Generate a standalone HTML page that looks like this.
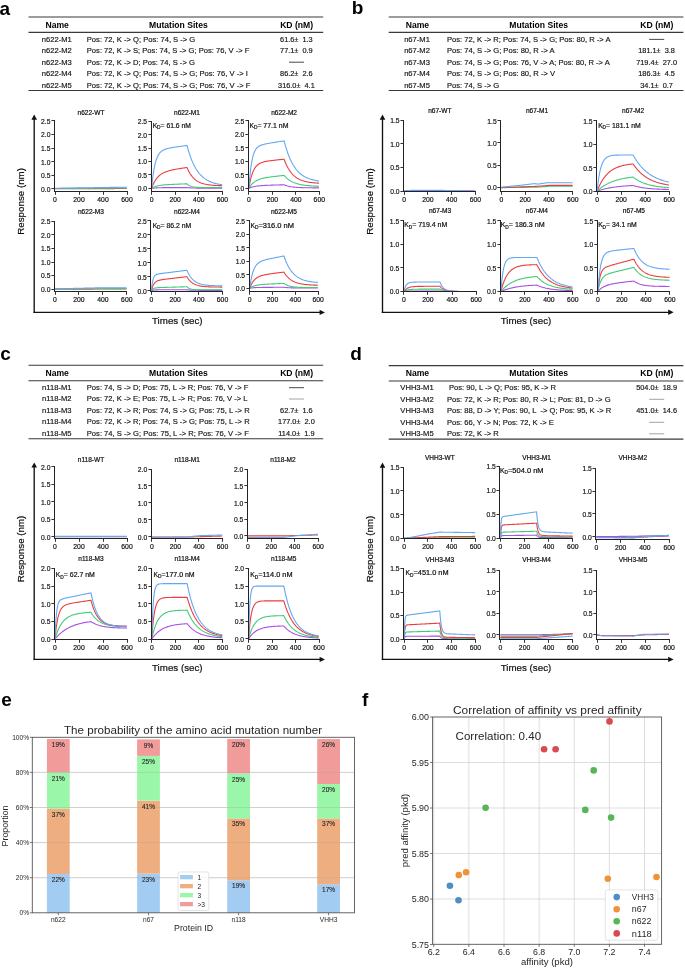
<!DOCTYPE html>
<html><head><meta charset="utf-8"><style>
html,body{margin:0;padding:0;background:#fff;}
svg{display:block;font-family:"Liberation Sans", sans-serif;will-change:transform;filter:blur(0.25px);}
text{white-space:pre;}
.c{fill:#101010;stroke:#101010;stroke-width:0.2px;}
.t{fill:#151515;stroke:#151515;stroke-width:0.17px;}
</style></head><body>
<svg width="685" height="968" viewBox="0 0 685 968">
<rect width="685" height="968" fill="#fff"/>
<text x="-0.60" y="14.70" font-size="19" font-weight="bold" fill="#000">a</text>
<text x="351.70" y="13.90" font-size="19" font-weight="bold" fill="#000">b</text>
<text x="0.30" y="359.70" font-size="19" font-weight="bold" fill="#000">c</text>
<text x="350.20" y="359.70" font-size="19" font-weight="bold" fill="#000">d</text>
<text x="1.20" y="706.30" font-size="19" font-weight="bold" fill="#000">e</text>
<text x="362.00" y="705.90" font-size="19" font-weight="bold" fill="#000">f</text>
<line x1="28.50" y1="17.00" x2="323.20" y2="17.00" stroke="#3a3a3a" stroke-width="1.1"/>
<line x1="28.50" y1="32.40" x2="323.20" y2="32.40" stroke="#3a3a3a" stroke-width="1.1"/>
<line x1="28.50" y1="90.50" x2="323.20" y2="90.50" stroke="#3a3a3a" stroke-width="1.1"/>
<text x="57.20" y="27.80" font-size="8.6" text-anchor="middle" font-weight="bold">Name</text>
<text x="178.40" y="27.80" font-size="8.6" text-anchor="middle" font-weight="bold">Mutation Sites</text>
<text x="296.60" y="27.80" font-size="8.6" text-anchor="middle" font-weight="bold">KD (nM)</text>
<text x="56.80" y="41.80" font-size="7.6" text-anchor="middle" class="t">n622-M1</text>
<text x="86.80" y="41.80" font-size="7.6" class="t">Pos: 72, K -&gt; Q; Pos: 74, S -&gt; G</text>
<text x="296.40" y="41.80" font-size="7.35" text-anchor="middle" class="t">61.6±  1.3</text>
<text x="56.80" y="53.10" font-size="7.6" text-anchor="middle" class="t">n622-M2</text>
<text x="86.80" y="53.10" font-size="7.6" class="t">Pos: 72, K -&gt; S; Pos: 74, S -&gt; G; Pos: 76, V -&gt; F</text>
<text x="296.40" y="53.10" font-size="7.35" text-anchor="middle" class="t">77.1±  0.9</text>
<text x="56.80" y="64.60" font-size="7.6" text-anchor="middle" class="t">n622-M3</text>
<text x="86.80" y="64.60" font-size="7.6" class="t">Pos: 72, K -&gt; D; Pos: 74, S -&gt; G</text>
<line x1="289.00" y1="62.20" x2="304.00" y2="62.20" stroke="#333" stroke-width="0.9"/>
<text x="56.80" y="76.10" font-size="7.6" text-anchor="middle" class="t">n622-M4</text>
<text x="86.80" y="76.10" font-size="7.6" class="t">Pos: 72, K -&gt; Q; Pos: 74, S -&gt; G; Pos: 76, V -&gt; I</text>
<text x="296.40" y="76.10" font-size="7.35" text-anchor="middle" class="t">86.2±  2.6</text>
<text x="56.80" y="87.60" font-size="7.6" text-anchor="middle" class="t">n622-M5</text>
<text x="86.80" y="87.60" font-size="7.6" class="t">Pos: 72, K -&gt; Q; Pos: 74, S -&gt; G; Pos: 76, V -&gt; F</text>
<text x="296.40" y="87.60" font-size="7.35" text-anchor="middle" class="t">316.0±  4.1</text>
<line x1="388.70" y1="17.00" x2="683.40" y2="17.00" stroke="#3a3a3a" stroke-width="1.1"/>
<line x1="388.70" y1="32.40" x2="683.40" y2="32.40" stroke="#3a3a3a" stroke-width="1.1"/>
<line x1="388.70" y1="90.50" x2="683.40" y2="90.50" stroke="#3a3a3a" stroke-width="1.1"/>
<text x="417.40" y="27.80" font-size="8.6" text-anchor="middle" font-weight="bold">Name</text>
<text x="538.60" y="27.80" font-size="8.6" text-anchor="middle" font-weight="bold">Mutation Sites</text>
<text x="656.80" y="27.80" font-size="8.6" text-anchor="middle" font-weight="bold">KD (nM)</text>
<text x="417.00" y="41.80" font-size="7.6" text-anchor="middle" class="t">n67-M1</text>
<text x="447.00" y="41.80" font-size="7.6" class="t">Pos: 72, K -&gt; R; Pos: 74, S -&gt; G; Pos: 80, R -&gt; A</text>
<line x1="649.20" y1="39.40" x2="664.20" y2="39.40" stroke="#333" stroke-width="0.9"/>
<text x="417.00" y="53.10" font-size="7.6" text-anchor="middle" class="t">n67-M2</text>
<text x="447.00" y="53.10" font-size="7.6" class="t">Pos: 74, S -&gt; G; Pos: 80, R -&gt; A</text>
<text x="656.60" y="53.10" font-size="7.35" text-anchor="middle" class="t">181.1±  3.8</text>
<text x="417.00" y="64.60" font-size="7.6" text-anchor="middle" class="t">n67-M3</text>
<text x="447.00" y="64.60" font-size="7.6" class="t">Pos: 74, S -&gt; G; Pos: 76, V -&gt; A; Pos: 80, R -&gt; A</text>
<text x="656.60" y="64.60" font-size="7.35" text-anchor="middle" class="t">719.4±  27.0</text>
<text x="417.00" y="76.10" font-size="7.6" text-anchor="middle" class="t">n67-M4</text>
<text x="447.00" y="76.10" font-size="7.6" class="t">Pos: 74, S -&gt; G; Pos: 80, R -&gt; V</text>
<text x="656.60" y="76.10" font-size="7.35" text-anchor="middle" class="t">186.3±  4.5</text>
<text x="417.00" y="87.60" font-size="7.6" text-anchor="middle" class="t">n67-M5</text>
<text x="447.00" y="87.60" font-size="7.6" class="t">Pos: 74, S -&gt; G</text>
<text x="656.60" y="87.60" font-size="7.35" text-anchor="middle" class="t">34.1±  0.7</text>
<line x1="28.50" y1="365.30" x2="323.20" y2="365.30" stroke="#3a3a3a" stroke-width="1.1"/>
<line x1="28.50" y1="380.70" x2="323.20" y2="380.70" stroke="#3a3a3a" stroke-width="1.1"/>
<line x1="28.50" y1="438.80" x2="323.20" y2="438.80" stroke="#3a3a3a" stroke-width="1.1"/>
<text x="57.20" y="376.10" font-size="8.6" text-anchor="middle" font-weight="bold">Name</text>
<text x="178.40" y="376.10" font-size="8.6" text-anchor="middle" font-weight="bold">Mutation Sites</text>
<text x="296.60" y="376.10" font-size="8.6" text-anchor="middle" font-weight="bold">KD (nM)</text>
<text x="56.80" y="390.10" font-size="7.6" text-anchor="middle" class="t">n118-M1</text>
<text x="86.80" y="390.10" font-size="7.6" class="t">Pos: 74, S -&gt; D; Pos: 75, L -&gt; R; Pos: 76, V -&gt; F</text>
<line x1="289.00" y1="387.70" x2="304.00" y2="387.70" stroke="#333" stroke-width="0.9"/>
<text x="56.80" y="401.40" font-size="7.6" text-anchor="middle" class="t">n118-M2</text>
<text x="86.80" y="401.40" font-size="7.6" class="t">Pos: 72, K -&gt; E; Pos: 75, L -&gt; R; Pos: 76, V -&gt; L</text>
<line x1="289.00" y1="399.00" x2="304.00" y2="399.00" stroke="#999" stroke-width="0.9"/>
<text x="56.80" y="412.90" font-size="7.6" text-anchor="middle" class="t">n118-M3</text>
<text x="86.80" y="412.90" font-size="7.6" class="t">Pos: 72, K -&gt; R; Pos: 74, S -&gt; G; Pos: 75, L -&gt; R</text>
<text x="296.40" y="412.90" font-size="7.35" text-anchor="middle" class="t">62.7±  1.6</text>
<text x="56.80" y="424.40" font-size="7.6" text-anchor="middle" class="t">n118-M4</text>
<text x="86.80" y="424.40" font-size="7.6" class="t">Pos: 72, K -&gt; R; Pos: 74, S -&gt; G; Pos: 75, L -&gt; R</text>
<text x="296.40" y="424.40" font-size="7.35" text-anchor="middle" class="t">177.0±  2.0</text>
<text x="56.80" y="435.90" font-size="7.6" text-anchor="middle" class="t">n118-M5</text>
<text x="86.80" y="435.90" font-size="7.6" class="t">Pos: 74, S -&gt; G; Pos: 75, L -&gt; R; Pos: 76, V -&gt; F</text>
<text x="296.40" y="435.90" font-size="7.35" text-anchor="middle" class="t">114.0±  1.9</text>
<line x1="388.70" y1="365.60" x2="683.40" y2="365.60" stroke="#3a3a3a" stroke-width="1.1"/>
<line x1="388.70" y1="381.00" x2="683.40" y2="381.00" stroke="#3a3a3a" stroke-width="1.1"/>
<line x1="388.70" y1="439.10" x2="683.40" y2="439.10" stroke="#3a3a3a" stroke-width="1.1"/>
<text x="417.40" y="376.40" font-size="8.6" text-anchor="middle" font-weight="bold">Name</text>
<text x="538.60" y="376.40" font-size="8.6" text-anchor="middle" font-weight="bold">Mutation Sites</text>
<text x="656.80" y="376.40" font-size="8.6" text-anchor="middle" font-weight="bold">KD (nM)</text>
<text x="417.00" y="390.40" font-size="7.6" text-anchor="middle" class="t">VHH3-M1</text>
<text x="449.00" y="390.40" font-size="7.6" class="t">Pos: 90, L -&gt; Q; Pos: 95, K -&gt; R</text>
<text x="656.60" y="390.40" font-size="7.35" text-anchor="middle" class="t">504.0±  18.9</text>
<text x="417.00" y="401.70" font-size="7.6" text-anchor="middle" class="t">VHH3-M2</text>
<text x="447.00" y="401.70" font-size="7.6" class="t">Pos: 72, K -&gt; R; Pos: 80, R -&gt; L; Pos: 81, D -&gt; G</text>
<line x1="649.20" y1="399.30" x2="664.20" y2="399.30" stroke="#999" stroke-width="0.9"/>
<text x="417.00" y="413.20" font-size="7.6" text-anchor="middle" class="t">VHH3-M3</text>
<text x="447.00" y="413.20" font-size="7.6" class="t">Pos: 88, D -&gt; Y; Pos: 90, L  -&gt; Q; Pos: 95, K -&gt; R</text>
<text x="656.60" y="413.20" font-size="7.35" text-anchor="middle" class="t">451.0±  14.6</text>
<text x="417.00" y="424.70" font-size="7.6" text-anchor="middle" class="t">VHH3-M4</text>
<text x="447.00" y="424.70" font-size="7.6" class="t">Pos: 66, Y -&gt; N; Pos: 72, K -&gt; E</text>
<line x1="649.20" y1="422.30" x2="664.20" y2="422.30" stroke="#999" stroke-width="0.9"/>
<text x="417.00" y="436.20" font-size="7.6" text-anchor="middle" class="t">VHH3-M5</text>
<text x="447.00" y="436.20" font-size="7.6" class="t">Pos: 72, K -&gt; R</text>
<line x1="649.20" y1="433.80" x2="664.20" y2="433.80" stroke="#999" stroke-width="0.9"/>
<line x1="34.20" y1="118.60" x2="34.20" y2="313.07" stroke="#111" stroke-width="1.35"/>
<line x1="33.53" y1="312.40" x2="321.00" y2="312.40" stroke="#111" stroke-width="1.35"/>
<path d="M34.20,114.60 L31.40,119.80 L37.00,119.80 Z" fill="#111"/>
<path d="M325.00,312.40 L319.60,309.70 L319.60,315.10 Z" fill="#111"/>
<text transform="translate(24.40,201.40) rotate(-90)" font-size="9.75" text-anchor="middle" class="c">Response (nm)</text>
<text x="177.30" y="323.70" font-size="9.75" text-anchor="middle" class="c">Times (sec)</text>
<polyline points="55.00,188.80 55.48,188.80 55.96,188.80 56.44,188.79 56.92,188.79 57.40,188.79 57.88,188.79 58.36,188.79 58.84,188.79 59.32,188.78 59.80,188.78 60.52,188.78 61.24,188.78 61.96,188.77 62.68,188.77 63.40,188.77 64.12,188.77 64.84,188.76 65.56,188.76 66.28,188.76 67.00,188.75 67.72,188.75 68.44,188.75 69.16,188.75 69.88,188.74 70.60,188.74 71.32,188.74 72.04,188.74 72.76,188.73 73.48,188.73 74.20,188.73 74.92,188.72 75.64,188.72 76.36,188.72 77.08,188.72 77.80,188.71 78.52,188.71 79.24,188.71 79.96,188.71 80.68,188.70 81.40,188.70 82.12,188.70 82.84,188.69 83.56,188.69 84.28,188.69 85.00,188.69 85.72,188.68 86.44,188.68 87.16,188.68 87.88,188.68 88.60,188.67 89.32,188.67 90.04,188.67 90.52,188.67 91.00,188.66 91.48,188.66 91.96,188.66 92.44,188.66 92.92,188.66 93.40,188.66 93.88,188.65 94.36,188.65 94.84,188.65 95.32,188.65 95.80,188.65 96.52,188.64 97.24,188.64 97.96,188.64 98.68,188.64 99.40,188.63 100.12,188.63 100.84,188.63 101.56,188.62 102.28,188.62 103.00,188.62 103.72,188.62 104.44,188.61 105.16,188.61 105.88,188.61 106.60,188.61 107.32,188.60 108.04,188.60 108.76,188.60 109.48,188.59 110.20,188.59 110.92,188.59 111.64,188.59 112.36,188.58 113.08,188.58 113.80,188.58 114.52,188.58 115.24,188.57 115.96,188.57 116.68,188.57 117.40,188.56 118.12,188.56 118.84,188.56 119.56,188.56 120.28,188.55 121.00,188.55 121.72,188.55 122.44,188.55 123.16,188.54 123.88,188.54 124.60,188.54 125.32,188.53 126.04,188.53 126.76,188.53" fill="none" stroke="#ec3d3d" stroke-width="1.1" stroke-linejoin="round"/>
<polyline points="55.00,188.53 55.48,188.52 55.96,188.52 56.44,188.52 56.92,188.51 57.40,188.51 57.88,188.51 58.36,188.50 58.84,188.50 59.32,188.50 59.80,188.49 60.52,188.49 61.24,188.48 61.96,188.48 62.68,188.47 63.40,188.47 64.12,188.46 64.84,188.45 65.56,188.45 66.28,188.44 67.00,188.44 67.72,188.43 68.44,188.43 69.16,188.42 69.88,188.42 70.60,188.41 71.32,188.41 72.04,188.40 72.76,188.39 73.48,188.39 74.20,188.38 74.92,188.38 75.64,188.37 76.36,188.37 77.08,188.36 77.80,188.36 78.52,188.35 79.24,188.35 79.96,188.34 80.68,188.33 81.40,188.33 82.12,188.32 82.84,188.32 83.56,188.31 84.28,188.31 85.00,188.30 85.72,188.30 86.44,188.29 87.16,188.29 87.88,188.28 88.60,188.27 89.32,188.27 90.04,188.26 90.52,188.26 91.00,188.26 91.48,188.25 91.96,188.25 92.44,188.25 92.92,188.24 93.40,188.24 93.88,188.24 94.36,188.23 94.84,188.23 95.32,188.22 95.80,188.22 96.52,188.22 97.24,188.21 97.96,188.20 98.68,188.20 99.40,188.19 100.12,188.19 100.84,188.18 101.56,188.18 102.28,188.17 103.00,188.17 103.72,188.16 104.44,188.16 105.16,188.15 105.88,188.14 106.60,188.14 107.32,188.13 108.04,188.13 108.76,188.12 109.48,188.12 110.20,188.11 110.92,188.11 111.64,188.10 112.36,188.10 113.08,188.09 113.80,188.08 114.52,188.08 115.24,188.07 115.96,188.07 116.68,188.06 117.40,188.06 118.12,188.05 118.84,188.05 119.56,188.04 120.28,188.04 121.00,188.03 121.72,188.03 122.44,188.02 123.16,188.01 123.88,188.01 124.60,188.00 125.32,188.00 126.04,187.99 126.76,187.99" fill="none" stroke="#3fcb7a" stroke-width="1.1" stroke-linejoin="round"/>
<polyline points="55.00,188.26 55.48,188.25 55.96,188.24 56.44,188.24 56.92,188.23 57.40,188.22 57.88,188.21 58.36,188.21 58.84,188.20 59.32,188.19 59.80,188.18 60.52,188.17 61.24,188.16 61.96,188.15 62.68,188.14 63.40,188.13 64.12,188.12 64.84,188.11 65.56,188.10 66.28,188.09 67.00,188.08 67.72,188.06 68.44,188.05 69.16,188.04 69.88,188.03 70.60,188.02 71.32,188.01 72.04,188.00 72.76,187.99 73.48,187.98 74.20,187.97 74.92,187.96 75.64,187.95 76.36,187.93 77.08,187.92 77.80,187.91 78.52,187.90 79.24,187.89 79.96,187.88 80.68,187.87 81.40,187.86 82.12,187.85 82.84,187.84 83.56,187.83 84.28,187.81 85.00,187.80 85.72,187.79 86.44,187.78 87.16,187.77 87.88,187.76 88.60,187.75 89.32,187.74 90.04,187.73 90.52,187.72 91.00,187.71 91.48,187.71 91.96,187.70 92.44,187.69 92.92,187.68 93.40,187.68 93.88,187.67 94.36,187.66 94.84,187.66 95.32,187.65 95.80,187.64 96.52,187.63 97.24,187.62 97.96,187.61 98.68,187.60 99.40,187.59 100.12,187.58 100.84,187.57 101.56,187.55 102.28,187.54 103.00,187.53 103.72,187.52 104.44,187.51 105.16,187.50 105.88,187.49 106.60,187.48 107.32,187.47 108.04,187.46 108.76,187.45 109.48,187.43 110.20,187.42 110.92,187.41 111.64,187.40 112.36,187.39 113.08,187.38 113.80,187.37 114.52,187.36 115.24,187.35 115.96,187.34 116.68,187.33 117.40,187.32 118.12,187.30 118.84,187.29 119.56,187.28 120.28,187.27 121.00,187.26 121.72,187.25 122.44,187.24 123.16,187.23 123.88,187.22 124.60,187.21 125.32,187.20 126.04,187.18 126.76,187.17" fill="none" stroke="#62a6f4" stroke-width="1.1" stroke-linejoin="round"/>
<line x1="54.50" y1="120.00" x2="54.50" y2="192.00" stroke="#222" stroke-width="1.0"/>
<line x1="51.40" y1="188.50" x2="54.50" y2="188.50" stroke="#333" stroke-width="1.0"/>
<text transform="translate(50.40,191.70) scale(0.83,1)" font-size="8.1" text-anchor="end" class="c">0.0</text>
<line x1="51.40" y1="175.50" x2="54.50" y2="175.50" stroke="#333" stroke-width="1.0"/>
<text transform="translate(50.40,178.12) scale(0.83,1)" font-size="8.1" text-anchor="end" class="c">0.5</text>
<line x1="51.40" y1="161.50" x2="54.50" y2="161.50" stroke="#333" stroke-width="1.0"/>
<text transform="translate(50.40,164.54) scale(0.83,1)" font-size="8.1" text-anchor="end" class="c">1.0</text>
<line x1="51.40" y1="148.50" x2="54.50" y2="148.50" stroke="#333" stroke-width="1.0"/>
<text transform="translate(50.40,150.96) scale(0.83,1)" font-size="8.1" text-anchor="end" class="c">1.5</text>
<line x1="51.40" y1="134.50" x2="54.50" y2="134.50" stroke="#333" stroke-width="1.0"/>
<text transform="translate(50.40,137.38) scale(0.83,1)" font-size="8.1" text-anchor="end" class="c">2.0</text>
<line x1="51.40" y1="120.50" x2="54.50" y2="120.50" stroke="#333" stroke-width="1.0"/>
<text transform="translate(50.40,123.80) scale(0.83,1)" font-size="8.1" text-anchor="end" class="c">2.5</text>
<line x1="54.00" y1="191.50" x2="128.00" y2="191.50" stroke="#222" stroke-width="1.0"/>
<line x1="55.50" y1="191.50" x2="55.50" y2="194.80" stroke="#333" stroke-width="1.0"/>
<text transform="translate(55.00,201.90) scale(0.91,1)" font-size="7.5" text-anchor="middle" class="c">0</text>
<line x1="79.50" y1="191.50" x2="79.50" y2="194.80" stroke="#333" stroke-width="1.0"/>
<text transform="translate(79.00,201.90) scale(0.91,1)" font-size="7.5" text-anchor="middle" class="c">200</text>
<line x1="103.50" y1="191.50" x2="103.50" y2="194.80" stroke="#333" stroke-width="1.0"/>
<text transform="translate(103.00,201.90) scale(0.91,1)" font-size="7.5" text-anchor="middle" class="c">400</text>
<line x1="127.50" y1="191.50" x2="127.50" y2="194.80" stroke="#333" stroke-width="1.0"/>
<text transform="translate(127.00,201.90) scale(0.91,1)" font-size="7.5" text-anchor="middle" class="c">600</text>
<text x="91.00" y="114.60" font-size="6.55" text-anchor="middle" class="c">n622-WT</text>
<polyline points="151.60,188.40 152.07,188.32 152.54,188.25 153.02,188.19 153.49,188.13 153.96,188.08 154.43,188.04 154.90,187.99 155.38,187.96 155.85,187.92 156.32,187.89 157.03,187.85 157.74,187.81 158.44,187.78 159.15,187.76 159.86,187.73 160.57,187.72 161.28,187.70 161.98,187.68 162.69,187.67 163.40,187.66 164.11,187.65 164.82,187.64 165.52,187.64 166.23,187.63 166.94,187.63 167.65,187.62 168.36,187.62 169.06,187.61 169.77,187.61 170.48,187.61 171.19,187.61 171.90,187.61 172.60,187.60 173.31,187.60 174.02,187.60 174.73,187.60 175.44,187.60 176.14,187.60 176.85,187.60 177.56,187.60 178.27,187.60 178.98,187.60 179.68,187.60 180.39,187.60 181.10,187.60 181.81,187.60 182.52,187.60 183.22,187.60 183.93,187.60 184.64,187.60 185.35,187.60 186.06,187.60 186.53,187.60 187.00,187.60 187.47,187.65 187.94,187.70 188.42,187.74 188.89,187.78 189.36,187.82 189.83,187.85 190.30,187.88 190.78,187.91 191.25,187.93 191.72,187.95 192.43,187.98 193.14,188.01 193.84,188.03 194.55,188.04 195.26,188.06 195.97,188.07 196.68,188.09 197.38,188.10 198.09,188.10 198.80,188.11 199.51,188.12 200.22,188.12 200.92,188.13 201.63,188.13 202.34,188.14 203.05,188.14 203.76,188.14 204.46,188.14 205.17,188.15 205.88,188.15 206.59,188.15 207.30,188.15 208.00,188.15 208.71,188.15 209.42,188.15 210.13,188.15 210.84,188.15 211.54,188.16 212.25,188.16 212.96,188.16 213.67,188.16 214.38,188.16 215.08,188.16 215.79,188.16 216.50,188.16 217.21,188.16 217.92,188.16 218.62,188.16 219.33,188.16 220.04,188.16 220.75,188.16 221.46,188.16 222.16,188.16" fill="none" stroke="#ab4fe6" stroke-width="1.1" stroke-linejoin="round"/>
<polyline points="151.60,188.40 152.07,188.08 152.54,187.78 153.02,187.51 153.49,187.27 153.96,187.04 154.43,186.84 154.90,186.65 155.38,186.48 155.85,186.32 156.32,186.18 157.03,185.99 157.74,185.82 158.44,185.67 159.15,185.54 159.86,185.42 160.57,185.31 161.28,185.22 161.98,185.13 162.69,185.06 163.40,184.99 164.11,184.92 164.82,184.86 165.52,184.81 166.23,184.76 166.94,184.71 167.65,184.67 168.36,184.62 169.06,184.58 169.77,184.55 170.48,184.51 171.19,184.47 171.90,184.44 172.60,184.40 173.31,184.37 174.02,184.34 174.73,184.31 175.44,184.28 176.14,184.25 176.85,184.22 177.56,184.19 178.27,184.16 178.98,184.13 179.68,184.10 180.39,184.07 181.10,184.04 181.81,184.02 182.52,183.99 183.22,183.96 183.93,183.93 184.64,183.90 185.35,183.88 186.06,183.85 186.53,183.83 187.00,183.81 187.47,184.28 187.94,184.69 188.42,185.05 188.89,185.37 189.36,185.64 189.83,185.88 190.30,186.09 190.78,186.28 191.25,186.44 191.72,186.58 192.43,186.76 193.14,186.91 193.84,187.03 194.55,187.13 195.26,187.21 195.97,187.28 196.68,187.33 197.38,187.37 198.09,187.41 198.80,187.44 199.51,187.46 200.22,187.48 200.92,187.50 201.63,187.51 202.34,187.52 203.05,187.53 203.76,187.54 204.46,187.55 205.17,187.55 205.88,187.56 206.59,187.56 207.30,187.56 208.00,187.56 208.71,187.57 209.42,187.57 210.13,187.57 210.84,187.57 211.54,187.57 212.25,187.57 212.96,187.57 213.67,187.57 214.38,187.57 215.08,187.57 215.79,187.57 216.50,187.57 217.21,187.57 217.92,187.57 218.62,187.57 219.33,187.57 220.04,187.57 220.75,187.57 221.46,187.57 222.16,187.57" fill="none" stroke="#3fcb7a" stroke-width="1.1" stroke-linejoin="round"/>
<polyline points="151.60,188.40 152.07,187.10 152.54,185.89 153.02,184.77 153.49,183.73 153.96,182.77 154.43,181.87 154.90,181.04 155.38,180.27 155.85,179.55 156.32,178.89 157.03,177.97 157.74,177.15 158.44,176.41 159.15,175.74 159.86,175.14 160.57,174.59 161.28,174.10 161.98,173.65 162.69,173.24 163.40,172.87 164.11,172.52 164.82,172.21 165.52,171.92 166.23,171.65 166.94,171.40 167.65,171.17 168.36,170.95 169.06,170.75 169.77,170.56 170.48,170.38 171.19,170.20 171.90,170.04 172.60,169.89 173.31,169.74 174.02,169.60 174.73,169.46 175.44,169.33 176.14,169.20 176.85,169.07 177.56,168.95 178.27,168.83 178.98,168.72 179.68,168.60 180.39,168.49 181.10,168.38 181.81,168.27 182.52,168.16 183.22,168.06 183.93,167.95 184.64,167.85 185.35,167.74 186.06,167.64 186.53,167.57 187.00,167.50 187.47,168.60 187.94,169.63 188.42,170.60 188.89,171.52 189.36,172.37 189.83,173.18 190.30,173.94 190.78,174.65 191.25,175.32 191.72,175.96 192.43,176.83 193.14,177.63 193.84,178.36 194.55,179.02 195.26,179.63 195.97,180.18 196.68,180.68 197.38,181.14 198.09,181.56 198.80,181.94 199.51,182.29 200.22,182.61 200.92,182.90 201.63,183.16 202.34,183.40 203.05,183.62 203.76,183.82 204.46,184.01 205.17,184.17 205.88,184.32 206.59,184.46 207.30,184.59 208.00,184.70 208.71,184.81 209.42,184.90 210.13,184.99 210.84,185.07 211.54,185.14 212.25,185.21 212.96,185.27 213.67,185.32 214.38,185.37 215.08,185.42 215.79,185.46 216.50,185.50 217.21,185.53 217.92,185.57 218.62,185.59 219.33,185.62 220.04,185.64 220.75,185.67 221.46,185.69 222.16,185.70" fill="none" stroke="#ec3d3d" stroke-width="1.1" stroke-linejoin="round"/>
<polyline points="151.60,188.40 152.07,183.58 152.54,179.35 153.02,175.64 153.49,172.39 153.96,169.53 154.43,167.03 154.90,164.82 155.38,162.89 155.85,161.19 156.32,159.69 157.03,157.77 157.74,156.18 158.44,154.87 159.15,153.77 159.86,152.86 160.57,152.09 161.28,151.44 161.98,150.90 162.69,150.43 163.40,150.04 164.11,149.69 164.82,149.39 165.52,149.13 166.23,148.90 166.94,148.69 167.65,148.51 168.36,148.34 169.06,148.18 169.77,148.03 170.48,147.89 171.19,147.76 171.90,147.64 172.60,147.52 173.31,147.41 174.02,147.30 174.73,147.19 175.44,147.08 176.14,146.97 176.85,146.87 177.56,146.77 178.27,146.67 178.98,146.57 179.68,146.47 180.39,146.37 181.10,146.27 181.81,146.17 182.52,146.07 183.22,145.98 183.93,145.88 184.64,145.78 185.35,145.68 186.06,145.59 186.53,145.52 187.00,145.46 187.47,147.23 187.94,148.93 188.42,150.55 188.89,152.10 189.36,153.59 189.83,155.01 190.30,156.37 190.78,157.66 191.25,158.91 191.72,160.10 192.43,161.78 193.14,163.36 193.84,164.84 194.55,166.22 195.26,167.51 195.97,168.72 196.68,169.85 197.38,170.91 198.09,171.90 198.80,172.82 199.51,173.69 200.22,174.50 200.92,175.26 201.63,175.97 202.34,176.63 203.05,177.25 203.76,177.83 204.46,178.37 205.17,178.88 205.88,179.36 206.59,179.80 207.30,180.22 208.00,180.61 208.71,180.97 209.42,181.31 210.13,181.63 210.84,181.93 211.54,182.21 212.25,182.47 212.96,182.71 213.67,182.94 214.38,183.15 215.08,183.35 215.79,183.54 216.50,183.72 217.21,183.88 217.92,184.03 218.62,184.18 219.33,184.31 220.04,184.44 220.75,184.55 221.46,184.66 222.16,184.76" fill="none" stroke="#62a6f4" stroke-width="1.1" stroke-linejoin="round"/>
<line x1="151.50" y1="121.00" x2="151.50" y2="192.00" stroke="#222" stroke-width="1.0"/>
<line x1="148.40" y1="188.50" x2="151.50" y2="188.50" stroke="#333" stroke-width="1.0"/>
<text transform="translate(147.00,191.30) scale(0.83,1)" font-size="8.1" text-anchor="end" class="c">0.0</text>
<line x1="148.40" y1="174.50" x2="151.50" y2="174.50" stroke="#333" stroke-width="1.0"/>
<text transform="translate(147.00,177.88) scale(0.83,1)" font-size="8.1" text-anchor="end" class="c">0.5</text>
<line x1="148.40" y1="161.50" x2="151.50" y2="161.50" stroke="#333" stroke-width="1.0"/>
<text transform="translate(147.00,164.46) scale(0.83,1)" font-size="8.1" text-anchor="end" class="c">1.0</text>
<line x1="148.40" y1="148.50" x2="151.50" y2="148.50" stroke="#333" stroke-width="1.0"/>
<text transform="translate(147.00,151.04) scale(0.83,1)" font-size="8.1" text-anchor="end" class="c">1.5</text>
<line x1="148.40" y1="134.50" x2="151.50" y2="134.50" stroke="#333" stroke-width="1.0"/>
<text transform="translate(147.00,137.62) scale(0.83,1)" font-size="8.1" text-anchor="end" class="c">2.0</text>
<line x1="148.40" y1="121.50" x2="151.50" y2="121.50" stroke="#333" stroke-width="1.0"/>
<text transform="translate(147.00,124.20) scale(0.83,1)" font-size="8.1" text-anchor="end" class="c">2.5</text>
<line x1="151.00" y1="191.50" x2="223.00" y2="191.50" stroke="#222" stroke-width="1.0"/>
<line x1="151.50" y1="191.50" x2="151.50" y2="194.80" stroke="#333" stroke-width="1.0"/>
<text transform="translate(151.60,201.70) scale(0.91,1)" font-size="7.5" text-anchor="middle" class="c">0</text>
<line x1="175.50" y1="191.50" x2="175.50" y2="194.80" stroke="#333" stroke-width="1.0"/>
<text transform="translate(175.20,201.70) scale(0.91,1)" font-size="7.5" text-anchor="middle" class="c">200</text>
<line x1="198.50" y1="191.50" x2="198.50" y2="194.80" stroke="#333" stroke-width="1.0"/>
<text transform="translate(198.80,201.70) scale(0.91,1)" font-size="7.5" text-anchor="middle" class="c">400</text>
<line x1="222.50" y1="191.50" x2="222.50" y2="194.80" stroke="#333" stroke-width="1.0"/>
<text transform="translate(222.40,201.70) scale(0.91,1)" font-size="7.5" text-anchor="middle" class="c">600</text>
<text x="187.00" y="114.60" font-size="6.55" text-anchor="middle" class="c">n622-M1</text>
<text x="152.65" y="127.80" font-size="6.7" class="c">K<tspan font-size="4.82" dy="1.6">D</tspan></text>
<text x="160.60" y="127.80" font-size="6.7" class="c" textLength="30.35" lengthAdjust="spacingAndGlyphs">= 61.6 nM</text>
<polyline points="248.90,188.30 249.37,188.08 249.84,187.88 250.31,187.69 250.78,187.52 251.25,187.36 251.72,187.21 252.19,187.07 252.65,186.94 253.12,186.82 253.59,186.71 254.30,186.55 255.00,186.42 255.71,186.29 256.41,186.18 257.11,186.08 257.82,185.99 258.52,185.91 259.23,185.83 259.93,185.76 260.63,185.70 261.34,185.64 262.04,185.59 262.75,185.54 263.45,185.50 264.15,185.45 264.86,185.41 265.56,185.38 266.27,185.34 266.97,185.31 267.67,185.28 268.38,185.25 269.08,185.23 269.79,185.20 270.49,185.18 271.19,185.15 271.90,185.13 272.60,185.11 273.31,185.09 274.01,185.06 274.71,185.04 275.42,185.02 276.12,185.00 276.83,184.99 277.53,184.97 278.23,184.95 278.94,184.93 279.64,184.91 280.35,184.89 281.05,184.88 281.75,184.86 282.46,184.84 283.16,184.82 283.63,184.81 284.10,184.80 284.57,185.00 285.04,185.19 285.51,185.36 285.98,185.52 286.45,185.67 286.92,185.82 287.39,185.95 287.85,186.07 288.32,186.19 288.79,186.30 289.50,186.45 290.20,186.59 290.91,186.71 291.61,186.82 292.31,186.92 293.02,187.01 293.72,187.10 294.43,187.17 295.13,187.24 295.83,187.30 296.54,187.35 297.24,187.40 297.95,187.45 298.65,187.49 299.35,187.53 300.06,187.56 300.76,187.59 301.47,187.62 302.17,187.64 302.87,187.67 303.58,187.69 304.28,187.71 304.99,187.72 305.69,187.74 306.39,187.75 307.10,187.76 307.80,187.77 308.51,187.78 309.21,187.79 309.91,187.80 310.62,187.81 311.32,187.82 312.03,187.82 312.73,187.83 313.43,187.83 314.14,187.84 314.84,187.84 315.55,187.84 316.25,187.85 316.95,187.85 317.66,187.85 318.36,187.86 319.07,187.86" fill="none" stroke="#ab4fe6" stroke-width="1.1" stroke-linejoin="round"/>
<polyline points="248.90,188.30 249.37,187.53 249.84,186.81 250.31,186.15 250.78,185.53 251.25,184.96 251.72,184.42 252.19,183.93 252.65,183.47 253.12,183.04 253.59,182.64 254.30,182.09 255.00,181.60 255.71,181.15 256.41,180.75 257.11,180.38 257.82,180.05 258.52,179.74 259.23,179.47 259.93,179.21 260.63,178.98 261.34,178.77 262.04,178.57 262.75,178.39 263.45,178.22 264.15,178.06 264.86,177.91 265.56,177.77 266.27,177.64 266.97,177.51 267.67,177.39 268.38,177.28 269.08,177.17 269.79,177.07 270.49,176.97 271.19,176.87 271.90,176.78 272.60,176.69 273.31,176.60 274.01,176.51 274.71,176.43 275.42,176.35 276.12,176.27 276.83,176.19 277.53,176.11 278.23,176.03 278.94,175.95 279.64,175.88 280.35,175.80 281.05,175.73 281.75,175.65 282.46,175.58 283.16,175.51 283.63,175.46 284.10,175.41 284.57,175.95 285.04,176.46 285.51,176.95 285.98,177.42 286.45,177.86 286.92,178.28 287.39,178.68 287.85,179.06 288.32,179.43 288.79,179.77 289.50,180.26 290.20,180.71 290.91,181.13 291.61,181.51 292.31,181.87 293.02,182.21 293.72,182.52 294.43,182.81 295.13,183.07 295.83,183.32 296.54,183.55 297.24,183.76 297.95,183.96 298.65,184.14 299.35,184.31 300.06,184.47 300.76,184.62 301.47,184.75 302.17,184.88 302.87,185.00 303.58,185.10 304.28,185.20 304.99,185.30 305.69,185.38 306.39,185.46 307.10,185.54 307.80,185.61 308.51,185.67 309.21,185.73 309.91,185.79 310.62,185.84 311.32,185.89 312.03,185.93 312.73,185.97 313.43,186.01 314.14,186.04 314.84,186.08 315.55,186.11 316.25,186.13 316.95,186.16 317.66,186.18 318.36,186.21 319.07,186.23" fill="none" stroke="#3fcb7a" stroke-width="1.1" stroke-linejoin="round"/>
<polyline points="248.90,188.30 249.37,185.49 249.84,182.97 250.31,180.73 250.78,178.72 251.25,176.92 251.72,175.31 252.19,173.87 252.65,172.58 253.12,171.43 253.59,170.39 254.30,169.04 255.00,167.88 255.71,166.90 256.41,166.06 257.11,165.34 257.82,164.73 258.52,164.20 259.23,163.74 259.93,163.34 260.63,163.00 261.34,162.70 262.04,162.43 262.75,162.20 263.45,161.99 264.15,161.81 264.86,161.64 265.56,161.48 266.27,161.35 266.97,161.22 267.67,161.10 268.38,160.99 269.08,160.88 269.79,160.78 270.49,160.69 271.19,160.60 271.90,160.51 272.60,160.43 273.31,160.34 274.01,160.26 274.71,160.19 275.42,160.11 276.12,160.03 276.83,159.96 277.53,159.88 278.23,159.81 278.94,159.74 279.64,159.67 280.35,159.59 281.05,159.52 281.75,159.45 282.46,159.38 283.16,159.31 283.63,159.26 284.10,159.22 284.57,160.48 285.04,161.69 285.51,162.83 285.98,163.91 286.45,164.93 286.92,165.91 287.39,166.83 287.85,167.70 288.32,168.53 288.79,169.31 289.50,170.42 290.20,171.43 290.91,172.37 291.61,173.24 292.31,174.04 293.02,174.78 293.72,175.46 294.43,176.09 295.13,176.67 295.83,177.21 296.54,177.70 297.24,178.16 297.95,178.58 298.65,178.97 299.35,179.33 300.06,179.66 300.76,179.97 301.47,180.25 302.17,180.51 302.87,180.75 303.58,180.98 304.28,181.18 304.99,181.37 305.69,181.55 306.39,181.71 307.10,181.86 307.80,181.99 308.51,182.12 309.21,182.24 309.91,182.35 310.62,182.45 311.32,182.54 312.03,182.62 312.73,182.70 313.43,182.77 314.14,182.84 314.84,182.90 315.55,182.96 316.25,183.01 316.95,183.06 317.66,183.11 318.36,183.15 319.07,183.19" fill="none" stroke="#ec3d3d" stroke-width="1.1" stroke-linejoin="round"/>
<polyline points="248.90,188.30 249.37,182.05 249.84,176.71 250.31,172.14 250.78,168.24 251.25,164.91 251.72,162.06 252.19,159.62 252.65,157.53 253.12,155.73 253.59,154.19 254.30,152.28 255.00,150.75 255.71,149.52 256.41,148.53 257.11,147.73 257.82,147.08 258.52,146.54 259.23,146.09 259.93,145.71 260.63,145.39 261.34,145.11 262.04,144.87 262.75,144.66 263.45,144.46 264.15,144.29 264.86,144.13 265.56,143.97 266.27,143.83 266.97,143.69 267.67,143.56 268.38,143.43 269.08,143.31 269.79,143.19 270.49,143.07 271.19,142.95 271.90,142.83 272.60,142.71 273.31,142.60 274.01,142.48 274.71,142.37 275.42,142.25 276.12,142.14 276.83,142.02 277.53,141.91 278.23,141.80 278.94,141.68 279.64,141.57 280.35,141.46 281.05,141.34 281.75,141.23 282.46,141.12 283.16,141.00 283.63,140.93 284.10,140.85 284.57,142.67 285.04,144.40 285.51,146.06 285.98,147.65 286.45,149.17 286.92,150.62 287.39,152.01 287.85,153.34 288.32,154.62 288.79,155.83 289.50,157.56 290.20,159.18 290.91,160.69 291.61,162.10 292.31,163.42 293.02,164.66 293.72,165.82 294.43,166.90 295.13,167.91 295.83,168.86 296.54,169.75 297.24,170.58 297.95,171.35 298.65,172.08 299.35,172.76 300.06,173.39 300.76,173.99 301.47,174.54 302.17,175.06 302.87,175.55 303.58,176.00 304.28,176.43 304.99,176.83 305.69,177.20 306.39,177.55 307.10,177.88 307.80,178.18 308.51,178.47 309.21,178.73 309.91,178.98 310.62,179.22 311.32,179.44 312.03,179.64 312.73,179.83 313.43,180.01 314.14,180.18 314.84,180.33 315.55,180.48 316.25,180.62 316.95,180.75 317.66,180.87 318.36,180.98 319.07,181.08" fill="none" stroke="#62a6f4" stroke-width="1.1" stroke-linejoin="round"/>
<line x1="248.50" y1="120.00" x2="248.50" y2="192.00" stroke="#222" stroke-width="1.0"/>
<line x1="245.40" y1="188.50" x2="248.50" y2="188.50" stroke="#333" stroke-width="1.0"/>
<text transform="translate(244.30,191.20) scale(0.83,1)" font-size="8.1" text-anchor="end" class="c">0.0</text>
<line x1="245.40" y1="174.50" x2="248.50" y2="174.50" stroke="#333" stroke-width="1.0"/>
<text transform="translate(244.30,177.72) scale(0.83,1)" font-size="8.1" text-anchor="end" class="c">0.5</text>
<line x1="245.40" y1="161.50" x2="248.50" y2="161.50" stroke="#333" stroke-width="1.0"/>
<text transform="translate(244.30,164.24) scale(0.83,1)" font-size="8.1" text-anchor="end" class="c">1.0</text>
<line x1="245.40" y1="147.50" x2="248.50" y2="147.50" stroke="#333" stroke-width="1.0"/>
<text transform="translate(244.30,150.76) scale(0.83,1)" font-size="8.1" text-anchor="end" class="c">1.5</text>
<line x1="245.40" y1="134.50" x2="248.50" y2="134.50" stroke="#333" stroke-width="1.0"/>
<text transform="translate(244.30,137.28) scale(0.83,1)" font-size="8.1" text-anchor="end" class="c">2.0</text>
<line x1="245.40" y1="120.50" x2="248.50" y2="120.50" stroke="#333" stroke-width="1.0"/>
<text transform="translate(244.30,123.80) scale(0.83,1)" font-size="8.1" text-anchor="end" class="c">2.5</text>
<line x1="248.00" y1="191.50" x2="320.00" y2="191.50" stroke="#222" stroke-width="1.0"/>
<line x1="248.50" y1="191.50" x2="248.50" y2="194.80" stroke="#333" stroke-width="1.0"/>
<text transform="translate(248.90,201.60) scale(0.91,1)" font-size="7.5" text-anchor="middle" class="c">0</text>
<line x1="272.50" y1="191.50" x2="272.50" y2="194.80" stroke="#333" stroke-width="1.0"/>
<text transform="translate(272.37,201.60) scale(0.91,1)" font-size="7.5" text-anchor="middle" class="c">200</text>
<line x1="295.50" y1="191.50" x2="295.50" y2="194.80" stroke="#333" stroke-width="1.0"/>
<text transform="translate(295.83,201.60) scale(0.91,1)" font-size="7.5" text-anchor="middle" class="c">400</text>
<line x1="319.50" y1="191.50" x2="319.50" y2="194.80" stroke="#333" stroke-width="1.0"/>
<text transform="translate(319.30,201.60) scale(0.91,1)" font-size="7.5" text-anchor="middle" class="c">600</text>
<text x="284.10" y="114.60" font-size="6.55" text-anchor="middle" class="c">n622-M2</text>
<text x="249.45" y="127.60" font-size="6.7" class="c">K<tspan font-size="4.82" dy="1.6">D</tspan></text>
<text x="257.40" y="127.60" font-size="6.7" class="c" textLength="31.05" lengthAdjust="spacingAndGlyphs">= 77.1 nM</text>
<polyline points="55.00,289.10 55.48,289.10 55.96,289.10 56.44,289.10 56.91,289.10 57.39,289.10 57.87,289.10 58.35,289.10 58.83,289.10 59.31,289.10 59.79,289.10 60.50,289.10 61.22,289.10 61.94,289.10 62.66,289.10 63.38,289.10 64.09,289.10 64.81,289.10 65.53,289.10 66.25,289.10 66.97,289.10 67.68,289.10 68.40,289.10 69.12,289.10 69.84,289.10 70.56,289.10 71.27,289.10 71.99,289.10 72.71,289.10 73.43,289.10 74.15,289.10 74.86,289.10 75.58,289.10 76.30,289.10 77.02,289.10 77.74,289.10 78.45,289.10 79.17,289.10 79.89,289.10 80.61,289.10 81.33,289.10 82.04,289.10 82.76,289.10 83.48,289.10 84.20,289.10 84.92,289.10 85.63,289.10 86.35,289.10 87.07,289.10 87.79,289.10 88.51,289.10 89.22,289.10 89.94,289.10 90.42,289.10 90.90,289.10 91.38,289.10 91.86,289.09 92.34,289.09 92.81,289.09 93.29,289.08 93.77,289.08 94.25,289.07 94.73,289.07 95.21,289.07 95.69,289.06 96.40,289.06 97.12,289.05 97.84,289.05 98.56,289.04 99.28,289.04 99.99,289.03 100.71,289.03 101.43,289.02 102.15,289.02 102.87,289.01 103.58,289.00 104.30,289.00 105.02,288.99 105.74,288.99 106.46,288.98 107.17,288.98 107.89,288.97 108.61,288.97 109.33,288.96 110.05,288.96 110.76,288.95 111.48,288.94 112.20,288.94 112.92,288.93 113.64,288.93 114.35,288.92 115.07,288.92 115.79,288.91 116.51,288.91 117.23,288.90 117.94,288.90 118.66,288.89 119.38,288.89 120.10,288.88 120.82,288.87 121.53,288.87 122.25,288.86 122.97,288.86 123.69,288.85 124.41,288.85 125.12,288.84 125.84,288.84 126.56,288.83" fill="none" stroke="#ec3d3d" stroke-width="1.1" stroke-linejoin="round"/>
<polyline points="55.00,288.96 55.48,288.96 55.96,288.96 56.44,288.96 56.91,288.95 57.39,288.95 57.87,288.95 58.35,288.95 58.83,288.94 59.31,288.94 59.79,288.94 60.50,288.93 61.22,288.93 61.94,288.93 62.66,288.92 63.38,288.92 64.09,288.91 64.81,288.91 65.53,288.91 66.25,288.90 66.97,288.90 67.68,288.89 68.40,288.89 69.12,288.88 69.84,288.88 70.56,288.88 71.27,288.87 71.99,288.87 72.71,288.86 73.43,288.86 74.15,288.86 74.86,288.85 75.58,288.85 76.30,288.84 77.02,288.84 77.74,288.84 78.45,288.83 79.17,288.83 79.89,288.82 80.61,288.82 81.33,288.82 82.04,288.81 82.76,288.81 83.48,288.80 84.20,288.80 84.92,288.80 85.63,288.79 86.35,288.79 87.07,288.78 87.79,288.78 88.51,288.78 89.22,288.77 89.94,288.77 90.42,288.76 90.90,288.76 91.38,288.76 91.86,288.76 92.34,288.75 92.81,288.75 93.29,288.75 93.77,288.75 94.25,288.74 94.73,288.74 95.21,288.74 95.69,288.73 96.40,288.73 97.12,288.73 97.84,288.72 98.56,288.72 99.28,288.71 99.99,288.71 100.71,288.71 101.43,288.70 102.15,288.70 102.87,288.69 103.58,288.69 104.30,288.69 105.02,288.68 105.74,288.68 106.46,288.67 107.17,288.67 107.89,288.67 108.61,288.66 109.33,288.66 110.05,288.65 110.76,288.65 111.48,288.65 112.20,288.64 112.92,288.64 113.64,288.63 114.35,288.63 115.07,288.62 115.79,288.62 116.51,288.62 117.23,288.61 117.94,288.61 118.66,288.60 119.38,288.60 120.10,288.60 120.82,288.59 121.53,288.59 122.25,288.58 122.97,288.58 123.69,288.58 124.41,288.57 125.12,288.57 125.84,288.56 126.56,288.56" fill="none" stroke="#3fcb7a" stroke-width="1.1" stroke-linejoin="round"/>
<polyline points="55.00,288.83 55.48,288.82 55.96,288.81 56.44,288.80 56.91,288.79 57.39,288.78 57.87,288.76 58.35,288.75 58.83,288.74 59.31,288.73 59.79,288.72 60.50,288.70 61.22,288.69 61.94,288.67 62.66,288.66 63.38,288.64 64.09,288.62 64.81,288.61 65.53,288.59 66.25,288.57 66.97,288.56 67.68,288.54 68.40,288.53 69.12,288.51 69.84,288.49 70.56,288.48 71.27,288.46 71.99,288.44 72.71,288.43 73.43,288.41 74.15,288.40 74.86,288.38 75.58,288.36 76.30,288.35 77.02,288.33 77.74,288.31 78.45,288.30 79.17,288.28 79.89,288.27 80.61,288.25 81.33,288.23 82.04,288.22 82.76,288.20 83.48,288.18 84.20,288.17 84.92,288.15 85.63,288.14 86.35,288.12 87.07,288.10 87.79,288.09 88.51,288.07 89.22,288.05 89.94,288.04 90.42,288.03 90.90,288.02 91.38,288.01 91.86,288.00 92.34,287.98 92.81,287.97 93.29,287.96 93.77,287.95 94.25,287.94 94.73,287.93 95.21,287.92 95.69,287.91 96.40,287.89 97.12,287.88 97.84,287.86 98.56,287.84 99.28,287.83 99.99,287.81 100.71,287.79 101.43,287.78 102.15,287.76 102.87,287.75 103.58,287.75 104.30,287.75 105.02,287.75 105.74,287.75 106.46,287.75 107.17,287.75 107.89,287.75 108.61,287.75 109.33,287.75 110.05,287.75 110.76,287.75 111.48,287.75 112.20,287.75 112.92,287.75 113.64,287.75 114.35,287.75 115.07,287.75 115.79,287.75 116.51,287.75 117.23,287.75 117.94,287.75 118.66,287.75 119.38,287.75 120.10,287.75 120.82,287.75 121.53,287.75 122.25,287.75 122.97,287.75 123.69,287.75 124.41,287.75 125.12,287.75 125.84,287.75 126.56,287.75" fill="none" stroke="#62a6f4" stroke-width="1.1" stroke-linejoin="round"/>
<line x1="54.50" y1="221.00" x2="54.50" y2="292.00" stroke="#222" stroke-width="1.0"/>
<line x1="51.40" y1="289.50" x2="54.50" y2="289.50" stroke="#333" stroke-width="1.0"/>
<text transform="translate(50.40,292.00) scale(0.83,1)" font-size="8.1" text-anchor="end" class="c">0.0</text>
<line x1="51.40" y1="275.50" x2="54.50" y2="275.50" stroke="#333" stroke-width="1.0"/>
<text transform="translate(50.40,278.46) scale(0.83,1)" font-size="8.1" text-anchor="end" class="c">0.5</text>
<line x1="51.40" y1="262.50" x2="54.50" y2="262.50" stroke="#333" stroke-width="1.0"/>
<text transform="translate(50.40,264.92) scale(0.83,1)" font-size="8.1" text-anchor="end" class="c">1.0</text>
<line x1="51.40" y1="248.50" x2="54.50" y2="248.50" stroke="#333" stroke-width="1.0"/>
<text transform="translate(50.40,251.38) scale(0.83,1)" font-size="8.1" text-anchor="end" class="c">1.5</text>
<line x1="51.40" y1="234.50" x2="54.50" y2="234.50" stroke="#333" stroke-width="1.0"/>
<text transform="translate(50.40,237.84) scale(0.83,1)" font-size="8.1" text-anchor="end" class="c">2.0</text>
<line x1="51.40" y1="221.50" x2="54.50" y2="221.50" stroke="#333" stroke-width="1.0"/>
<text transform="translate(50.40,224.30) scale(0.83,1)" font-size="8.1" text-anchor="end" class="c">2.5</text>
<line x1="54.00" y1="291.50" x2="127.00" y2="291.50" stroke="#222" stroke-width="1.0"/>
<line x1="55.50" y1="291.50" x2="55.50" y2="294.80" stroke="#333" stroke-width="1.0"/>
<text transform="translate(55.00,302.30) scale(0.91,1)" font-size="7.5" text-anchor="middle" class="c">0</text>
<line x1="78.50" y1="291.50" x2="78.50" y2="294.80" stroke="#333" stroke-width="1.0"/>
<text transform="translate(78.93,302.30) scale(0.91,1)" font-size="7.5" text-anchor="middle" class="c">200</text>
<line x1="102.50" y1="291.50" x2="102.50" y2="294.80" stroke="#333" stroke-width="1.0"/>
<text transform="translate(102.87,302.30) scale(0.91,1)" font-size="7.5" text-anchor="middle" class="c">400</text>
<line x1="126.50" y1="291.50" x2="126.50" y2="294.80" stroke="#333" stroke-width="1.0"/>
<text transform="translate(126.80,302.30) scale(0.91,1)" font-size="7.5" text-anchor="middle" class="c">600</text>
<text x="90.90" y="214.00" font-size="6.55" text-anchor="middle" class="c">n622-M3</text>
<polyline points="151.40,290.60 151.87,290.45 152.35,290.32 152.82,290.22 153.30,290.14 153.77,290.07 154.24,290.02 154.72,289.97 155.19,289.93 155.67,289.90 156.14,289.88 156.85,289.85 157.56,289.83 158.27,289.81 158.98,289.80 159.69,289.79 160.41,289.78 161.12,289.78 161.83,289.77 162.54,289.77 163.25,289.77 163.96,289.77 164.67,289.77 165.38,289.77 166.09,289.77 166.81,289.76 167.52,289.76 168.23,289.76 168.94,289.76 169.65,289.76 170.36,289.76 171.07,289.76 171.78,289.76 172.49,289.76 173.20,289.76 173.91,289.76 174.63,289.76 175.34,289.76 176.05,289.76 176.76,289.76 177.47,289.76 178.18,289.76 178.89,289.76 179.60,289.76 180.31,289.76 181.03,289.76 181.74,289.76 182.45,289.76 183.16,289.76 183.87,289.76 184.58,289.76 185.29,289.76 186.00,289.76 186.48,289.76 186.95,289.76 187.42,289.84 187.90,289.90 188.37,289.96 188.85,290.01 189.32,290.05 189.79,290.09 190.27,290.12 190.74,290.15 191.22,290.17 191.69,290.19 192.40,290.22 193.11,290.25 193.82,290.26 194.53,290.28 195.25,290.29 195.96,290.30 196.67,290.31 197.38,290.32 198.09,290.32 198.80,290.33 199.51,290.33 200.22,290.34 200.93,290.34 201.64,290.34 202.36,290.34 203.07,290.34 203.78,290.34 204.49,290.34 205.20,290.35 205.91,290.35 206.62,290.35 207.33,290.35 208.04,290.35 208.75,290.35 209.47,290.35 210.18,290.35 210.89,290.35 211.60,290.35 212.31,290.35 213.02,290.35 213.73,290.35 214.44,290.35 215.15,290.35 215.86,290.35 216.57,290.35 217.29,290.35 218.00,290.35 218.71,290.35 219.42,290.35 220.13,290.35 220.84,290.35 221.55,290.35 222.26,290.35" fill="none" stroke="#ab4fe6" stroke-width="1.1" stroke-linejoin="round"/>
<polyline points="151.40,290.60 151.87,289.93 152.35,289.42 152.82,289.02 153.30,288.71 153.77,288.47 154.24,288.29 154.72,288.14 155.19,288.03 155.67,287.93 156.14,287.86 156.85,287.78 157.56,287.71 158.27,287.66 158.98,287.62 159.69,287.58 160.41,287.55 161.12,287.53 161.83,287.50 162.54,287.48 163.25,287.45 163.96,287.43 164.67,287.41 165.38,287.39 166.09,287.36 166.81,287.34 167.52,287.32 168.23,287.30 168.94,287.28 169.65,287.25 170.36,287.23 171.07,287.21 171.78,287.19 172.49,287.17 173.20,287.15 173.91,287.12 174.63,287.10 175.34,287.08 176.05,287.06 176.76,287.04 177.47,287.01 178.18,286.99 178.89,286.97 179.60,286.95 180.31,286.93 181.03,286.91 181.74,286.88 182.45,286.86 183.16,286.84 183.87,286.82 184.58,286.80 185.29,286.78 186.00,286.75 186.48,286.74 186.95,286.72 187.42,287.18 187.90,287.57 188.37,287.91 188.85,288.19 189.32,288.43 189.79,288.64 190.27,288.81 190.74,288.96 191.22,289.09 191.69,289.20 192.40,289.33 193.11,289.44 193.82,289.52 194.53,289.59 195.25,289.64 195.96,289.68 196.67,289.71 197.38,289.73 198.09,289.75 198.80,289.77 199.51,289.78 200.22,289.79 200.93,289.80 201.64,289.80 202.36,289.81 203.07,289.81 203.78,289.81 204.49,289.82 205.20,289.82 205.91,289.82 206.62,289.82 207.33,289.82 208.04,289.82 208.75,289.82 209.47,289.82 210.18,289.82 210.89,289.82 211.60,289.82 212.31,289.82 213.02,289.82 213.73,289.82 214.44,289.82 215.15,289.82 215.86,289.82 216.57,289.82 217.29,289.82 218.00,289.82 218.71,289.82 219.42,289.82 220.13,289.82 220.84,289.82 221.55,289.82 222.26,289.82" fill="none" stroke="#3fcb7a" stroke-width="1.1" stroke-linejoin="round"/>
<polyline points="151.40,290.60 151.87,288.78 152.35,287.27 152.82,286.03 153.30,285.00 153.77,284.15 154.24,283.45 154.72,282.86 155.19,282.37 155.67,281.95 156.14,281.61 156.85,281.18 157.56,280.84 158.27,280.57 158.98,280.35 159.69,280.16 160.41,280.00 161.12,279.86 161.83,279.74 162.54,279.62 163.25,279.51 163.96,279.41 164.67,279.32 165.38,279.22 166.09,279.13 166.81,279.04 167.52,278.96 168.23,278.87 168.94,278.78 169.65,278.70 170.36,278.61 171.07,278.53 171.78,278.45 172.49,278.36 173.20,278.28 173.91,278.19 174.63,278.11 175.34,278.03 176.05,277.94 176.76,277.86 177.47,277.78 178.18,277.69 178.89,277.61 179.60,277.52 180.31,277.44 181.03,277.36 181.74,277.27 182.45,277.19 183.16,277.11 183.87,277.02 184.58,276.94 185.29,276.86 186.00,276.77 186.48,276.72 186.95,276.66 187.42,277.46 187.90,278.21 188.37,278.89 188.85,279.52 189.32,280.11 189.79,280.65 190.27,281.14 190.74,281.60 191.22,282.03 191.69,282.42 192.40,282.95 193.11,283.42 193.82,283.84 194.53,284.21 195.25,284.54 195.96,284.83 196.67,285.09 197.38,285.32 198.09,285.52 198.80,285.70 199.51,285.86 200.22,286.00 200.93,286.13 201.64,286.24 202.36,286.34 203.07,286.43 203.78,286.50 204.49,286.57 205.20,286.63 205.91,286.69 206.62,286.74 207.33,286.78 208.04,286.82 208.75,286.85 209.47,286.88 210.18,286.91 210.89,286.93 211.60,286.95 212.31,286.97 213.02,286.99 213.73,287.00 214.44,287.01 215.15,287.03 215.86,287.04 216.57,287.04 217.29,287.05 218.00,287.06 218.71,287.07 219.42,287.07 220.13,287.08 220.84,287.08 221.55,287.08 222.26,287.09" fill="none" stroke="#ec3d3d" stroke-width="1.1" stroke-linejoin="round"/>
<polyline points="151.40,290.60 151.87,286.04 152.35,282.75 152.82,280.38 153.30,278.66 153.77,277.41 154.24,276.50 154.72,275.84 155.19,275.34 155.67,274.97 156.14,274.68 156.85,274.37 157.56,274.15 158.27,273.98 158.98,273.84 159.69,273.72 160.41,273.61 161.12,273.51 161.83,273.42 162.54,273.33 163.25,273.23 163.96,273.14 164.67,273.05 165.38,272.97 166.09,272.88 166.81,272.79 167.52,272.70 168.23,272.61 168.94,272.52 169.65,272.43 170.36,272.34 171.07,272.26 171.78,272.17 172.49,272.08 173.20,271.99 173.91,271.90 174.63,271.81 175.34,271.72 176.05,271.63 176.76,271.55 177.47,271.46 178.18,271.37 178.89,271.28 179.60,271.19 180.31,271.10 181.03,271.01 181.74,270.93 182.45,270.84 183.16,270.75 183.87,270.66 184.58,270.57 185.29,270.48 186.00,270.39 186.48,270.33 186.95,270.28 187.42,271.37 187.90,272.39 188.37,273.34 188.85,274.23 189.32,275.05 189.79,275.81 190.27,276.52 190.74,277.18 191.22,277.79 191.69,278.36 192.40,279.14 193.11,279.85 193.82,280.47 194.53,281.04 195.25,281.54 195.96,282.00 196.67,282.40 197.38,282.77 198.09,283.09 198.80,283.39 199.51,283.65 200.22,283.88 200.93,284.09 201.64,284.28 202.36,284.45 203.07,284.61 203.78,284.74 204.49,284.86 205.20,284.97 205.91,285.07 206.62,285.16 207.33,285.24 208.04,285.31 208.75,285.37 209.47,285.43 210.18,285.48 210.89,285.53 211.60,285.57 212.31,285.61 213.02,285.64 213.73,285.67 214.44,285.69 215.15,285.72 215.86,285.74 216.57,285.76 217.29,285.78 218.00,285.79 218.71,285.81 219.42,285.82 220.13,285.83 220.84,285.84 221.55,285.85 222.26,285.86" fill="none" stroke="#62a6f4" stroke-width="1.1" stroke-linejoin="round"/>
<line x1="150.50" y1="220.00" x2="150.50" y2="292.00" stroke="#222" stroke-width="1.0"/>
<line x1="147.40" y1="290.50" x2="150.50" y2="290.50" stroke="#333" stroke-width="1.0"/>
<text transform="translate(146.80,293.50) scale(0.83,1)" font-size="8.1" text-anchor="end" class="c">0.0</text>
<line x1="147.40" y1="276.50" x2="150.50" y2="276.50" stroke="#333" stroke-width="1.0"/>
<text transform="translate(146.80,279.56) scale(0.83,1)" font-size="8.1" text-anchor="end" class="c">0.5</text>
<line x1="147.40" y1="262.50" x2="150.50" y2="262.50" stroke="#333" stroke-width="1.0"/>
<text transform="translate(146.80,265.62) scale(0.83,1)" font-size="8.1" text-anchor="end" class="c">1.0</text>
<line x1="147.40" y1="248.50" x2="150.50" y2="248.50" stroke="#333" stroke-width="1.0"/>
<text transform="translate(146.80,251.68) scale(0.83,1)" font-size="8.1" text-anchor="end" class="c">1.5</text>
<line x1="147.40" y1="234.50" x2="150.50" y2="234.50" stroke="#333" stroke-width="1.0"/>
<text transform="translate(146.80,237.74) scale(0.83,1)" font-size="8.1" text-anchor="end" class="c">2.0</text>
<line x1="147.40" y1="220.50" x2="150.50" y2="220.50" stroke="#333" stroke-width="1.0"/>
<text transform="translate(146.80,223.80) scale(0.83,1)" font-size="8.1" text-anchor="end" class="c">2.5</text>
<line x1="150.00" y1="291.50" x2="223.00" y2="291.50" stroke="#222" stroke-width="1.0"/>
<line x1="151.50" y1="291.50" x2="151.50" y2="294.80" stroke="#333" stroke-width="1.0"/>
<text transform="translate(151.40,302.00) scale(0.91,1)" font-size="7.5" text-anchor="middle" class="c">0</text>
<line x1="175.50" y1="291.50" x2="175.50" y2="294.80" stroke="#333" stroke-width="1.0"/>
<text transform="translate(175.10,302.00) scale(0.91,1)" font-size="7.5" text-anchor="middle" class="c">200</text>
<line x1="198.50" y1="291.50" x2="198.50" y2="294.80" stroke="#333" stroke-width="1.0"/>
<text transform="translate(198.80,302.00) scale(0.91,1)" font-size="7.5" text-anchor="middle" class="c">400</text>
<line x1="222.50" y1="291.50" x2="222.50" y2="294.80" stroke="#333" stroke-width="1.0"/>
<text transform="translate(222.50,302.00) scale(0.91,1)" font-size="7.5" text-anchor="middle" class="c">600</text>
<text x="186.95" y="214.00" font-size="6.55" text-anchor="middle" class="c">n622-M4</text>
<text x="152.65" y="227.60" font-size="6.7" class="c">K<tspan font-size="4.82" dy="1.6">D</tspan></text>
<text x="160.60" y="227.60" font-size="6.7" class="c" textLength="30.65" lengthAdjust="spacingAndGlyphs">= 86.2 nM</text>
<polyline points="249.70,288.30 250.16,288.20 250.61,288.10 251.07,288.02 251.52,287.95 251.98,287.89 252.44,287.84 252.89,287.79 253.35,287.74 253.80,287.71 254.26,287.67 254.94,287.63 255.63,287.59 256.31,287.56 257.00,287.54 257.68,287.51 258.36,287.49 259.05,287.48 259.73,287.46 260.42,287.45 261.10,287.44 261.78,287.43 262.47,287.42 263.15,287.41 263.84,287.40 264.52,287.40 265.20,287.39 265.89,287.38 266.57,287.38 267.26,287.37 267.94,287.37 268.62,287.36 269.31,287.35 269.99,287.35 270.68,287.34 271.36,287.34 272.04,287.33 272.73,287.33 273.41,287.32 274.10,287.32 274.78,287.31 275.46,287.31 276.15,287.30 276.83,287.30 277.52,287.29 278.20,287.29 278.88,287.28 279.57,287.28 280.25,287.27 280.94,287.27 281.62,287.26 282.30,287.26 282.99,287.26 283.44,287.25 283.90,287.25 284.36,287.32 284.81,287.38 285.27,287.44 285.72,287.49 286.18,287.54 286.64,287.58 287.09,287.62 287.55,287.65 288.00,287.69 288.46,287.71 289.14,287.75 289.83,287.78 290.51,287.81 291.20,287.84 291.88,287.86 292.56,287.87 293.25,287.89 293.93,287.90 294.62,287.91 295.30,287.92 295.98,287.93 296.67,287.94 297.35,287.95 298.04,287.95 298.72,287.96 299.40,287.96 300.09,287.96 300.77,287.97 301.46,287.97 302.14,287.97 302.82,287.97 303.51,287.97 304.19,287.98 304.88,287.98 305.56,287.98 306.24,287.98 306.93,287.98 307.61,287.98 308.30,287.98 308.98,287.98 309.66,287.98 310.35,287.98 311.03,287.98 311.72,287.98 312.40,287.98 313.08,287.98 313.77,287.98 314.45,287.98 315.14,287.98 315.82,287.98 316.50,287.98 317.19,287.98 317.87,287.98" fill="none" stroke="#ab4fe6" stroke-width="1.1" stroke-linejoin="round"/>
<polyline points="249.70,288.30 250.16,287.95 250.61,287.63 251.07,287.34 251.52,287.07 251.98,286.83 252.44,286.61 252.89,286.41 253.35,286.22 253.80,286.06 254.26,285.90 254.94,285.69 255.63,285.51 256.31,285.35 257.00,285.21 257.68,285.08 258.36,284.97 259.05,284.87 259.73,284.78 260.42,284.70 261.10,284.62 261.78,284.56 262.47,284.50 263.15,284.44 263.84,284.38 264.52,284.34 265.20,284.29 265.89,284.25 266.57,284.20 267.26,284.16 267.94,284.13 268.62,284.09 269.31,284.05 269.99,284.02 270.68,283.99 271.36,283.95 272.04,283.92 272.73,283.89 273.41,283.86 274.10,283.83 274.78,283.80 275.46,283.77 276.15,283.74 276.83,283.71 277.52,283.68 278.20,283.66 278.88,283.63 279.57,283.60 280.25,283.57 280.94,283.54 281.62,283.52 282.30,283.49 282.99,283.46 283.44,283.44 283.90,283.42 284.36,283.74 284.81,284.04 285.27,284.31 285.72,284.56 286.18,284.79 286.64,285.00 287.09,285.20 287.55,285.38 288.00,285.55 288.46,285.71 289.14,285.92 289.83,286.10 290.51,286.27 291.20,286.42 291.88,286.55 292.56,286.66 293.25,286.76 293.93,286.86 294.62,286.94 295.30,287.01 295.98,287.07 296.67,287.13 297.35,287.18 298.04,287.22 298.72,287.26 299.40,287.30 300.09,287.33 300.77,287.35 301.46,287.38 302.14,287.40 302.82,287.42 303.51,287.44 304.19,287.45 304.88,287.46 305.56,287.48 306.24,287.49 306.93,287.50 307.61,287.50 308.30,287.51 308.98,287.52 309.66,287.52 310.35,287.53 311.03,287.53 311.72,287.54 312.40,287.54 313.08,287.54 313.77,287.55 314.45,287.55 315.14,287.55 315.82,287.55 316.50,287.55 317.19,287.56 317.87,287.56" fill="none" stroke="#3fcb7a" stroke-width="1.1" stroke-linejoin="round"/>
<polyline points="249.70,288.30 250.16,287.09 250.61,285.99 251.07,284.99 251.52,284.08 251.98,283.26 252.44,282.50 252.89,281.82 253.35,281.19 253.80,280.62 254.26,280.09 254.94,279.39 255.63,278.77 256.31,278.23 257.00,277.75 257.68,277.33 258.36,276.96 259.05,276.62 259.73,276.33 260.42,276.06 261.10,275.82 261.78,275.60 262.47,275.40 263.15,275.21 263.84,275.04 264.52,274.89 265.20,274.74 265.89,274.60 266.57,274.47 267.26,274.35 267.94,274.23 268.62,274.12 269.31,274.01 269.99,273.91 270.68,273.81 271.36,273.71 272.04,273.62 272.73,273.52 273.41,273.43 274.10,273.34 274.78,273.25 275.46,273.16 276.15,273.08 276.83,272.99 277.52,272.91 278.20,272.82 278.88,272.74 279.57,272.65 280.25,272.57 280.94,272.49 281.62,272.40 282.30,272.32 282.99,272.24 283.44,272.19 283.90,272.13 284.36,272.87 284.81,273.56 285.27,274.22 285.72,274.84 286.18,275.43 286.64,275.98 287.09,276.50 287.55,277.00 288.00,277.46 288.46,277.90 289.14,278.52 289.83,279.08 290.51,279.60 291.20,280.08 291.88,280.51 292.56,280.91 293.25,281.28 293.93,281.62 294.62,281.93 295.30,282.21 295.98,282.47 296.67,282.71 297.35,282.93 298.04,283.13 298.72,283.32 299.40,283.49 300.09,283.65 300.77,283.79 301.46,283.92 302.14,284.04 302.82,284.15 303.51,284.25 304.19,284.35 304.88,284.43 305.56,284.51 306.24,284.58 306.93,284.65 307.61,284.71 308.30,284.77 308.98,284.82 309.66,284.86 310.35,284.91 311.03,284.95 311.72,284.98 312.40,285.02 313.08,285.05 313.77,285.08 314.45,285.10 315.14,285.12 315.82,285.15 316.50,285.17 317.19,285.18 317.87,285.20" fill="none" stroke="#ec3d3d" stroke-width="1.1" stroke-linejoin="round"/>
<polyline points="249.70,288.30 250.16,285.01 250.61,282.13 251.07,279.59 251.52,277.36 251.98,275.39 252.44,273.66 252.89,272.13 253.35,270.79 253.80,269.60 254.26,268.54 254.94,267.19 255.63,266.05 256.31,265.10 257.00,264.29 257.68,263.61 258.36,263.02 259.05,262.52 259.73,262.08 260.42,261.70 261.10,261.36 261.78,261.06 262.47,260.79 263.15,260.55 263.84,260.32 264.52,260.12 265.20,259.92 265.89,259.74 266.57,259.56 267.26,259.39 267.94,259.23 268.62,259.07 269.31,258.92 269.99,258.77 270.68,258.63 271.36,258.48 272.04,258.34 272.73,258.20 273.41,258.06 274.10,257.92 274.78,257.78 275.46,257.64 276.15,257.51 276.83,257.37 277.52,257.24 278.20,257.10 278.88,256.96 279.57,256.83 280.25,256.69 280.94,256.56 281.62,256.42 282.30,256.29 282.99,256.16 283.44,256.07 283.90,255.98 284.36,257.30 284.81,258.56 285.27,259.76 285.72,260.90 286.18,261.98 286.64,263.01 287.09,263.99 287.55,264.93 288.00,265.82 288.46,266.66 289.14,267.85 289.83,268.95 290.51,269.98 291.20,270.93 291.88,271.81 292.56,272.63 293.25,273.39 293.93,274.09 294.62,274.74 295.30,275.35 295.98,275.91 296.67,276.43 297.35,276.92 298.04,277.37 298.72,277.78 299.40,278.17 300.09,278.53 300.77,278.86 301.46,279.17 302.14,279.45 302.82,279.72 303.51,279.97 304.19,280.19 304.88,280.41 305.56,280.60 306.24,280.79 306.93,280.95 307.61,281.11 308.30,281.26 308.98,281.39 309.66,281.52 310.35,281.63 311.03,281.74 311.72,281.84 312.40,281.94 313.08,282.02 313.77,282.10 314.45,282.18 315.14,282.24 315.82,282.31 316.50,282.37 317.19,282.42 317.87,282.47" fill="none" stroke="#62a6f4" stroke-width="1.1" stroke-linejoin="round"/>
<line x1="249.50" y1="220.00" x2="249.50" y2="292.00" stroke="#222" stroke-width="1.0"/>
<line x1="246.40" y1="288.50" x2="249.50" y2="288.50" stroke="#333" stroke-width="1.0"/>
<text transform="translate(245.10,291.20) scale(0.83,1)" font-size="8.1" text-anchor="end" class="c">0.0</text>
<line x1="246.40" y1="274.50" x2="249.50" y2="274.50" stroke="#333" stroke-width="1.0"/>
<text transform="translate(245.10,277.72) scale(0.83,1)" font-size="8.1" text-anchor="end" class="c">0.5</text>
<line x1="246.40" y1="261.50" x2="249.50" y2="261.50" stroke="#333" stroke-width="1.0"/>
<text transform="translate(245.10,264.24) scale(0.83,1)" font-size="8.1" text-anchor="end" class="c">1.0</text>
<line x1="246.40" y1="247.50" x2="249.50" y2="247.50" stroke="#333" stroke-width="1.0"/>
<text transform="translate(245.10,250.76) scale(0.83,1)" font-size="8.1" text-anchor="end" class="c">1.5</text>
<line x1="246.40" y1="234.50" x2="249.50" y2="234.50" stroke="#333" stroke-width="1.0"/>
<text transform="translate(245.10,237.28) scale(0.83,1)" font-size="8.1" text-anchor="end" class="c">2.0</text>
<line x1="246.40" y1="220.50" x2="249.50" y2="220.50" stroke="#333" stroke-width="1.0"/>
<text transform="translate(245.10,223.80) scale(0.83,1)" font-size="8.1" text-anchor="end" class="c">2.5</text>
<line x1="249.00" y1="291.50" x2="319.00" y2="291.50" stroke="#222" stroke-width="1.0"/>
<line x1="249.50" y1="291.50" x2="249.50" y2="294.80" stroke="#333" stroke-width="1.0"/>
<text transform="translate(249.70,301.50) scale(0.91,1)" font-size="7.5" text-anchor="middle" class="c">0</text>
<line x1="272.50" y1="291.50" x2="272.50" y2="294.80" stroke="#333" stroke-width="1.0"/>
<text transform="translate(272.50,301.50) scale(0.91,1)" font-size="7.5" text-anchor="middle" class="c">200</text>
<line x1="295.50" y1="291.50" x2="295.50" y2="294.80" stroke="#333" stroke-width="1.0"/>
<text transform="translate(295.30,301.50) scale(0.91,1)" font-size="7.5" text-anchor="middle" class="c">400</text>
<line x1="318.50" y1="291.50" x2="318.50" y2="294.80" stroke="#333" stroke-width="1.0"/>
<text transform="translate(318.10,301.50) scale(0.91,1)" font-size="7.5" text-anchor="middle" class="c">600</text>
<text x="283.90" y="214.00" font-size="6.55" text-anchor="middle" class="c">n622-M5</text>
<text x="250.45" y="227.70" font-size="6.7" class="c">K<tspan font-size="4.82" dy="1.6">D</tspan></text>
<text x="258.40" y="227.70" font-size="6.7" class="c" textLength="35.65" lengthAdjust="spacingAndGlyphs">=316.0 nM</text>
<line x1="382.50" y1="118.60" x2="382.50" y2="312.98" stroke="#111" stroke-width="1.35"/>
<line x1="381.82" y1="312.30" x2="669.60" y2="312.30" stroke="#111" stroke-width="1.35"/>
<path d="M382.50,114.60 L379.70,119.80 L385.30,119.80 Z" fill="#111"/>
<path d="M673.60,312.30 L668.20,309.60 L668.20,315.00 Z" fill="#111"/>
<text transform="translate(372.90,201.50) rotate(-90)" font-size="9.75" text-anchor="middle" class="c">Response (nm)</text>
<text x="526.00" y="323.80" font-size="9.75" text-anchor="middle" class="c">Times (sec)</text>
<polyline points="404.20,191.20 404.67,191.20 405.15,191.20 405.62,191.20 406.10,191.20 406.57,191.20 407.05,191.20 407.52,191.20 408.00,191.20 408.47,191.20 408.95,191.20 409.66,191.20 410.37,191.20 411.08,191.20 411.79,191.20 412.51,191.20 413.22,191.20 413.93,191.20 414.64,191.20 415.35,191.20 416.07,191.20 416.78,191.20 417.49,191.20 418.20,191.20 418.91,191.20 419.63,191.20 420.34,191.20 421.05,191.20 421.76,191.20 422.47,191.20 423.19,191.20 423.90,191.20 424.61,191.20 425.32,191.20 426.03,191.20 426.75,191.20 427.46,191.20 428.17,191.20 428.88,191.20 429.59,191.20 430.31,191.20 431.02,191.20 431.73,191.20 432.44,191.20 433.15,191.20 433.87,191.20 434.58,191.20 435.29,191.20 436.00,191.20 436.71,191.20 437.43,191.20 438.14,191.20 438.85,191.20 439.33,191.20 439.80,191.20 440.27,191.20 440.75,191.20 441.22,191.20 441.70,191.20 442.17,191.20 442.65,191.20 443.12,191.20 443.60,191.20 444.07,191.20 444.55,191.20 445.26,191.20 445.97,191.20 446.68,191.20 447.39,191.20 448.11,191.20 448.82,191.20 449.53,191.20 450.24,191.20 450.95,191.20 451.67,191.20 452.38,191.20 453.09,191.20 453.80,191.20 454.51,191.20 455.23,191.20 455.94,191.20 456.65,191.20 457.36,191.20 458.07,191.20 458.79,191.20 459.50,191.20 460.21,191.20 460.92,191.20 461.63,191.20 462.35,191.20 463.06,191.20 463.77,191.20 464.48,191.20 465.19,191.20 465.91,191.20 466.62,191.20 467.33,191.20 468.04,191.20 468.75,191.20 469.47,191.20 470.18,191.20 470.89,191.20 471.60,191.20 472.31,191.20 473.03,191.20 473.74,191.20 474.45,191.20 475.16,191.20" fill="none" stroke="#3fcb7a" stroke-width="1.1" stroke-linejoin="round"/>
<polyline points="404.20,191.20 404.67,191.18 405.15,191.16 405.62,191.14 406.10,191.12 406.57,191.11 407.05,191.09 407.52,191.07 408.00,191.05 408.47,191.03 408.95,191.01 409.66,190.98 410.37,190.95 411.08,190.93 411.79,190.90 412.51,190.87 413.22,190.84 413.93,190.81 414.64,190.78 415.35,190.76 416.07,190.73 416.78,190.73 417.49,190.73 418.20,190.73 418.91,190.73 419.63,190.73 420.34,190.73 421.05,190.73 421.76,190.73 422.47,190.73 423.19,190.73 423.90,190.73 424.61,190.73 425.32,190.73 426.03,190.73 426.75,190.73 427.46,190.73 428.17,190.73 428.88,190.73 429.59,190.73 430.31,190.73 431.02,190.73 431.73,190.73 432.44,190.73 433.15,190.73 433.87,190.73 434.58,190.73 435.29,190.73 436.00,190.73 436.71,190.73 437.43,190.73 438.14,190.73 438.85,190.73 439.33,190.73 439.80,190.73 440.27,190.75 440.75,190.77 441.22,190.78 441.70,190.80 442.17,190.82 442.65,190.84 443.12,190.86 443.60,190.88 444.07,190.90 444.55,190.92 445.26,190.94 445.97,190.97 446.68,191.00 447.39,191.03 448.11,191.06 448.82,191.09 449.53,191.11 450.24,191.14 450.95,191.17 451.67,191.20 452.38,191.20 453.09,191.20 453.80,191.20 454.51,191.20 455.23,191.20 455.94,191.20 456.65,191.20 457.36,191.20 458.07,191.20 458.79,191.20 459.50,191.20 460.21,191.20 460.92,191.20 461.63,191.20 462.35,191.20 463.06,191.20 463.77,191.20 464.48,191.20 465.19,191.20 465.91,191.20 466.62,191.20 467.33,191.20 468.04,191.20 468.75,191.20 469.47,191.20 470.18,191.20 470.89,191.20 471.60,191.20 472.31,191.20 473.03,191.20 473.74,191.20 474.45,191.20 475.16,191.20" fill="none" stroke="#ec3d3d" stroke-width="1.1" stroke-linejoin="round"/>
<polyline points="404.20,191.20 404.67,191.17 405.15,191.14 405.62,191.11 406.10,191.09 406.57,191.06 407.05,191.03 407.52,191.00 408.00,190.97 408.47,190.94 408.95,190.92 409.66,190.87 410.37,190.83 411.08,190.79 411.79,190.75 412.51,190.70 413.22,190.66 413.93,190.62 414.64,190.58 415.35,190.53 416.07,190.49 416.78,190.49 417.49,190.49 418.20,190.49 418.91,190.49 419.63,190.49 420.34,190.49 421.05,190.49 421.76,190.49 422.47,190.49 423.19,190.49 423.90,190.49 424.61,190.49 425.32,190.49 426.03,190.49 426.75,190.49 427.46,190.49 428.17,190.49 428.88,190.49 429.59,190.49 430.31,190.49 431.02,190.49 431.73,190.49 432.44,190.49 433.15,190.49 433.87,190.49 434.58,190.49 435.29,190.49 436.00,190.49 436.71,190.49 437.43,190.49 438.14,190.49 438.85,190.49 439.33,190.49 439.80,190.49 440.27,190.51 440.75,190.53 441.22,190.55 441.70,190.57 442.17,190.59 442.65,190.60 443.12,190.62 443.60,190.64 444.07,190.66 444.55,190.68 445.26,190.71 445.97,190.74 446.68,190.77 447.39,190.79 448.11,190.82 448.82,190.85 449.53,190.88 450.24,190.91 450.95,190.94 451.67,190.96 452.38,190.97 453.09,190.98 453.80,190.98 454.51,190.99 455.23,191.00 455.94,191.01 456.65,191.01 457.36,191.02 458.07,191.03 458.79,191.03 459.50,191.04 460.21,191.05 460.92,191.06 461.63,191.06 462.35,191.07 463.06,191.08 463.77,191.08 464.48,191.09 465.19,191.10 465.91,191.11 466.62,191.11 467.33,191.12 468.04,191.13 468.75,191.13 469.47,191.14 470.18,191.15 470.89,191.16 471.60,191.16 472.31,191.17 473.03,191.18 473.74,191.18 474.45,191.19 475.16,191.20" fill="none" stroke="#ab4fe6" stroke-width="1.1" stroke-linejoin="round"/>
<polyline points="404.20,191.20 404.67,191.14 405.15,191.07 405.62,191.01 406.10,190.95 406.57,190.88 407.05,190.82 407.52,190.76 408.00,190.70 408.47,190.63 408.95,190.57 409.66,190.48 410.37,190.38 411.08,190.29 411.79,190.25 412.51,190.25 413.22,190.25 413.93,190.25 414.64,190.25 415.35,190.25 416.07,190.25 416.78,190.25 417.49,190.25 418.20,190.25 418.91,190.25 419.63,190.25 420.34,190.25 421.05,190.25 421.76,190.25 422.47,190.25 423.19,190.25 423.90,190.25 424.61,190.25 425.32,190.25 426.03,190.25 426.75,190.25 427.46,190.25 428.17,190.25 428.88,190.25 429.59,190.25 430.31,190.25 431.02,190.25 431.73,190.25 432.44,190.25 433.15,190.25 433.87,190.25 434.58,190.25 435.29,190.25 436.00,190.25 436.71,190.25 437.43,190.25 438.14,190.25 438.85,190.25 439.33,190.25 439.80,190.25 440.27,190.27 440.75,190.29 441.22,190.31 441.70,190.33 442.17,190.35 442.65,190.37 443.12,190.39 443.60,190.41 444.07,190.42 444.55,190.44 445.26,190.47 445.97,190.50 446.68,190.53 447.39,190.56 448.11,190.59 448.82,190.61 449.53,190.64 450.24,190.67 450.95,190.70 451.67,190.73 452.38,190.74 453.09,190.76 453.80,190.77 454.51,190.78 455.23,190.80 455.94,190.81 456.65,190.83 457.36,190.84 458.07,190.85 458.79,190.87 459.50,190.88 460.21,190.90 460.92,190.91 461.63,190.93 462.35,190.94 463.06,190.95 463.77,190.97 464.48,190.98 465.19,191.00 465.91,191.01 466.62,191.03 467.33,191.04 468.04,191.05 468.75,191.07 469.47,191.08 470.18,191.10 470.89,191.11 471.60,191.12 472.31,191.14 473.03,191.15 473.74,191.17 474.45,191.18 475.16,191.20" fill="none" stroke="#62a6f4" stroke-width="1.1" stroke-linejoin="round"/>
<line x1="403.50" y1="120.00" x2="403.50" y2="192.00" stroke="#222" stroke-width="1.0"/>
<line x1="400.40" y1="191.50" x2="403.50" y2="191.50" stroke="#333" stroke-width="1.0"/>
<text transform="translate(399.60,194.10) scale(0.83,1)" font-size="8.1" text-anchor="end" class="c">0.0</text>
<line x1="400.40" y1="167.50" x2="403.50" y2="167.50" stroke="#333" stroke-width="1.0"/>
<text transform="translate(399.60,170.47) scale(0.83,1)" font-size="8.1" text-anchor="end" class="c">0.5</text>
<line x1="400.40" y1="143.50" x2="403.50" y2="143.50" stroke="#333" stroke-width="1.0"/>
<text transform="translate(399.60,146.83) scale(0.83,1)" font-size="8.1" text-anchor="end" class="c">1.0</text>
<line x1="400.40" y1="120.50" x2="403.50" y2="120.50" stroke="#333" stroke-width="1.0"/>
<text transform="translate(399.60,123.20) scale(0.83,1)" font-size="8.1" text-anchor="end" class="c">1.5</text>
<line x1="403.00" y1="191.50" x2="476.00" y2="191.50" stroke="#222" stroke-width="1.0"/>
<line x1="404.50" y1="191.50" x2="404.50" y2="194.80" stroke="#333" stroke-width="1.0"/>
<text transform="translate(404.20,201.80) scale(0.91,1)" font-size="7.5" text-anchor="middle" class="c">0</text>
<line x1="427.50" y1="191.50" x2="427.50" y2="194.80" stroke="#333" stroke-width="1.0"/>
<text transform="translate(427.93,201.80) scale(0.91,1)" font-size="7.5" text-anchor="middle" class="c">200</text>
<line x1="451.50" y1="191.50" x2="451.50" y2="194.80" stroke="#333" stroke-width="1.0"/>
<text transform="translate(451.67,201.80) scale(0.91,1)" font-size="7.5" text-anchor="middle" class="c">400</text>
<line x1="475.50" y1="191.50" x2="475.50" y2="194.80" stroke="#333" stroke-width="1.0"/>
<text transform="translate(475.40,201.80) scale(0.91,1)" font-size="7.5" text-anchor="middle" class="c">600</text>
<text x="439.80" y="113.10" font-size="6.55" text-anchor="middle" class="c">n67-WT</text>
<polyline points="501.30,187.64 501.78,187.64 502.25,187.63 502.73,187.63 503.21,187.62 503.68,187.61 504.16,187.61 504.64,187.60 505.11,187.60 505.59,187.59 506.07,187.58 506.78,187.58 507.50,187.57 508.21,187.56 508.93,187.55 509.64,187.54 510.36,187.53 511.07,187.52 511.79,187.51 512.50,187.50 513.22,187.50 513.93,187.49 514.65,187.48 515.36,187.47 516.08,187.46 516.79,187.45 517.51,187.44 518.22,187.43 518.94,187.42 519.65,187.42 520.37,187.41 521.08,187.40 521.80,187.39 522.51,187.38 523.23,187.37 523.94,187.36 524.66,187.35 525.37,187.35 526.09,187.34 526.80,187.33 527.52,187.32 528.23,187.31 528.95,187.30 529.66,187.29 530.38,187.28 531.09,187.27 531.81,187.27 532.52,187.26 533.24,187.25 533.95,187.24 534.67,187.23 535.38,187.22 536.10,187.21 536.57,187.21 537.05,187.20 537.53,187.16 538.00,187.13 538.48,187.09 538.96,187.06 539.43,187.02 539.91,186.99 540.39,186.95 540.86,186.92 541.34,186.88 541.82,186.84 542.53,186.79 543.25,186.74 543.96,186.68 544.68,186.63 545.39,186.58 546.11,186.53 546.82,186.47 547.54,186.42 548.25,186.37 548.97,186.31 549.68,186.31 550.40,186.31 551.11,186.31 551.83,186.31 552.54,186.31 553.26,186.31 553.97,186.31 554.69,186.31 555.40,186.31 556.12,186.31 556.83,186.31 557.55,186.31 558.26,186.31 558.98,186.31 559.69,186.31 560.41,186.31 561.12,186.31 561.84,186.31 562.55,186.31 563.27,186.31 563.98,186.31 564.70,186.31 565.41,186.31 566.13,186.31 566.84,186.31 567.56,186.31 568.27,186.31 568.99,186.31 569.70,186.31 570.42,186.31 571.13,186.31 571.85,186.31 572.56,186.31" fill="none" stroke="#3fcb7a" stroke-width="1.1" stroke-linejoin="round"/>
<polyline points="501.30,187.64 501.78,187.63 502.25,187.61 502.73,187.59 503.21,187.57 503.68,187.56 504.16,187.54 504.64,187.52 505.11,187.50 505.59,187.48 506.07,187.47 506.78,187.44 507.50,187.41 508.21,187.39 508.93,187.36 509.64,187.33 510.36,187.31 511.07,187.28 511.79,187.25 512.50,187.23 513.22,187.20 513.93,187.17 514.65,187.15 515.36,187.12 516.08,187.09 516.79,187.07 517.51,187.04 518.22,187.01 518.94,186.99 519.65,186.96 520.37,186.93 521.08,186.91 521.80,186.88 522.51,186.85 523.23,186.83 523.94,186.80 524.66,186.77 525.37,186.75 526.09,186.72 526.80,186.69 527.52,186.67 528.23,186.64 528.95,186.61 529.66,186.59 530.38,186.56 531.09,186.53 531.81,186.51 532.52,186.48 533.24,186.45 533.95,186.43 534.67,186.40 535.38,186.37 536.10,186.35 536.57,186.33 537.05,186.31 537.53,186.28 538.00,186.24 538.48,186.21 538.96,186.17 539.43,186.13 539.91,186.10 540.39,186.06 540.86,186.03 541.34,185.99 541.82,185.96 542.53,185.90 543.25,185.85 543.96,185.80 544.68,185.74 545.39,185.69 546.11,185.64 546.82,185.58 547.54,185.53 548.25,185.48 548.97,185.42 549.68,185.42 550.40,185.42 551.11,185.42 551.83,185.42 552.54,185.42 553.26,185.42 553.97,185.42 554.69,185.42 555.40,185.42 556.12,185.42 556.83,185.42 557.55,185.42 558.26,185.42 558.98,185.42 559.69,185.42 560.41,185.42 561.12,185.42 561.84,185.42 562.55,185.42 563.27,185.42 563.98,185.42 564.70,185.42 565.41,185.42 566.13,185.42 566.84,185.42 567.56,185.42 568.27,185.42 568.99,185.42 569.70,185.42 570.42,185.42 571.13,185.42 571.85,185.42 572.56,185.42" fill="none" stroke="#ec3d3d" stroke-width="1.1" stroke-linejoin="round"/>
<polyline points="501.30,187.20 501.78,187.15 502.25,187.11 502.73,187.06 503.21,187.01 503.68,186.96 504.16,186.92 504.64,186.87 505.11,186.82 505.59,186.77 506.07,186.73 506.78,186.66 507.50,186.58 508.21,186.51 508.93,186.44 509.64,186.37 510.36,186.30 511.07,186.23 511.79,186.16 512.50,186.09 513.22,186.02 513.93,185.94 514.65,185.87 515.36,185.80 516.08,185.73 516.79,185.66 517.51,185.59 518.22,185.52 518.94,185.45 519.65,185.37 520.37,185.29 521.08,185.21 521.80,185.12 522.51,185.04 523.23,184.96 523.94,184.88 524.66,184.80 525.37,184.71 526.09,184.63 526.80,184.55 527.52,184.47 528.23,184.39 528.95,184.30 529.66,184.22 530.38,184.14 531.09,184.06 531.81,183.98 532.52,183.89 533.24,183.81 533.95,183.73 534.67,183.65 535.38,183.74 536.10,183.83 536.57,183.88 537.05,183.94 537.53,184.00 538.00,184.06 538.48,184.05 538.96,183.98 539.43,183.90 539.91,183.83 540.39,183.75 540.86,183.67 541.34,183.60 541.82,183.52 542.53,183.41 543.25,183.29 543.96,183.18 544.68,183.06 545.39,182.95 546.11,182.84 546.82,182.76 547.54,182.76 548.25,182.76 548.97,182.76 549.68,182.76 550.40,182.76 551.11,182.76 551.83,182.76 552.54,182.76 553.26,182.76 553.97,182.76 554.69,182.76 555.40,182.76 556.12,182.76 556.83,182.76 557.55,182.76 558.26,182.76 558.98,182.76 559.69,182.76 560.41,182.76 561.12,182.76 561.84,182.76 562.55,182.76 563.27,182.76 563.98,182.76 564.70,182.76 565.41,182.76 566.13,182.76 566.84,182.76 567.56,182.76 568.27,182.76 568.99,182.76 569.70,182.76 570.42,182.76 571.13,182.76 571.85,182.76 572.56,182.76" fill="none" stroke="#62a6f4" stroke-width="1.1" stroke-linejoin="round"/>
<line x1="500.50" y1="120.00" x2="500.50" y2="192.00" stroke="#222" stroke-width="1.0"/>
<line x1="497.40" y1="187.50" x2="500.50" y2="187.50" stroke="#333" stroke-width="1.0"/>
<text transform="translate(496.70,190.10) scale(0.83,1)" font-size="8.1" text-anchor="end" class="c">0.0</text>
<line x1="497.40" y1="165.50" x2="500.50" y2="165.50" stroke="#333" stroke-width="1.0"/>
<text transform="translate(496.70,167.90) scale(0.83,1)" font-size="8.1" text-anchor="end" class="c">0.5</text>
<line x1="497.40" y1="142.50" x2="500.50" y2="142.50" stroke="#333" stroke-width="1.0"/>
<text transform="translate(496.70,145.70) scale(0.83,1)" font-size="8.1" text-anchor="end" class="c">1.0</text>
<line x1="497.40" y1="120.50" x2="500.50" y2="120.50" stroke="#333" stroke-width="1.0"/>
<text transform="translate(496.70,123.50) scale(0.83,1)" font-size="8.1" text-anchor="end" class="c">1.5</text>
<line x1="500.00" y1="191.50" x2="573.00" y2="191.50" stroke="#222" stroke-width="1.0"/>
<line x1="501.50" y1="191.50" x2="501.50" y2="194.80" stroke="#333" stroke-width="1.0"/>
<text transform="translate(501.30,201.60) scale(0.91,1)" font-size="7.5" text-anchor="middle" class="c">0</text>
<line x1="525.50" y1="191.50" x2="525.50" y2="194.80" stroke="#333" stroke-width="1.0"/>
<text transform="translate(525.13,201.60) scale(0.91,1)" font-size="7.5" text-anchor="middle" class="c">200</text>
<line x1="548.50" y1="191.50" x2="548.50" y2="194.80" stroke="#333" stroke-width="1.0"/>
<text transform="translate(548.97,201.60) scale(0.91,1)" font-size="7.5" text-anchor="middle" class="c">400</text>
<line x1="572.50" y1="191.50" x2="572.50" y2="194.80" stroke="#333" stroke-width="1.0"/>
<text transform="translate(572.80,201.60) scale(0.91,1)" font-size="7.5" text-anchor="middle" class="c">600</text>
<text x="537.05" y="113.10" font-size="6.55" text-anchor="middle" class="c">n67-M1</text>
<polyline points="597.10,191.20 597.58,191.03 598.06,190.86 598.54,190.69 599.02,190.53 599.50,190.38 599.98,190.23 600.46,190.08 600.94,189.93 601.42,189.79 601.90,189.66 602.62,189.46 603.34,189.27 604.06,189.09 604.78,188.91 605.50,188.74 606.22,188.58 606.94,188.43 607.66,188.28 608.38,188.13 609.10,187.99 609.82,187.86 610.54,187.73 611.26,187.61 611.98,187.49 612.70,187.38 613.42,187.27 614.14,187.17 614.86,187.07 615.58,186.97 616.30,186.88 617.02,186.79 617.74,186.70 618.46,186.62 619.18,186.54 619.90,186.47 620.62,186.39 621.34,186.32 622.06,186.26 622.78,186.19 623.50,186.13 624.22,186.07 624.94,186.01 625.66,185.96 626.38,185.91 627.10,185.86 627.82,185.81 628.54,185.76 629.26,185.71 629.98,185.67 630.70,185.63 631.42,185.59 632.14,185.55 632.62,185.53 633.10,185.50 633.58,185.66 634.06,185.80 634.54,185.94 635.02,186.08 635.50,186.21 635.98,186.34 636.46,186.46 636.94,186.58 637.42,186.70 637.90,186.81 638.62,186.96 639.34,187.11 640.06,187.25 640.78,187.39 641.50,187.51 642.22,187.63 642.94,187.75 643.66,187.86 644.38,187.96 645.10,188.05 645.82,188.15 646.54,188.23 647.26,188.31 647.98,188.39 648.70,188.46 649.42,188.53 650.14,188.60 650.86,188.66 651.58,188.72 652.30,188.78 653.02,188.83 653.74,188.88 654.46,188.93 655.18,188.97 655.90,189.02 656.62,189.06 657.34,189.09 658.06,189.13 658.78,189.16 659.50,189.20 660.22,189.23 660.94,189.26 661.66,189.28 662.38,189.31 663.10,189.34 663.82,189.36 664.54,189.38 665.26,189.40 665.98,189.42 666.70,189.44 667.42,189.46 668.14,189.48 668.86,189.49" fill="none" stroke="#ab4fe6" stroke-width="1.1" stroke-linejoin="round"/>
<polyline points="597.10,191.20 597.58,190.75 598.06,190.31 598.54,189.89 599.02,189.47 599.50,189.07 599.98,188.68 600.46,188.30 600.94,187.93 601.42,187.57 601.90,187.22 602.62,186.72 603.34,186.24 604.06,185.77 604.78,185.33 605.50,184.90 606.22,184.50 606.94,184.11 607.66,183.73 608.38,183.37 609.10,183.03 609.82,182.70 610.54,182.39 611.26,182.09 611.98,181.80 612.70,181.52 613.42,181.26 614.14,181.00 614.86,180.76 615.58,180.52 616.30,180.30 617.02,180.09 617.74,179.88 618.46,179.68 619.18,179.50 619.90,179.32 620.62,179.14 621.34,178.98 622.06,178.82 622.78,178.67 623.50,178.52 624.22,178.38 624.94,178.25 625.66,178.12 626.38,178.00 627.10,177.88 627.82,177.77 628.54,177.66 629.26,177.56 629.98,177.46 630.70,177.36 631.42,177.27 632.14,177.19 632.62,177.13 633.10,177.07 633.58,177.45 634.06,177.82 634.54,178.18 635.02,178.52 635.50,178.85 635.98,179.17 636.46,179.49 636.94,179.79 637.42,180.08 637.90,180.36 638.62,180.76 639.34,181.15 640.06,181.51 640.78,181.86 641.50,182.19 642.22,182.51 642.94,182.81 643.66,183.09 644.38,183.37 645.10,183.62 645.82,183.87 646.54,184.10 647.26,184.32 647.98,184.54 648.70,184.74 649.42,184.93 650.14,185.11 650.86,185.28 651.58,185.45 652.30,185.60 653.02,185.75 653.74,185.89 654.46,186.03 655.18,186.16 655.90,186.28 656.62,186.40 657.34,186.51 658.06,186.61 658.78,186.71 659.50,186.81 660.22,186.90 660.94,186.98 661.66,187.06 662.38,187.14 663.10,187.22 663.82,187.29 664.54,187.35 665.26,187.42 665.98,187.48 666.70,187.53 667.42,187.59 668.14,187.64 668.86,187.69" fill="none" stroke="#3fcb7a" stroke-width="1.1" stroke-linejoin="round"/>
<polyline points="597.10,191.20 597.58,189.97 598.06,188.80 598.54,187.67 599.02,186.60 599.50,185.57 599.98,184.59 600.46,183.65 600.94,182.75 601.42,181.89 601.90,181.07 602.62,179.90 603.34,178.81 604.06,177.78 604.78,176.83 605.50,175.93 606.22,175.10 606.94,174.31 607.66,173.58 608.38,172.90 609.10,172.26 609.82,171.66 610.54,171.10 611.26,170.57 611.98,170.08 612.70,169.62 613.42,169.19 614.14,168.79 614.86,168.41 615.58,168.06 616.30,167.73 617.02,167.43 617.74,167.14 618.46,166.87 619.18,166.62 619.90,166.38 620.62,166.16 621.34,165.95 622.06,165.76 622.78,165.58 623.50,165.41 624.22,165.25 624.94,165.10 625.66,164.97 626.38,164.84 627.10,164.72 627.82,164.60 628.54,164.50 629.26,164.40 629.98,164.30 630.70,164.22 631.42,164.14 632.14,164.06 632.62,164.01 633.10,163.97 633.58,164.68 634.06,165.37 634.54,166.03 635.02,166.68 635.50,167.31 635.98,167.92 636.46,168.51 636.94,169.08 637.42,169.63 637.90,170.17 638.62,170.95 639.34,171.69 640.06,172.40 640.78,173.07 641.50,173.72 642.22,174.33 642.94,174.92 643.66,175.49 644.38,176.02 645.10,176.54 645.82,177.02 646.54,177.49 647.26,177.94 647.98,178.36 648.70,178.77 649.42,179.16 650.14,179.53 650.86,179.89 651.58,180.22 652.30,180.55 653.02,180.86 653.74,181.15 654.46,181.43 655.18,181.70 655.90,181.96 656.62,182.20 657.34,182.44 658.06,182.66 658.78,182.87 659.50,183.08 660.22,183.27 660.94,183.46 661.66,183.63 662.38,183.80 663.10,183.96 663.82,184.12 664.54,184.27 665.26,184.41 665.98,184.54 666.70,184.67 667.42,184.79 668.14,184.91 668.86,185.02" fill="none" stroke="#ec3d3d" stroke-width="1.1" stroke-linejoin="round"/>
<polyline points="597.10,191.20 597.58,186.68 598.06,182.72 598.54,179.25 599.02,176.22 599.50,173.57 599.98,171.24 600.46,169.21 600.94,167.43 601.42,165.87 601.90,164.51 602.62,162.78 603.34,161.36 604.06,160.20 604.78,159.25 605.50,158.47 606.22,157.84 606.94,157.31 607.66,156.89 608.38,156.54 609.10,156.25 609.82,156.02 610.54,155.83 611.26,155.67 611.98,155.54 612.70,155.43 613.42,155.35 614.14,155.28 614.86,155.22 615.58,155.17 616.30,155.13 617.02,155.10 617.74,155.08 618.46,155.05 619.18,155.04 619.90,155.02 620.62,155.01 621.34,155.00 622.06,154.99 622.78,154.99 623.50,154.98 624.22,154.98 624.94,154.97 625.66,154.97 626.38,154.97 627.10,154.97 627.82,154.97 628.54,154.96 629.26,154.96 629.98,154.96 630.70,154.96 631.42,154.96 632.14,154.96 632.62,154.96 633.10,154.96 633.58,155.83 634.06,156.67 634.54,157.49 635.02,158.29 635.50,159.06 635.98,159.81 636.46,160.54 636.94,161.25 637.42,161.94 637.90,162.62 638.62,163.59 639.34,164.52 640.06,165.41 640.78,166.26 641.50,167.08 642.22,167.86 642.94,168.62 643.66,169.33 644.38,170.02 645.10,170.68 645.82,171.32 646.54,171.92 647.26,172.50 647.98,173.06 648.70,173.59 649.42,174.10 650.14,174.59 650.86,175.06 651.58,175.51 652.30,175.94 653.02,176.35 653.74,176.75 654.46,177.13 655.18,177.49 655.90,177.84 656.62,178.17 657.34,178.49 658.06,178.79 658.78,179.08 659.50,179.36 660.22,179.63 660.94,179.89 661.66,180.14 662.38,180.37 663.10,180.60 663.82,180.82 664.54,181.02 665.26,181.22 665.98,181.41 666.70,181.60 667.42,181.77 668.14,181.94 668.86,182.10" fill="none" stroke="#62a6f4" stroke-width="1.1" stroke-linejoin="round"/>
<line x1="596.50" y1="120.00" x2="596.50" y2="192.00" stroke="#222" stroke-width="1.0"/>
<line x1="593.40" y1="191.50" x2="596.50" y2="191.50" stroke="#333" stroke-width="1.0"/>
<text transform="translate(592.50,194.10) scale(0.83,1)" font-size="8.1" text-anchor="end" class="c">0.0</text>
<line x1="593.40" y1="167.50" x2="596.50" y2="167.50" stroke="#333" stroke-width="1.0"/>
<text transform="translate(592.50,170.57) scale(0.83,1)" font-size="8.1" text-anchor="end" class="c">0.5</text>
<line x1="593.40" y1="144.50" x2="596.50" y2="144.50" stroke="#333" stroke-width="1.0"/>
<text transform="translate(592.50,147.03) scale(0.83,1)" font-size="8.1" text-anchor="end" class="c">1.0</text>
<line x1="593.40" y1="120.50" x2="596.50" y2="120.50" stroke="#333" stroke-width="1.0"/>
<text transform="translate(592.50,123.50) scale(0.83,1)" font-size="8.1" text-anchor="end" class="c">1.5</text>
<line x1="596.00" y1="191.50" x2="670.00" y2="191.50" stroke="#222" stroke-width="1.0"/>
<line x1="597.50" y1="191.50" x2="597.50" y2="194.80" stroke="#333" stroke-width="1.0"/>
<text transform="translate(597.10,201.80) scale(0.91,1)" font-size="7.5" text-anchor="middle" class="c">0</text>
<line x1="621.50" y1="191.50" x2="621.50" y2="194.80" stroke="#333" stroke-width="1.0"/>
<text transform="translate(621.10,201.80) scale(0.91,1)" font-size="7.5" text-anchor="middle" class="c">200</text>
<line x1="645.50" y1="191.50" x2="645.50" y2="194.80" stroke="#333" stroke-width="1.0"/>
<text transform="translate(645.10,201.80) scale(0.91,1)" font-size="7.5" text-anchor="middle" class="c">400</text>
<line x1="669.50" y1="191.50" x2="669.50" y2="194.80" stroke="#333" stroke-width="1.0"/>
<text transform="translate(669.10,201.80) scale(0.91,1)" font-size="7.5" text-anchor="middle" class="c">600</text>
<text x="633.10" y="113.10" font-size="6.55" text-anchor="middle" class="c">n67-M2</text>
<text x="598.15" y="127.60" font-size="6.7" class="c">K<tspan font-size="4.82" dy="1.6">D</tspan></text>
<text x="606.10" y="127.60" font-size="6.7" class="c" textLength="34.65" lengthAdjust="spacingAndGlyphs">= 181.1 nM</text>
<polyline points="403.80,291.50 404.28,291.43 404.77,291.37 405.25,291.31 405.73,291.27 406.21,291.22 406.70,291.19 407.18,291.16 407.66,291.13 408.14,291.10 408.63,291.08 409.35,291.06 410.07,291.03 410.80,291.01 411.52,291.00 412.25,290.99 412.97,290.98 413.69,290.97 414.42,290.96 415.14,290.96 415.87,290.95 416.59,290.95 417.31,290.95 418.04,290.94 418.76,290.94 419.49,290.94 420.21,290.94 420.93,290.94 421.66,290.94 422.38,290.94 423.11,290.94 423.83,290.94 424.55,290.93 425.28,290.93 426.00,290.93 426.73,290.93 427.45,290.93 428.17,290.93 428.90,290.93 429.62,290.93 430.35,290.93 431.07,290.93 431.79,290.93 432.52,290.93 433.24,290.93 433.97,290.93 434.69,290.93 435.41,290.93 436.14,290.93 436.86,290.93 437.59,290.93 438.31,290.93 439.03,290.93 439.52,290.93 440.00,290.93 440.48,290.99 440.97,291.04 441.45,291.08 441.93,291.12 442.41,291.16 442.90,291.19 443.38,291.22 443.86,291.25 444.34,291.27 444.83,291.29 445.55,291.32 446.27,291.35 447.00,291.37 447.72,291.39 448.45,291.40 449.17,291.42 449.89,291.43 450.62,291.44 451.34,291.45 452.07,291.45 452.79,291.46 453.51,291.47 454.24,291.47 454.96,291.47 455.69,291.48 456.41,291.48 457.13,291.48 457.86,291.49 458.58,291.49 459.31,291.49 460.03,291.49 460.75,291.49 461.48,291.49 462.20,291.49 462.93,291.50 463.65,291.50 464.37,291.50 465.10,291.50 465.82,291.50 466.55,291.50 467.27,291.50 467.99,291.50 468.72,291.50 469.44,291.50 470.17,291.50 470.89,291.50 471.61,291.50 472.34,291.50 473.06,291.50 473.79,291.50 474.51,291.50 475.23,291.50 475.96,291.50" fill="none" stroke="#ab4fe6" stroke-width="1.1" stroke-linejoin="round"/>
<polyline points="403.80,291.50 404.28,291.20 404.77,290.95 405.25,290.72 405.73,290.52 406.21,290.35 406.70,290.20 407.18,290.07 407.66,289.95 408.14,289.85 408.63,289.76 409.35,289.65 410.07,289.55 410.80,289.48 411.52,289.42 412.25,289.37 412.97,289.32 413.69,289.29 414.42,289.26 415.14,289.24 415.87,289.22 416.59,289.21 417.31,289.19 418.04,289.18 418.76,289.17 419.49,289.17 420.21,289.16 420.93,289.16 421.66,289.15 422.38,289.15 423.11,289.15 423.83,289.15 424.55,289.14 425.28,289.14 426.00,289.14 426.73,289.14 427.45,289.14 428.17,289.14 428.90,289.14 429.62,289.14 430.35,289.14 431.07,289.14 431.79,289.14 432.52,289.14 433.24,289.14 433.97,289.14 434.69,289.14 435.41,289.14 436.14,289.14 436.86,289.14 437.59,289.14 438.31,289.14 439.03,289.14 439.52,289.14 440.00,289.14 440.48,289.39 440.97,289.62 441.45,289.82 441.93,290.00 442.41,290.17 442.90,290.31 443.38,290.44 443.86,290.55 444.34,290.66 444.83,290.75 445.55,290.87 446.27,290.97 447.00,291.05 447.72,291.12 448.45,291.18 449.17,291.23 449.89,291.27 450.62,291.31 451.34,291.34 452.07,291.36 452.79,291.39 453.51,291.40 454.24,291.42 454.96,291.43 455.69,291.44 456.41,291.45 457.13,291.46 457.86,291.47 458.58,291.47 459.31,291.48 460.03,291.48 460.75,291.48 461.48,291.49 462.20,291.49 462.93,291.49 463.65,291.49 464.37,291.49 465.10,291.49 465.82,291.49 466.55,291.50 467.27,291.50 467.99,291.50 468.72,291.50 469.44,291.50 470.17,291.50 470.89,291.50 471.61,291.50 472.34,291.50 473.06,291.50 473.79,291.50 474.51,291.50 475.23,291.50 475.96,291.50" fill="none" stroke="#3fcb7a" stroke-width="1.1" stroke-linejoin="round"/>
<polyline points="403.80,291.50 404.28,290.85 404.77,290.28 405.25,289.79 405.73,289.35 406.21,288.97 406.70,288.64 407.18,288.35 407.66,288.09 408.14,287.87 408.63,287.67 409.35,287.42 410.07,287.22 410.80,287.05 411.52,286.92 412.25,286.80 412.97,286.71 413.69,286.64 414.42,286.58 415.14,286.53 415.87,286.49 416.59,286.45 417.31,286.42 418.04,286.40 418.76,286.38 419.49,286.37 420.21,286.36 420.93,286.35 421.66,286.34 422.38,286.33 423.11,286.33 423.83,286.32 424.55,286.32 425.28,286.31 426.00,286.31 426.73,286.31 427.45,286.31 428.17,286.31 428.90,286.31 429.62,286.30 430.35,286.30 431.07,286.30 431.79,286.30 432.52,286.30 433.24,286.30 433.97,286.30 434.69,286.30 435.41,286.30 436.14,286.30 436.86,286.30 437.59,286.30 438.31,286.30 439.03,286.30 439.52,286.30 440.00,286.30 440.48,286.86 440.97,287.36 441.45,287.81 441.93,288.21 442.41,288.56 442.90,288.88 443.38,289.16 443.86,289.42 444.34,289.64 444.83,289.84 445.55,290.10 446.27,290.32 447.00,290.51 447.72,290.66 448.45,290.80 449.17,290.91 449.89,291.00 450.62,291.08 451.34,291.15 452.07,291.20 452.79,291.25 453.51,291.29 454.24,291.32 454.96,291.35 455.69,291.37 456.41,291.39 457.13,291.41 457.86,291.42 458.58,291.44 459.31,291.45 460.03,291.45 460.75,291.46 461.48,291.47 462.20,291.47 462.93,291.48 463.65,291.48 464.37,291.48 465.10,291.49 465.82,291.49 466.55,291.49 467.27,291.49 467.99,291.49 468.72,291.49 469.44,291.50 470.17,291.50 470.89,291.50 471.61,291.50 472.34,291.50 473.06,291.50 473.79,291.50 474.51,291.50 475.23,291.50 475.96,291.50" fill="none" stroke="#ec3d3d" stroke-width="1.1" stroke-linejoin="round"/>
<polyline points="403.80,291.50 404.28,289.62 404.77,288.11 405.25,286.90 405.73,285.93 406.21,285.16 406.70,284.54 407.18,284.04 407.66,283.64 408.14,283.33 408.63,283.07 409.35,282.78 410.07,282.57 410.80,282.42 411.52,282.32 412.25,282.24 412.97,282.19 413.69,282.15 414.42,282.12 415.14,282.10 415.87,282.08 416.59,282.07 417.31,282.07 418.04,282.06 418.76,282.06 419.49,282.05 420.21,282.05 420.93,282.05 421.66,282.05 422.38,282.05 423.11,282.05 423.83,282.05 424.55,282.05 425.28,282.05 426.00,282.05 426.73,282.05 427.45,282.05 428.17,282.05 428.90,282.05 429.62,282.05 430.35,282.05 431.07,282.05 431.79,282.05 432.52,282.05 433.24,282.05 433.97,282.05 434.69,282.05 435.41,282.05 436.14,282.05 436.86,282.05 437.59,282.05 438.31,282.05 439.03,282.05 439.52,282.05 440.00,282.05 440.48,283.23 440.97,284.26 441.45,285.16 441.93,285.95 442.41,286.65 442.90,287.25 443.38,287.78 443.86,288.25 444.34,288.65 444.83,289.01 445.55,289.46 446.27,289.83 447.00,290.13 447.72,290.38 448.45,290.58 449.17,290.75 449.89,290.89 450.62,291.00 451.34,291.09 452.07,291.16 452.79,291.22 453.51,291.27 454.24,291.31 454.96,291.35 455.69,291.38 456.41,291.40 457.13,291.42 457.86,291.43 458.58,291.44 459.31,291.45 460.03,291.46 460.75,291.47 461.48,291.47 462.20,291.48 462.93,291.48 463.65,291.49 464.37,291.49 465.10,291.49 465.82,291.49 466.55,291.49 467.27,291.49 467.99,291.50 468.72,291.50 469.44,291.50 470.17,291.50 470.89,291.50 471.61,291.50 472.34,291.50 473.06,291.50 473.79,291.50 474.51,291.50 475.23,291.50 475.96,291.50" fill="none" stroke="#62a6f4" stroke-width="1.1" stroke-linejoin="round"/>
<line x1="403.50" y1="220.00" x2="403.50" y2="292.00" stroke="#222" stroke-width="1.0"/>
<line x1="400.40" y1="291.50" x2="403.50" y2="291.50" stroke="#333" stroke-width="1.0"/>
<text transform="translate(399.20,294.40) scale(0.83,1)" font-size="8.1" text-anchor="end" class="c">0.0</text>
<line x1="400.40" y1="267.50" x2="403.50" y2="267.50" stroke="#333" stroke-width="1.0"/>
<text transform="translate(399.20,270.77) scale(0.83,1)" font-size="8.1" text-anchor="end" class="c">0.5</text>
<line x1="400.40" y1="244.50" x2="403.50" y2="244.50" stroke="#333" stroke-width="1.0"/>
<text transform="translate(399.20,247.13) scale(0.83,1)" font-size="8.1" text-anchor="end" class="c">1.0</text>
<line x1="400.40" y1="220.50" x2="403.50" y2="220.50" stroke="#333" stroke-width="1.0"/>
<text transform="translate(399.20,223.50) scale(0.83,1)" font-size="8.1" text-anchor="end" class="c">1.5</text>
<line x1="403.00" y1="291.50" x2="477.00" y2="291.50" stroke="#222" stroke-width="1.0"/>
<line x1="403.50" y1="291.50" x2="403.50" y2="294.80" stroke="#333" stroke-width="1.0"/>
<text transform="translate(403.80,302.30) scale(0.91,1)" font-size="7.5" text-anchor="middle" class="c">0</text>
<line x1="427.50" y1="291.50" x2="427.50" y2="294.80" stroke="#333" stroke-width="1.0"/>
<text transform="translate(427.93,302.30) scale(0.91,1)" font-size="7.5" text-anchor="middle" class="c">200</text>
<line x1="452.50" y1="291.50" x2="452.50" y2="294.80" stroke="#333" stroke-width="1.0"/>
<text transform="translate(452.07,302.30) scale(0.91,1)" font-size="7.5" text-anchor="middle" class="c">400</text>
<line x1="476.50" y1="291.50" x2="476.50" y2="294.80" stroke="#333" stroke-width="1.0"/>
<text transform="translate(476.20,302.30) scale(0.91,1)" font-size="7.5" text-anchor="middle" class="c">600</text>
<text x="440.00" y="212.80" font-size="6.55" text-anchor="middle" class="c">n67-M3</text>
<text x="404.25" y="227.00" font-size="6.7" class="c">K<tspan font-size="4.82" dy="1.6">D</tspan></text>
<text x="412.20" y="227.00" font-size="6.7" class="c" textLength="35.15" lengthAdjust="spacingAndGlyphs">= 719.4 nM</text>
<polyline points="500.90,291.50 501.38,291.29 501.86,291.08 502.34,290.87 502.82,290.68 503.30,290.49 503.78,290.30 504.26,290.13 504.73,289.95 505.21,289.79 505.69,289.62 506.41,289.39 507.13,289.16 507.85,288.95 508.57,288.74 509.29,288.55 510.01,288.36 510.73,288.18 511.45,288.01 512.16,287.85 512.88,287.70 513.60,287.55 514.32,287.41 515.04,287.27 515.76,287.14 516.48,287.02 517.20,286.90 517.92,286.79 518.64,286.68 519.35,286.58 520.07,286.48 520.79,286.39 521.51,286.30 522.23,286.21 522.95,286.13 523.67,286.05 524.39,285.98 525.11,285.91 525.83,285.84 526.54,285.78 527.26,285.72 527.98,285.66 528.70,285.60 529.42,285.55 530.14,285.50 530.86,285.45 531.58,285.40 532.30,285.35 533.02,285.31 533.73,285.27 534.45,285.23 535.17,285.20 535.89,285.16 536.37,285.14 536.85,285.12 537.33,285.34 537.81,285.56 538.29,285.77 538.77,285.96 539.25,286.16 539.73,286.34 540.21,286.52 540.68,286.69 541.16,286.85 541.64,287.01 542.36,287.23 543.08,287.45 543.80,287.64 544.52,287.83 545.24,288.01 545.96,288.17 546.68,288.33 547.40,288.48 548.11,288.62 548.83,288.75 549.55,288.87 550.27,288.99 550.99,289.10 551.71,289.20 552.43,289.30 553.15,289.39 553.87,289.47 554.59,289.55 555.30,289.63 556.02,289.70 556.74,289.77 557.46,289.83 558.18,289.89 558.90,289.95 559.62,290.00 560.34,290.05 561.06,290.10 561.78,290.14 562.49,290.19 563.21,290.22 563.93,290.26 564.65,290.30 565.37,290.33 566.09,290.36 566.81,290.39 567.53,290.42 568.25,290.44 568.97,290.47 569.68,290.49 570.40,290.51 571.12,290.53 571.84,290.55 572.56,290.57" fill="none" stroke="#ab4fe6" stroke-width="1.1" stroke-linejoin="round"/>
<polyline points="500.90,291.50 501.38,290.93 501.86,290.37 502.34,289.84 502.82,289.32 503.30,288.83 503.78,288.35 504.26,287.89 504.73,287.44 505.21,287.01 505.69,286.60 506.41,286.01 507.13,285.45 507.85,284.91 508.57,284.41 509.29,283.93 510.01,283.48 510.73,283.06 511.45,282.65 512.16,282.27 512.88,281.90 513.60,281.56 514.32,281.23 515.04,280.93 515.76,280.63 516.48,280.36 517.20,280.10 517.92,279.85 518.64,279.61 519.35,279.39 520.07,279.18 520.79,278.98 521.51,278.79 522.23,278.62 522.95,278.45 523.67,278.29 524.39,278.13 525.11,277.99 525.83,277.85 526.54,277.73 527.26,277.60 527.98,277.49 528.70,277.38 529.42,277.28 530.14,277.18 530.86,277.09 531.58,277.00 532.30,276.91 533.02,276.84 533.73,276.76 534.45,276.69 535.17,276.62 535.89,276.56 536.37,276.52 536.85,276.48 537.33,277.01 537.81,277.52 538.29,278.01 538.77,278.48 539.25,278.93 539.73,279.36 540.21,279.78 540.68,280.18 541.16,280.57 541.64,280.94 542.36,281.46 543.08,281.96 543.80,282.43 544.52,282.87 545.24,283.29 545.96,283.68 546.68,284.04 547.40,284.39 548.11,284.72 548.83,285.03 549.55,285.31 550.27,285.59 550.99,285.84 551.71,286.09 552.43,286.31 553.15,286.53 553.87,286.73 554.59,286.92 555.30,287.10 556.02,287.27 556.74,287.43 557.46,287.58 558.18,287.72 558.90,287.85 559.62,287.98 560.34,288.09 561.06,288.20 561.78,288.31 562.49,288.41 563.21,288.50 563.93,288.59 564.65,288.67 565.37,288.75 566.09,288.82 566.81,288.89 567.53,288.95 568.25,289.01 568.97,289.07 569.68,289.13 570.40,289.18 571.12,289.22 571.84,289.27 572.56,289.31" fill="none" stroke="#3fcb7a" stroke-width="1.1" stroke-linejoin="round"/>
<polyline points="500.90,291.50 501.38,289.61 501.86,287.85 502.34,286.22 502.82,284.70 503.30,283.29 503.78,281.97 504.26,280.75 504.73,279.62 505.21,278.56 505.69,277.58 506.41,276.23 507.13,275.03 507.85,273.94 508.57,272.97 509.29,272.10 510.01,271.32 510.73,270.62 511.45,270.00 512.16,269.44 512.88,268.93 513.60,268.48 514.32,268.07 515.04,267.71 515.76,267.38 516.48,267.09 517.20,266.83 517.92,266.60 518.64,266.39 519.35,266.20 520.07,266.03 520.79,265.88 521.51,265.74 522.23,265.62 522.95,265.51 523.67,265.41 524.39,265.32 525.11,265.24 525.83,265.17 526.54,265.11 527.26,265.05 527.98,265.00 528.70,264.95 529.42,264.91 530.14,264.88 530.86,264.84 531.58,264.81 532.30,264.79 533.02,264.76 533.73,264.74 534.45,264.72 535.17,264.71 535.89,264.69 536.37,264.68 536.85,264.67 537.33,265.64 537.81,266.57 538.29,267.46 538.77,268.32 539.25,269.15 539.73,269.94 540.21,270.70 540.68,271.43 541.16,272.13 541.64,272.81 542.36,273.77 543.08,274.68 543.80,275.54 544.52,276.34 545.24,277.10 545.96,277.81 546.68,278.48 547.40,279.12 548.11,279.71 548.83,280.27 549.55,280.80 550.27,281.30 550.99,281.77 551.71,282.21 552.43,282.63 553.15,283.02 553.87,283.39 554.59,283.74 555.30,284.06 556.02,284.37 556.74,284.66 557.46,284.93 558.18,285.19 558.90,285.43 559.62,285.66 560.34,285.88 561.06,286.08 561.78,286.27 562.49,286.45 563.21,286.62 563.93,286.78 564.65,286.93 565.37,287.07 566.09,287.20 566.81,287.33 567.53,287.45 568.25,287.56 568.97,287.66 569.68,287.76 570.40,287.85 571.12,287.94 571.84,288.02 572.56,288.10" fill="none" stroke="#ec3d3d" stroke-width="1.1" stroke-linejoin="round"/>
<polyline points="500.90,291.50 501.38,285.33 501.86,280.28 502.34,276.15 502.82,272.76 503.30,269.99 503.78,267.72 504.26,265.86 504.73,264.34 505.21,263.09 505.69,262.07 506.41,260.88 507.13,260.00 507.85,259.34 508.57,258.86 509.29,258.50 510.01,258.23 510.73,258.03 511.45,257.89 512.16,257.78 512.88,257.70 513.60,257.64 514.32,257.59 515.04,257.56 515.76,257.54 516.48,257.52 517.20,257.51 517.92,257.50 518.64,257.49 519.35,257.48 520.07,257.48 520.79,257.48 521.51,257.47 522.23,257.47 522.95,257.47 523.67,257.47 524.39,257.47 525.11,257.47 525.83,257.47 526.54,257.47 527.26,257.47 527.98,257.47 528.70,257.47 529.42,257.47 530.14,257.47 530.86,257.47 531.58,257.47 532.30,257.47 533.02,257.47 533.73,257.47 534.45,257.47 535.17,257.47 535.89,257.47 536.37,257.47 536.85,257.47 537.33,258.64 537.81,259.76 538.29,260.85 538.77,261.89 539.25,262.90 539.73,263.87 540.21,264.80 540.68,265.69 541.16,266.56 541.64,267.39 542.36,268.57 543.08,269.70 543.80,270.76 544.52,271.76 545.24,272.70 545.96,273.60 546.68,274.44 547.40,275.24 548.11,275.99 548.83,276.70 549.55,277.37 550.27,278.00 550.99,278.60 551.71,279.17 552.43,279.70 553.15,280.20 553.87,280.68 554.59,281.13 555.30,281.55 556.02,281.96 556.74,282.33 557.46,282.69 558.18,283.03 558.90,283.35 559.62,283.65 560.34,283.94 561.06,284.20 561.78,284.46 562.49,284.70 563.21,284.93 563.93,285.14 564.65,285.34 565.37,285.53 566.09,285.71 566.81,285.88 567.53,286.04 568.25,286.20 568.97,286.34 569.68,286.47 570.40,286.60 571.12,286.72 571.84,286.84 572.56,286.94" fill="none" stroke="#62a6f4" stroke-width="1.1" stroke-linejoin="round"/>
<line x1="500.50" y1="220.00" x2="500.50" y2="292.00" stroke="#222" stroke-width="1.0"/>
<line x1="497.40" y1="291.50" x2="500.50" y2="291.50" stroke="#333" stroke-width="1.0"/>
<text transform="translate(496.30,294.40) scale(0.83,1)" font-size="8.1" text-anchor="end" class="c">0.0</text>
<line x1="497.40" y1="267.50" x2="500.50" y2="267.50" stroke="#333" stroke-width="1.0"/>
<text transform="translate(496.30,270.77) scale(0.83,1)" font-size="8.1" text-anchor="end" class="c">0.5</text>
<line x1="497.40" y1="244.50" x2="500.50" y2="244.50" stroke="#333" stroke-width="1.0"/>
<text transform="translate(496.30,247.13) scale(0.83,1)" font-size="8.1" text-anchor="end" class="c">1.0</text>
<line x1="497.40" y1="220.50" x2="500.50" y2="220.50" stroke="#333" stroke-width="1.0"/>
<text transform="translate(496.30,223.50) scale(0.83,1)" font-size="8.1" text-anchor="end" class="c">1.5</text>
<line x1="500.00" y1="291.50" x2="573.00" y2="291.50" stroke="#222" stroke-width="1.0"/>
<line x1="500.50" y1="291.50" x2="500.50" y2="294.80" stroke="#333" stroke-width="1.0"/>
<text transform="translate(500.90,302.20) scale(0.91,1)" font-size="7.5" text-anchor="middle" class="c">0</text>
<line x1="524.50" y1="291.50" x2="524.50" y2="294.80" stroke="#333" stroke-width="1.0"/>
<text transform="translate(524.87,302.20) scale(0.91,1)" font-size="7.5" text-anchor="middle" class="c">200</text>
<line x1="548.50" y1="291.50" x2="548.50" y2="294.80" stroke="#333" stroke-width="1.0"/>
<text transform="translate(548.83,302.20) scale(0.91,1)" font-size="7.5" text-anchor="middle" class="c">400</text>
<line x1="572.50" y1="291.50" x2="572.50" y2="294.80" stroke="#333" stroke-width="1.0"/>
<text transform="translate(572.80,302.20) scale(0.91,1)" font-size="7.5" text-anchor="middle" class="c">600</text>
<text x="536.85" y="212.80" font-size="6.55" text-anchor="middle" class="c">n67-M4</text>
<text x="500.85" y="227.00" font-size="6.7" class="c">K<tspan font-size="4.82" dy="1.6">D</tspan></text>
<text x="508.80" y="227.00" font-size="6.7" class="c" textLength="35.85" lengthAdjust="spacingAndGlyphs">= 186.3 nM</text>
<polyline points="597.90,291.50 598.38,290.94 598.86,290.42 599.34,289.93 599.82,289.48 600.30,289.06 600.78,288.67 601.26,288.31 601.74,287.96 602.22,287.64 602.70,287.35 603.42,286.93 604.14,286.56 604.86,286.22 605.58,285.91 606.30,285.62 607.02,285.36 607.74,285.12 608.46,284.90 609.18,284.69 609.90,284.50 610.62,284.32 611.34,284.16 612.06,284.00 612.78,283.85 613.50,283.72 614.22,283.58 614.94,283.46 615.66,283.34 616.38,283.22 617.10,283.11 617.82,283.00 618.54,282.90 619.26,282.80 619.98,282.70 620.70,282.61 621.42,282.51 622.14,282.42 622.86,282.33 623.58,282.24 624.30,282.16 625.02,282.07 625.74,281.99 626.46,281.90 627.18,281.82 627.90,281.74 628.62,281.66 629.34,281.57 630.06,281.49 630.78,281.41 631.50,281.33 632.22,281.25 632.94,281.18 633.42,281.12 633.90,281.07 634.38,281.42 634.86,281.75 635.34,282.05 635.82,282.34 636.30,282.61 636.78,282.86 637.26,283.09 637.74,283.31 638.22,283.52 638.70,283.71 639.42,283.97 640.14,284.21 640.86,284.43 641.58,284.63 642.30,284.80 643.02,284.97 643.74,285.11 644.46,285.24 645.18,285.36 645.90,285.47 646.62,285.57 647.34,285.66 648.06,285.73 648.78,285.81 649.50,285.87 650.22,285.93 650.94,285.99 651.66,286.03 652.38,286.08 653.10,286.12 653.82,286.15 654.54,286.19 655.26,286.21 655.98,286.24 656.70,286.27 657.42,286.29 658.14,286.31 658.86,286.32 659.58,286.34 660.30,286.36 661.02,286.37 661.74,286.38 662.46,286.39 663.18,286.40 663.90,286.41 664.62,286.42 665.34,286.42 666.06,286.43 666.78,286.44 667.50,286.44 668.22,286.45 668.94,286.45 669.66,286.46" fill="none" stroke="#ab4fe6" stroke-width="1.1" stroke-linejoin="round"/>
<polyline points="597.90,291.50 598.38,289.08 598.86,287.00 599.34,285.21 599.82,283.67 600.30,282.34 600.78,281.19 601.26,280.20 601.74,279.33 602.22,278.58 602.70,277.92 603.42,277.07 604.14,276.38 604.86,275.79 605.58,275.29 606.30,274.87 607.02,274.49 607.74,274.16 608.46,273.87 609.18,273.60 609.90,273.35 610.62,273.12 611.34,272.90 612.06,272.69 612.78,272.49 613.50,272.30 614.22,272.11 614.94,271.93 615.66,271.75 616.38,271.57 617.10,271.39 617.82,271.21 618.54,271.04 619.26,270.87 619.98,270.69 620.70,270.52 621.42,270.35 622.14,270.18 622.86,270.01 623.58,269.84 624.30,269.67 625.02,269.49 625.74,269.32 626.46,269.15 627.18,268.98 627.90,268.81 628.62,268.64 629.34,268.47 630.06,268.30 630.78,268.13 631.50,267.96 632.22,267.79 632.94,267.62 633.42,267.51 633.90,267.39 634.38,268.12 634.86,268.80 635.34,269.44 635.82,270.05 636.30,270.63 636.78,271.17 637.26,271.69 637.74,272.17 638.22,272.63 638.70,273.06 639.42,273.66 640.14,274.22 640.86,274.73 641.58,275.19 642.30,275.62 643.02,276.02 643.74,276.38 644.46,276.71 645.18,277.01 645.90,277.29 646.62,277.55 647.34,277.78 648.06,278.00 648.78,278.20 649.50,278.38 650.22,278.55 650.94,278.70 651.66,278.84 652.38,278.97 653.10,279.09 653.82,279.20 654.54,279.30 655.26,279.39 655.98,279.47 656.70,279.55 657.42,279.62 658.14,279.68 658.86,279.74 659.58,279.80 660.30,279.85 661.02,279.90 661.74,279.94 662.46,279.98 663.18,280.01 663.90,280.05 664.62,280.08 665.34,280.10 666.06,280.13 666.78,280.15 667.50,280.17 668.22,280.19 668.94,280.21 669.66,280.23" fill="none" stroke="#3fcb7a" stroke-width="1.1" stroke-linejoin="round"/>
<polyline points="597.90,291.50 598.38,286.85 598.86,283.10 599.34,280.07 599.82,277.63 600.30,275.64 600.78,274.02 601.26,272.70 601.74,271.62 602.22,270.73 602.70,269.99 603.42,269.10 604.14,268.40 604.86,267.85 605.58,267.40 606.30,267.03 607.02,266.70 607.74,266.41 608.46,266.15 609.18,265.91 609.90,265.69 610.62,265.47 611.34,265.26 612.06,265.05 612.78,264.85 613.50,264.65 614.22,264.45 614.94,264.26 615.66,264.06 616.38,263.87 617.10,263.67 617.82,263.48 618.54,263.29 619.26,263.09 619.98,262.90 620.70,262.71 621.42,262.51 622.14,262.32 622.86,262.13 623.58,261.93 624.30,261.74 625.02,261.55 625.74,261.36 626.46,261.16 627.18,260.97 627.90,260.78 628.62,260.58 629.34,260.39 630.06,260.20 630.78,260.01 631.50,259.81 632.22,259.62 632.94,259.43 633.42,259.30 633.90,259.17 634.38,260.19 634.86,261.16 635.34,262.07 635.82,262.94 636.30,263.75 636.78,264.52 637.26,265.25 637.74,265.93 638.22,266.58 638.70,267.19 639.42,268.05 640.14,268.83 640.86,269.55 641.58,270.21 642.30,270.82 643.02,271.38 643.74,271.89 644.46,272.36 645.18,272.79 645.90,273.18 646.62,273.54 647.34,273.88 648.06,274.18 648.78,274.46 649.50,274.72 650.22,274.96 650.94,275.17 651.66,275.37 652.38,275.56 653.10,275.72 653.82,275.88 654.54,276.02 655.26,276.15 655.98,276.27 656.70,276.38 657.42,276.48 658.14,276.57 658.86,276.65 659.58,276.73 660.30,276.80 661.02,276.87 661.74,276.93 662.46,276.98 663.18,277.03 663.90,277.08 664.62,277.12 665.34,277.16 666.06,277.20 666.78,277.23 667.50,277.26 668.22,277.29 668.94,277.31 669.66,277.34" fill="none" stroke="#ec3d3d" stroke-width="1.1" stroke-linejoin="round"/>
<polyline points="597.90,291.50 598.38,284.93 598.86,279.44 599.34,274.85 599.82,271.02 600.30,267.82 600.78,265.14 601.26,262.90 601.74,261.02 602.22,259.45 602.70,258.13 603.42,256.53 604.14,255.30 604.86,254.34 605.58,253.59 606.30,253.00 607.02,252.54 607.74,252.17 608.46,251.86 609.18,251.62 609.90,251.41 610.62,251.23 611.34,251.08 612.06,250.95 612.78,250.83 613.50,250.72 614.22,250.61 614.94,250.52 615.66,250.43 616.38,250.34 617.10,250.25 617.82,250.17 618.54,250.09 619.26,250.01 619.98,249.93 620.70,249.85 621.42,249.77 622.14,249.69 622.86,249.62 623.58,249.54 624.30,249.46 625.02,249.39 625.74,249.31 626.46,249.23 627.18,249.16 627.90,249.08 628.62,249.00 629.34,248.93 630.06,248.85 630.78,248.77 631.50,248.70 632.22,248.62 632.94,248.54 633.42,248.49 633.90,248.44 634.38,249.61 634.86,250.72 635.34,251.76 635.82,252.75 636.30,253.68 636.78,254.56 637.26,255.40 637.74,256.18 638.22,256.92 638.70,257.62 639.42,258.60 640.14,259.50 640.86,260.33 641.58,261.08 642.30,261.78 643.02,262.42 643.74,263.00 644.46,263.54 645.18,264.03 645.90,264.48 646.62,264.90 647.34,265.28 648.06,265.63 648.78,265.95 649.50,266.25 650.22,266.52 650.94,266.76 651.66,266.99 652.38,267.20 653.10,267.39 653.82,267.57 654.54,267.73 655.26,267.88 655.98,268.02 656.70,268.14 657.42,268.26 658.14,268.36 658.86,268.46 659.58,268.55 660.30,268.63 661.02,268.70 661.74,268.77 662.46,268.84 663.18,268.89 663.90,268.95 664.62,268.99 665.34,269.04 666.06,269.08 666.78,269.12 667.50,269.15 668.22,269.18 668.94,269.21 669.66,269.24" fill="none" stroke="#62a6f4" stroke-width="1.1" stroke-linejoin="round"/>
<line x1="597.50" y1="220.00" x2="597.50" y2="292.00" stroke="#222" stroke-width="1.0"/>
<line x1="594.40" y1="291.50" x2="597.50" y2="291.50" stroke="#333" stroke-width="1.0"/>
<text transform="translate(593.30,294.40) scale(0.83,1)" font-size="8.1" text-anchor="end" class="c">0.0</text>
<line x1="594.40" y1="267.50" x2="597.50" y2="267.50" stroke="#333" stroke-width="1.0"/>
<text transform="translate(593.30,270.77) scale(0.83,1)" font-size="8.1" text-anchor="end" class="c">0.5</text>
<line x1="594.40" y1="244.50" x2="597.50" y2="244.50" stroke="#333" stroke-width="1.0"/>
<text transform="translate(593.30,247.13) scale(0.83,1)" font-size="8.1" text-anchor="end" class="c">1.0</text>
<line x1="594.40" y1="220.50" x2="597.50" y2="220.50" stroke="#333" stroke-width="1.0"/>
<text transform="translate(593.30,223.50) scale(0.83,1)" font-size="8.1" text-anchor="end" class="c">1.5</text>
<line x1="597.00" y1="291.50" x2="670.00" y2="291.50" stroke="#222" stroke-width="1.0"/>
<line x1="597.50" y1="291.50" x2="597.50" y2="294.80" stroke="#333" stroke-width="1.0"/>
<text transform="translate(597.90,302.20) scale(0.91,1)" font-size="7.5" text-anchor="middle" class="c">0</text>
<line x1="621.50" y1="291.50" x2="621.50" y2="294.80" stroke="#333" stroke-width="1.0"/>
<text transform="translate(621.90,302.20) scale(0.91,1)" font-size="7.5" text-anchor="middle" class="c">200</text>
<line x1="645.50" y1="291.50" x2="645.50" y2="294.80" stroke="#333" stroke-width="1.0"/>
<text transform="translate(645.90,302.20) scale(0.91,1)" font-size="7.5" text-anchor="middle" class="c">400</text>
<line x1="669.50" y1="291.50" x2="669.50" y2="294.80" stroke="#333" stroke-width="1.0"/>
<text transform="translate(669.90,302.20) scale(0.91,1)" font-size="7.5" text-anchor="middle" class="c">600</text>
<text x="633.90" y="212.80" font-size="6.55" text-anchor="middle" class="c">n67-M5</text>
<text x="598.15" y="227.00" font-size="6.7" class="c">K<tspan font-size="4.82" dy="1.6">D</tspan></text>
<text x="606.10" y="227.00" font-size="6.7" class="c" textLength="30.55" lengthAdjust="spacingAndGlyphs">= 34.1 nM</text>
<line x1="34.20" y1="466.40" x2="34.20" y2="660.07" stroke="#111" stroke-width="1.35"/>
<line x1="33.53" y1="659.40" x2="321.00" y2="659.40" stroke="#111" stroke-width="1.35"/>
<path d="M34.20,462.40 L31.40,467.60 L37.00,467.60 Z" fill="#111"/>
<path d="M325.00,659.40 L319.60,656.70 L319.60,662.10 Z" fill="#111"/>
<text transform="translate(24.40,549.00) rotate(-90)" font-size="9.75" text-anchor="middle" class="c">Response (nm)</text>
<text x="177.30" y="671.00" font-size="9.75" text-anchor="middle" class="c">Times (sec)</text>
<polyline points="55.00,536.70 55.48,536.70 55.96,536.70 56.44,536.70 56.92,536.70 57.40,536.70 57.88,536.70 58.36,536.70 58.84,536.70 59.32,536.70 59.80,536.70 60.52,536.70 61.24,536.70 61.96,536.70 62.68,536.70 63.40,536.70 64.12,536.70 64.84,536.70 65.56,536.70 66.28,536.70 67.00,536.70 67.72,536.70 68.44,536.70 69.16,536.70 69.88,536.70 70.60,536.70 71.32,536.70 72.04,536.70 72.76,536.70 73.48,536.70 74.20,536.70 74.92,536.70 75.64,536.70 76.36,536.70 77.08,536.70 77.80,536.70 78.52,536.70 79.24,536.70 79.96,536.70 80.68,536.70 81.40,536.70 82.12,536.70 82.84,536.70 83.56,536.70 84.28,536.70 85.00,536.70 85.72,536.70 86.44,536.70 87.16,536.70 87.88,536.70 88.60,536.70 89.32,536.70 90.04,536.70 90.52,536.70 91.00,536.70 91.48,536.70 91.96,536.70 92.44,536.70 92.92,536.70 93.40,536.70 93.88,536.70 94.36,536.70 94.84,536.70 95.32,536.70 95.80,536.70 96.52,536.70 97.24,536.70 97.96,536.70 98.68,536.70 99.40,536.70 100.12,536.70 100.84,536.70 101.56,536.70 102.28,536.70 103.00,536.70 103.72,536.70 104.44,536.70 105.16,536.70 105.88,536.70 106.60,536.70 107.32,536.70 108.04,536.70 108.76,536.70 109.48,536.70 110.20,536.70 110.92,536.70 111.64,536.70 112.36,536.70 113.08,536.70 113.80,536.70 114.52,536.70 115.24,536.70 115.96,536.70 116.68,536.70 117.40,536.70 118.12,536.70 118.84,536.70 119.56,536.70 120.28,536.70 121.00,536.70 121.72,536.70 122.44,536.70 123.16,536.70 123.88,536.70 124.60,536.70 125.32,536.70 126.04,536.70 126.76,536.70" fill="none" stroke="#ec3d3d" stroke-width="1.1" stroke-linejoin="round"/>
<polyline points="55.00,536.35 55.48,536.35 55.96,536.35 56.44,536.35 56.92,536.35 57.40,536.35 57.88,536.35 58.36,536.35 58.84,536.35 59.32,536.35 59.80,536.35 60.52,536.35 61.24,536.35 61.96,536.35 62.68,536.35 63.40,536.35 64.12,536.35 64.84,536.35 65.56,536.35 66.28,536.35 67.00,536.35 67.72,536.35 68.44,536.35 69.16,536.35 69.88,536.35 70.60,536.35 71.32,536.35 72.04,536.35 72.76,536.35 73.48,536.35 74.20,536.35 74.92,536.35 75.64,536.35 76.36,536.35 77.08,536.35 77.80,536.35 78.52,536.35 79.24,536.35 79.96,536.35 80.68,536.35 81.40,536.35 82.12,536.35 82.84,536.35 83.56,536.35 84.28,536.35 85.00,536.35 85.72,536.35 86.44,536.35 87.16,536.35 87.88,536.35 88.60,536.35 89.32,536.35 90.04,536.35 90.52,536.35 91.00,536.35 91.48,536.35 91.96,536.35 92.44,536.35 92.92,536.35 93.40,536.35 93.88,536.35 94.36,536.35 94.84,536.35 95.32,536.35 95.80,536.35 96.52,536.35 97.24,536.35 97.96,536.35 98.68,536.35 99.40,536.35 100.12,536.35 100.84,536.35 101.56,536.35 102.28,536.35 103.00,536.35 103.72,536.35 104.44,536.35 105.16,536.35 105.88,536.35 106.60,536.35 107.32,536.35 108.04,536.35 108.76,536.35 109.48,536.35 110.20,536.35 110.92,536.35 111.64,536.35 112.36,536.35 113.08,536.35 113.80,536.35 114.52,536.35 115.24,536.35 115.96,536.35 116.68,536.35 117.40,536.35 118.12,536.35 118.84,536.35 119.56,536.35 120.28,536.35 121.00,536.35 121.72,536.35 122.44,536.35 123.16,536.35 123.88,536.35 124.60,536.35 125.32,536.35 126.04,536.35 126.76,536.35" fill="none" stroke="#62a6f4" stroke-width="1.1" stroke-linejoin="round"/>
<line x1="54.50" y1="466.00" x2="54.50" y2="539.00" stroke="#222" stroke-width="1.0"/>
<line x1="51.40" y1="536.50" x2="54.50" y2="536.50" stroke="#333" stroke-width="1.0"/>
<text transform="translate(50.40,539.60) scale(0.83,1)" font-size="8.1" text-anchor="end" class="c">0.0</text>
<line x1="51.40" y1="519.50" x2="54.50" y2="519.50" stroke="#333" stroke-width="1.0"/>
<text transform="translate(50.40,522.15) scale(0.83,1)" font-size="8.1" text-anchor="end" class="c">0.5</text>
<line x1="51.40" y1="501.50" x2="54.50" y2="501.50" stroke="#333" stroke-width="1.0"/>
<text transform="translate(50.40,504.70) scale(0.83,1)" font-size="8.1" text-anchor="end" class="c">1.0</text>
<line x1="51.40" y1="484.50" x2="54.50" y2="484.50" stroke="#333" stroke-width="1.0"/>
<text transform="translate(50.40,487.25) scale(0.83,1)" font-size="8.1" text-anchor="end" class="c">1.5</text>
<line x1="51.40" y1="466.50" x2="54.50" y2="466.50" stroke="#333" stroke-width="1.0"/>
<text transform="translate(50.40,469.80) scale(0.83,1)" font-size="8.1" text-anchor="end" class="c">2.0</text>
<line x1="54.00" y1="538.50" x2="128.00" y2="538.50" stroke="#222" stroke-width="1.0"/>
<line x1="55.50" y1="538.50" x2="55.50" y2="541.80" stroke="#333" stroke-width="1.0"/>
<text transform="translate(55.00,548.50) scale(0.91,1)" font-size="7.5" text-anchor="middle" class="c">0</text>
<line x1="79.50" y1="538.50" x2="79.50" y2="541.80" stroke="#333" stroke-width="1.0"/>
<text transform="translate(79.00,548.50) scale(0.91,1)" font-size="7.5" text-anchor="middle" class="c">200</text>
<line x1="103.50" y1="538.50" x2="103.50" y2="541.80" stroke="#333" stroke-width="1.0"/>
<text transform="translate(103.00,548.50) scale(0.91,1)" font-size="7.5" text-anchor="middle" class="c">400</text>
<line x1="127.50" y1="538.50" x2="127.50" y2="541.80" stroke="#333" stroke-width="1.0"/>
<text transform="translate(127.00,548.50) scale(0.91,1)" font-size="7.5" text-anchor="middle" class="c">600</text>
<text x="91.00" y="461.90" font-size="6.55" text-anchor="middle" class="c">n118-WT</text>
<polyline points="151.80,537.04 152.27,537.04 152.74,537.04 153.21,537.04 153.69,537.04 154.16,537.04 154.63,537.04 155.10,537.04 155.57,537.04 156.04,537.04 156.51,537.04 157.22,537.04 157.93,537.04 158.63,537.04 159.34,537.04 160.05,537.04 160.76,537.04 161.46,537.04 162.17,537.04 162.88,537.04 163.58,537.04 164.29,537.04 165.00,537.04 165.70,537.04 166.41,537.04 167.12,537.04 167.83,537.04 168.53,537.04 169.24,537.04 169.95,537.04 170.65,537.04 171.36,537.04 172.07,537.04 172.77,537.04 173.48,537.04 174.19,537.04 174.90,537.04 175.60,537.04 176.31,537.04 177.02,537.04 177.72,537.04 178.43,537.04 179.14,537.04 179.84,537.04 180.55,537.04 181.26,537.04 181.97,537.04 182.67,537.04 183.38,537.04 184.09,537.04 184.79,537.04 185.50,537.04 186.21,537.04 186.68,537.04 187.15,537.04 187.62,537.02 188.09,537.01 188.56,537.00 189.04,536.98 189.51,536.97 189.98,536.96 190.45,536.94 190.92,536.93 191.39,536.92 191.86,536.90 192.57,536.88 193.28,536.86 193.98,536.84 194.69,536.82 195.40,536.80 196.11,536.78 196.81,536.76 197.52,536.74 198.23,536.72 198.93,536.70 199.64,536.68 200.35,536.66 201.05,536.64 201.76,536.62 202.47,536.60 203.18,536.58 203.88,536.56 204.59,536.54 205.30,536.52 206.00,536.50 206.71,536.48 207.42,536.46 208.12,536.44 208.83,536.42 209.54,536.40 210.25,536.38 210.95,536.35 211.66,536.33 212.37,536.31 213.07,536.29 213.78,536.27 214.49,536.25 215.19,536.23 215.90,536.21 216.61,536.19 217.32,536.17 218.02,536.15 218.73,536.13 219.44,536.11 220.14,536.09 220.85,536.07 221.56,536.05 222.26,536.03" fill="none" stroke="#ec3d3d" stroke-width="1.1" stroke-linejoin="round"/>
<polyline points="151.80,537.38 152.27,537.37 152.74,537.37 153.21,537.36 153.69,537.36 154.16,537.35 154.63,537.35 155.10,537.35 155.57,537.34 156.04,537.34 156.51,537.33 157.22,537.33 157.93,537.32 158.63,537.31 159.34,537.30 160.05,537.30 160.76,537.29 161.46,537.28 162.17,537.28 162.88,537.27 163.58,537.26 164.29,537.26 165.00,537.25 165.70,537.24 166.41,537.24 167.12,537.23 167.83,537.22 168.53,537.22 169.24,537.21 169.95,537.20 170.65,537.20 171.36,537.19 172.07,537.18 172.77,537.18 173.48,537.17 174.19,537.16 174.90,537.16 175.60,537.15 176.31,537.14 177.02,537.14 177.72,537.13 178.43,537.12 179.14,537.12 179.84,537.11 180.55,537.10 181.26,537.09 181.97,537.09 182.67,537.08 183.38,537.07 184.09,537.07 184.79,537.06 185.50,537.05 186.21,537.05 186.68,537.04 187.15,537.04 187.62,536.98 188.09,536.93 188.56,536.88 189.04,536.82 189.51,536.77 189.98,536.71 190.45,536.66 190.92,536.61 191.39,536.55 191.86,536.50 192.57,536.42 193.28,536.33 193.98,536.25 194.69,536.17 195.40,536.09 196.11,536.01 196.81,535.93 197.52,535.85 198.23,535.77 198.93,535.68 199.64,535.66 200.35,535.64 201.05,535.62 201.76,535.60 202.47,535.58 203.18,535.56 203.88,535.54 204.59,535.52 205.30,535.50 206.00,535.48 206.71,535.46 207.42,535.44 208.12,535.42 208.83,535.40 209.54,535.38 210.25,535.36 210.95,535.34 211.66,535.32 212.37,535.30 213.07,535.28 213.78,535.26 214.49,535.24 215.19,535.22 215.90,535.20 216.61,535.18 217.32,535.16 218.02,535.14 218.73,535.12 219.44,535.10 220.14,535.08 220.85,535.05 221.56,535.03 222.26,535.01" fill="none" stroke="#62a6f4" stroke-width="1.1" stroke-linejoin="round"/>
<line x1="151.50" y1="469.00" x2="151.50" y2="539.00" stroke="#222" stroke-width="1.0"/>
<line x1="148.40" y1="536.50" x2="151.50" y2="536.50" stroke="#333" stroke-width="1.0"/>
<text transform="translate(147.20,539.60) scale(0.83,1)" font-size="8.1" text-anchor="end" class="c">0.0</text>
<line x1="148.40" y1="519.50" x2="151.50" y2="519.50" stroke="#333" stroke-width="1.0"/>
<text transform="translate(147.20,522.67) scale(0.83,1)" font-size="8.1" text-anchor="end" class="c">0.5</text>
<line x1="148.40" y1="502.50" x2="151.50" y2="502.50" stroke="#333" stroke-width="1.0"/>
<text transform="translate(147.20,505.75) scale(0.83,1)" font-size="8.1" text-anchor="end" class="c">1.0</text>
<line x1="148.40" y1="485.50" x2="151.50" y2="485.50" stroke="#333" stroke-width="1.0"/>
<text transform="translate(147.20,488.82) scale(0.83,1)" font-size="8.1" text-anchor="end" class="c">1.5</text>
<line x1="148.40" y1="469.50" x2="151.50" y2="469.50" stroke="#333" stroke-width="1.0"/>
<text transform="translate(147.20,471.90) scale(0.83,1)" font-size="8.1" text-anchor="end" class="c">2.0</text>
<line x1="151.00" y1="538.50" x2="223.00" y2="538.50" stroke="#222" stroke-width="1.0"/>
<line x1="151.50" y1="538.50" x2="151.50" y2="541.80" stroke="#333" stroke-width="1.0"/>
<text transform="translate(151.80,548.80) scale(0.91,1)" font-size="7.5" text-anchor="middle" class="c">0</text>
<line x1="175.50" y1="538.50" x2="175.50" y2="541.80" stroke="#333" stroke-width="1.0"/>
<text transform="translate(175.37,548.80) scale(0.91,1)" font-size="7.5" text-anchor="middle" class="c">200</text>
<line x1="198.50" y1="538.50" x2="198.50" y2="541.80" stroke="#333" stroke-width="1.0"/>
<text transform="translate(198.93,548.80) scale(0.91,1)" font-size="7.5" text-anchor="middle" class="c">400</text>
<line x1="222.50" y1="538.50" x2="222.50" y2="541.80" stroke="#333" stroke-width="1.0"/>
<text transform="translate(222.50,548.80) scale(0.91,1)" font-size="7.5" text-anchor="middle" class="c">600</text>
<text x="187.15" y="461.90" font-size="6.55" text-anchor="middle" class="c">n118-M1</text>
<polyline points="247.90,535.90 248.37,535.90 248.84,535.90 249.30,535.90 249.77,535.90 250.24,535.90 250.71,535.90 251.18,535.90 251.64,535.90 252.11,535.90 252.58,535.90 253.28,535.90 253.98,535.90 254.69,535.90 255.39,535.90 256.09,535.90 256.79,535.90 257.49,535.90 258.20,535.90 258.90,535.90 259.60,535.90 260.30,535.90 261.00,535.90 261.71,535.90 262.41,535.90 263.11,535.90 263.81,535.90 264.51,535.90 265.22,535.90 265.92,535.90 266.62,535.90 267.32,535.90 268.02,535.90 268.73,535.90 269.43,535.90 270.13,535.90 270.83,535.90 271.53,535.90 272.24,535.90 272.94,535.90 273.64,535.90 274.34,535.90 275.04,535.90 275.75,535.90 276.45,535.90 277.15,535.90 277.85,535.90 278.55,535.90 279.26,535.90 279.96,535.90 280.66,535.90 281.36,535.90 282.06,535.90 282.53,535.90 283.00,535.90 283.47,535.89 283.94,535.87 284.40,535.86 284.87,535.85 285.34,535.83 285.81,535.82 286.28,535.81 286.74,535.79 287.21,535.78 287.68,535.77 288.38,535.75 289.08,535.73 289.79,535.71 290.49,535.69 291.19,535.67 291.89,535.65 292.59,535.63 293.30,535.61 294.00,535.59 294.70,535.57 295.40,535.55 296.10,535.53 296.81,535.51 297.51,535.49 298.21,535.47 298.91,535.45 299.61,535.43 300.32,535.41 301.02,535.39 301.72,535.37 302.42,535.35 303.12,535.33 303.83,535.31 304.53,535.29 305.23,535.27 305.93,535.25 306.63,535.23 307.34,535.21 308.04,535.19 308.74,535.17 309.44,535.15 310.14,535.13 310.85,535.11 311.55,535.09 312.25,535.07 312.95,535.05 313.65,535.03 314.36,535.01 315.06,534.99 315.76,534.97 316.46,534.95 317.16,534.93 317.87,534.91" fill="none" stroke="#ec3d3d" stroke-width="1.1" stroke-linejoin="round"/>
<polyline points="247.90,537.56 248.37,537.56 248.84,537.56 249.30,537.56 249.77,537.56 250.24,537.56 250.71,537.56 251.18,537.56 251.64,537.56 252.11,537.56 252.58,537.56 253.28,537.56 253.98,537.56 254.69,537.56 255.39,537.56 256.09,537.56 256.79,537.56 257.49,537.56 258.20,537.56 258.90,537.56 259.60,537.56 260.30,537.56 261.00,537.56 261.71,537.56 262.41,537.56 263.11,537.56 263.81,537.56 264.51,537.56 265.22,537.56 265.92,537.56 266.62,537.56 267.32,537.56 268.02,537.56 268.73,537.56 269.43,537.56 270.13,537.56 270.83,537.56 271.53,537.56 272.24,537.56 272.94,537.56 273.64,537.56 274.34,537.56 275.04,537.56 275.75,537.56 276.45,537.56 277.15,537.56 277.85,537.56 278.55,537.56 279.26,537.56 279.96,537.56 280.66,537.56 281.36,537.56 282.06,537.56 282.53,537.56 283.00,537.56 283.47,537.50 283.94,537.43 284.40,537.37 284.87,537.30 285.34,537.23 285.81,537.17 286.28,537.10 286.74,537.03 287.21,536.97 287.68,536.90 288.38,536.80 289.08,536.70 289.79,536.60 290.49,536.50 291.19,536.40 291.89,536.30 292.59,536.20 293.30,536.10 294.00,536.00 294.70,535.90 295.40,535.85 296.10,535.80 296.81,535.75 297.51,535.70 298.21,535.65 298.91,535.60 299.61,535.55 300.32,535.50 301.02,535.45 301.72,535.40 302.42,535.35 303.12,535.30 303.83,535.25 304.53,535.20 305.23,535.15 305.93,535.10 306.63,535.05 307.34,535.00 308.04,534.95 308.74,534.90 309.44,534.85 310.14,534.80 310.85,534.75 311.55,534.70 312.25,534.65 312.95,534.60 313.65,534.55 314.36,534.50 315.06,534.45 315.76,534.40 316.46,534.35 317.16,534.30 317.87,534.25" fill="none" stroke="#62a6f4" stroke-width="1.1" stroke-linejoin="round"/>
<line x1="247.50" y1="469.00" x2="247.50" y2="539.00" stroke="#222" stroke-width="1.0"/>
<line x1="244.40" y1="535.50" x2="247.50" y2="535.50" stroke="#333" stroke-width="1.0"/>
<text transform="translate(243.30,538.80) scale(0.83,1)" font-size="8.1" text-anchor="end" class="c">0.0</text>
<line x1="244.40" y1="519.50" x2="247.50" y2="519.50" stroke="#333" stroke-width="1.0"/>
<text transform="translate(243.30,522.15) scale(0.83,1)" font-size="8.1" text-anchor="end" class="c">0.5</text>
<line x1="244.40" y1="502.50" x2="247.50" y2="502.50" stroke="#333" stroke-width="1.0"/>
<text transform="translate(243.30,505.50) scale(0.83,1)" font-size="8.1" text-anchor="end" class="c">1.0</text>
<line x1="244.40" y1="485.50" x2="247.50" y2="485.50" stroke="#333" stroke-width="1.0"/>
<text transform="translate(243.30,488.85) scale(0.83,1)" font-size="8.1" text-anchor="end" class="c">1.5</text>
<line x1="244.40" y1="469.50" x2="247.50" y2="469.50" stroke="#333" stroke-width="1.0"/>
<text transform="translate(243.30,472.20) scale(0.83,1)" font-size="8.1" text-anchor="end" class="c">2.0</text>
<line x1="247.00" y1="538.50" x2="319.00" y2="538.50" stroke="#222" stroke-width="1.0"/>
<line x1="247.50" y1="538.50" x2="247.50" y2="541.80" stroke="#333" stroke-width="1.0"/>
<text transform="translate(247.90,549.30) scale(0.91,1)" font-size="7.5" text-anchor="middle" class="c">0</text>
<line x1="271.50" y1="538.50" x2="271.50" y2="541.80" stroke="#333" stroke-width="1.0"/>
<text transform="translate(271.30,549.30) scale(0.91,1)" font-size="7.5" text-anchor="middle" class="c">200</text>
<line x1="294.50" y1="538.50" x2="294.50" y2="541.80" stroke="#333" stroke-width="1.0"/>
<text transform="translate(294.70,549.30) scale(0.91,1)" font-size="7.5" text-anchor="middle" class="c">400</text>
<line x1="318.50" y1="538.50" x2="318.50" y2="541.80" stroke="#333" stroke-width="1.0"/>
<text transform="translate(318.10,549.30) scale(0.91,1)" font-size="7.5" text-anchor="middle" class="c">600</text>
<text x="283.00" y="461.90" font-size="6.55" text-anchor="middle" class="c">n118-M2</text>
<polyline points="55.00,639.10 55.48,638.51 55.96,637.94 56.44,637.39 56.92,636.85 57.40,636.33 57.88,635.83 58.36,635.34 58.84,634.86 59.32,634.40 59.80,633.96 60.52,633.31 61.24,632.70 61.96,632.11 62.68,631.55 63.40,631.02 64.12,630.51 64.84,630.02 65.56,629.55 66.28,629.11 67.00,628.68 67.72,628.28 68.44,627.89 69.16,627.52 69.88,627.16 70.60,626.83 71.32,626.51 72.04,626.20 72.76,625.90 73.48,625.62 74.20,625.36 74.92,625.10 75.64,624.86 76.36,624.62 77.08,624.40 77.80,624.19 78.52,623.98 79.24,623.79 79.96,623.60 80.68,623.43 81.40,623.26 82.12,623.10 82.84,622.94 83.56,622.80 84.28,622.66 85.00,622.52 85.72,622.39 86.44,622.27 87.16,622.16 87.88,622.04 88.60,621.94 89.32,621.84 90.04,621.74 90.52,621.68 91.00,621.62 91.48,621.94 91.96,622.25 92.44,622.54 92.92,622.82 93.40,623.09 93.88,623.34 94.36,623.58 94.84,623.81 95.32,624.02 95.80,624.23 96.52,624.52 97.24,624.79 97.96,625.04 98.68,625.28 99.40,625.49 100.12,625.69 100.84,625.88 101.56,626.05 102.28,626.21 103.00,626.36 103.72,626.49 104.44,626.62 105.16,626.74 105.88,626.85 106.60,626.95 107.32,627.05 108.04,627.13 108.76,627.22 109.48,627.29 110.20,627.36 110.92,627.43 111.64,627.49 112.36,627.54 113.08,627.59 113.80,627.64 114.52,627.69 115.24,627.73 115.96,627.77 116.68,627.80 117.40,627.84 118.12,627.87 118.84,627.89 119.56,627.92 120.28,627.95 121.00,627.97 121.72,627.99 122.44,628.01 123.16,628.03 123.88,628.04 124.60,628.06 125.32,628.07 126.04,628.09 126.76,628.10" fill="none" stroke="#ab4fe6" stroke-width="1.1" stroke-linejoin="round"/>
<polyline points="55.00,639.10 55.48,637.44 55.96,635.89 56.44,634.43 56.92,633.07 57.40,631.79 57.88,630.59 58.36,629.47 58.84,628.42 59.32,627.44 59.80,626.52 60.52,625.25 61.24,624.09 61.96,623.04 62.68,622.09 63.40,621.23 64.12,620.44 64.84,619.73 65.56,619.08 66.28,618.49 67.00,617.95 67.72,617.47 68.44,617.02 69.16,616.62 69.88,616.25 70.60,615.91 71.32,615.60 72.04,615.32 72.76,615.06 73.48,614.82 74.20,614.60 74.92,614.40 75.64,614.22 76.36,614.05 77.08,613.89 77.80,613.75 78.52,613.62 79.24,613.49 79.96,613.38 80.68,613.27 81.40,613.17 82.12,613.08 82.84,612.99 83.56,612.91 84.28,612.83 85.00,612.75 85.72,612.69 86.44,612.62 87.16,612.56 87.88,612.50 88.60,612.44 89.32,612.39 90.04,612.33 90.52,612.30 91.00,612.27 91.48,613.09 91.96,613.86 92.44,614.59 92.92,615.28 93.40,615.93 93.88,616.55 94.36,617.13 94.84,617.68 95.32,618.20 95.80,618.69 96.52,619.38 97.24,620.00 97.96,620.58 98.68,621.11 99.40,621.60 100.12,622.04 100.84,622.45 101.56,622.83 102.28,623.17 103.00,623.49 103.72,623.78 104.44,624.05 105.16,624.29 105.88,624.51 106.60,624.72 107.32,624.91 108.04,625.08 108.76,625.24 109.48,625.39 110.20,625.52 110.92,625.65 111.64,625.76 112.36,625.86 113.08,625.96 113.80,626.05 114.52,626.13 115.24,626.20 115.96,626.27 116.68,626.33 117.40,626.39 118.12,626.44 118.84,626.49 119.56,626.53 120.28,626.57 121.00,626.61 121.72,626.64 122.44,626.68 123.16,626.70 123.88,626.73 124.60,626.75 125.32,626.78 126.04,626.80 126.76,626.82" fill="none" stroke="#3fcb7a" stroke-width="1.1" stroke-linejoin="round"/>
<polyline points="55.00,639.10 55.48,634.07 55.96,629.78 56.44,626.10 56.92,622.97 57.40,620.28 57.88,617.98 58.36,616.01 58.84,614.32 59.32,612.87 59.80,611.63 60.52,610.08 61.24,608.84 61.96,607.84 62.68,607.03 63.40,606.37 64.12,605.83 64.84,605.38 65.56,605.00 66.28,604.69 67.00,604.41 67.72,604.18 68.44,603.97 69.16,603.78 69.88,603.61 70.60,603.46 71.32,603.31 72.04,603.17 72.76,603.04 73.48,602.92 74.20,602.80 74.92,602.68 75.64,602.56 76.36,602.45 77.08,602.34 77.80,602.23 78.52,602.12 79.24,602.01 79.96,601.90 80.68,601.79 81.40,601.69 82.12,601.58 82.84,601.47 83.56,601.37 84.28,601.26 85.00,601.15 85.72,601.05 86.44,600.94 87.16,600.84 87.88,600.73 88.60,600.62 89.32,600.52 90.04,600.41 90.52,600.34 91.00,600.27 91.48,602.10 91.96,603.79 92.44,605.37 92.92,606.84 93.40,608.20 93.88,609.47 94.36,610.65 94.84,611.75 95.32,612.77 95.80,613.71 96.52,615.01 97.24,616.18 97.96,617.22 98.68,618.16 99.40,619.00 100.12,619.75 100.84,620.43 101.56,621.03 102.28,621.58 103.00,622.06 103.72,622.50 104.44,622.89 105.16,623.24 105.88,623.56 106.60,623.84 107.32,624.09 108.04,624.32 108.76,624.52 109.48,624.70 110.20,624.87 110.92,625.01 111.64,625.15 112.36,625.26 113.08,625.37 113.80,625.46 114.52,625.55 115.24,625.63 115.96,625.69 116.68,625.75 117.40,625.81 118.12,625.86 118.84,625.90 119.56,625.94 120.28,625.98 121.00,626.01 121.72,626.04 122.44,626.06 123.16,626.09 123.88,626.11 124.60,626.13 125.32,626.14 126.04,626.16 126.76,626.17" fill="none" stroke="#ec3d3d" stroke-width="1.1" stroke-linejoin="round"/>
<polyline points="55.00,639.10 55.48,627.99 55.96,620.01 56.44,614.26 56.92,610.11 57.40,607.11 57.88,604.93 58.36,603.34 58.84,602.18 59.32,601.31 59.80,600.67 60.52,599.97 61.24,599.49 61.96,599.15 62.68,598.88 63.40,598.65 64.12,598.46 64.84,598.29 65.56,598.12 66.28,597.96 67.00,597.81 67.72,597.66 68.44,597.51 69.16,597.36 69.88,597.21 70.60,597.06 71.32,596.91 72.04,596.76 72.76,596.61 73.48,596.46 74.20,596.32 74.92,596.17 75.64,596.02 76.36,595.87 77.08,595.72 77.80,595.58 78.52,595.43 79.24,595.28 79.96,595.13 80.68,594.98 81.40,594.83 82.12,594.69 82.84,594.54 83.56,594.39 84.28,594.24 85.00,594.09 85.72,593.94 86.44,593.80 87.16,593.65 87.88,593.50 88.60,593.35 89.32,593.20 90.04,593.05 90.52,592.96 91.00,592.86 91.48,595.22 91.96,597.43 92.44,599.47 92.92,601.38 93.40,603.15 93.88,604.79 94.36,606.32 94.84,607.75 95.32,609.07 95.80,610.30 96.52,611.99 97.24,613.50 97.96,614.85 98.68,616.07 99.40,617.16 100.12,618.14 100.84,619.01 101.56,619.80 102.28,620.50 103.00,621.13 103.72,621.70 104.44,622.21 105.16,622.66 105.88,623.07 106.60,623.44 107.32,623.77 108.04,624.06 108.76,624.32 109.48,624.56 110.20,624.77 110.92,624.96 111.64,625.13 112.36,625.29 113.08,625.42 113.80,625.55 114.52,625.66 115.24,625.76 115.96,625.85 116.68,625.92 117.40,626.00 118.12,626.06 118.84,626.12 119.56,626.17 120.28,626.21 121.00,626.26 121.72,626.29 122.44,626.33 123.16,626.36 123.88,626.38 124.60,626.41 125.32,626.43 126.04,626.45 126.76,626.46" fill="none" stroke="#62a6f4" stroke-width="1.1" stroke-linejoin="round"/>
<line x1="54.50" y1="568.00" x2="54.50" y2="640.00" stroke="#222" stroke-width="1.0"/>
<line x1="51.40" y1="639.50" x2="54.50" y2="639.50" stroke="#333" stroke-width="1.0"/>
<text transform="translate(50.40,642.00) scale(0.83,1)" font-size="8.1" text-anchor="end" class="c">0.0</text>
<line x1="51.40" y1="621.50" x2="54.50" y2="621.50" stroke="#333" stroke-width="1.0"/>
<text transform="translate(50.40,624.35) scale(0.83,1)" font-size="8.1" text-anchor="end" class="c">0.5</text>
<line x1="51.40" y1="603.50" x2="54.50" y2="603.50" stroke="#333" stroke-width="1.0"/>
<text transform="translate(50.40,606.70) scale(0.83,1)" font-size="8.1" text-anchor="end" class="c">1.0</text>
<line x1="51.40" y1="586.50" x2="54.50" y2="586.50" stroke="#333" stroke-width="1.0"/>
<text transform="translate(50.40,589.05) scale(0.83,1)" font-size="8.1" text-anchor="end" class="c">1.5</text>
<line x1="51.40" y1="568.50" x2="54.50" y2="568.50" stroke="#333" stroke-width="1.0"/>
<text transform="translate(50.40,571.40) scale(0.83,1)" font-size="8.1" text-anchor="end" class="c">2.0</text>
<line x1="54.00" y1="639.50" x2="128.00" y2="639.50" stroke="#222" stroke-width="1.0"/>
<line x1="55.50" y1="639.50" x2="55.50" y2="642.80" stroke="#333" stroke-width="1.0"/>
<text transform="translate(55.00,649.90) scale(0.91,1)" font-size="7.5" text-anchor="middle" class="c">0</text>
<line x1="79.50" y1="639.50" x2="79.50" y2="642.80" stroke="#333" stroke-width="1.0"/>
<text transform="translate(79.00,649.90) scale(0.91,1)" font-size="7.5" text-anchor="middle" class="c">200</text>
<line x1="103.50" y1="639.50" x2="103.50" y2="642.80" stroke="#333" stroke-width="1.0"/>
<text transform="translate(103.00,649.90) scale(0.91,1)" font-size="7.5" text-anchor="middle" class="c">400</text>
<line x1="127.50" y1="639.50" x2="127.50" y2="642.80" stroke="#333" stroke-width="1.0"/>
<text transform="translate(127.00,649.90) scale(0.91,1)" font-size="7.5" text-anchor="middle" class="c">600</text>
<text x="91.00" y="560.70" font-size="6.55" text-anchor="middle" class="c">n118-M3</text>
<text x="55.85" y="577.00" font-size="6.7" class="c">K<tspan font-size="4.82" dy="1.6">D</tspan></text>
<text x="63.80" y="577.00" font-size="6.7" class="c" textLength="31.05" lengthAdjust="spacingAndGlyphs">= 62.7 nM</text>
<polyline points="151.80,639.00 152.27,638.31 152.74,637.65 153.21,637.02 153.69,636.42 154.16,635.84 154.63,635.29 155.10,634.76 155.57,634.25 156.04,633.77 156.51,633.31 157.22,632.65 157.93,632.04 158.63,631.46 159.34,630.93 160.05,630.43 160.76,629.96 161.46,629.52 162.17,629.10 162.88,628.72 163.58,628.36 164.29,628.02 165.00,627.71 165.70,627.41 166.41,627.14 167.12,626.88 167.83,626.64 168.53,626.41 169.24,626.20 169.95,626.00 170.65,625.82 171.36,625.65 172.07,625.48 172.77,625.33 173.48,625.19 174.19,625.06 174.90,624.93 175.60,624.82 176.31,624.71 177.02,624.61 177.72,624.51 178.43,624.43 179.14,624.34 179.84,624.26 180.55,624.19 181.26,624.12 181.97,624.06 182.67,624.00 183.38,623.94 184.09,623.89 184.79,623.84 185.50,623.80 186.21,623.76 186.68,623.73 187.15,623.70 187.62,624.31 188.09,624.89 188.56,625.45 189.04,625.98 189.51,626.49 189.98,626.98 190.45,627.45 190.92,627.90 191.39,628.34 191.86,628.75 192.57,629.34 193.28,629.89 193.98,630.41 194.69,630.90 195.40,631.36 196.11,631.79 196.81,632.19 197.52,632.57 198.23,632.93 198.93,633.26 199.64,633.58 200.35,633.87 201.05,634.15 201.76,634.41 202.47,634.65 203.18,634.88 203.88,635.09 204.59,635.30 205.30,635.49 206.00,635.66 206.71,635.83 207.42,635.99 208.12,636.13 208.83,636.27 209.54,636.40 210.25,636.52 210.95,636.64 211.66,636.74 212.37,636.84 213.07,636.94 213.78,637.03 214.49,637.11 215.19,637.19 215.90,637.26 216.61,637.33 217.32,637.40 218.02,637.46 218.73,637.51 219.44,637.57 220.14,637.62 220.85,637.66 221.56,637.71 222.26,637.75" fill="none" stroke="#ab4fe6" stroke-width="1.1" stroke-linejoin="round"/>
<polyline points="151.80,639.00 152.27,636.78 152.74,634.73 153.21,632.83 153.69,631.08 154.16,629.47 154.63,627.98 155.10,626.61 155.57,625.34 156.04,624.16 156.51,623.08 157.22,621.61 157.93,620.31 158.63,619.16 159.34,618.13 160.05,617.22 160.76,616.42 161.46,615.70 162.17,615.07 162.88,614.51 163.58,614.01 164.29,613.56 165.00,613.17 165.70,612.82 166.41,612.52 167.12,612.24 167.83,612.00 168.53,611.78 169.24,611.59 169.95,611.42 170.65,611.27 171.36,611.14 172.07,611.02 172.77,610.92 173.48,610.82 174.19,610.74 174.90,610.67 175.60,610.60 176.31,610.55 177.02,610.50 177.72,610.45 178.43,610.41 179.14,610.37 179.84,610.34 180.55,610.31 181.26,610.29 181.97,610.27 182.67,610.25 183.38,610.23 184.09,610.22 184.79,610.20 185.50,610.19 186.21,610.18 186.68,610.17 187.15,610.17 187.62,611.31 188.09,612.40 188.56,613.45 189.04,614.46 189.51,615.42 189.98,616.35 190.45,617.23 190.92,618.08 191.39,618.90 191.86,619.68 192.57,620.79 193.28,621.83 193.98,622.81 194.69,623.73 195.40,624.60 196.11,625.41 196.81,626.17 197.52,626.89 198.23,627.56 198.93,628.19 199.64,628.78 200.35,629.33 201.05,629.85 201.76,630.34 202.47,630.80 203.18,631.23 203.88,631.64 204.59,632.02 205.30,632.37 206.00,632.71 206.71,633.02 207.42,633.32 208.12,633.60 208.83,633.86 209.54,634.10 210.25,634.33 210.95,634.55 211.66,634.75 212.37,634.94 213.07,635.11 213.78,635.28 214.49,635.44 215.19,635.59 215.90,635.72 216.61,635.85 217.32,635.98 218.02,636.09 218.73,636.20 219.44,636.30 220.14,636.39 220.85,636.48 221.56,636.57 222.26,636.64" fill="none" stroke="#3fcb7a" stroke-width="1.1" stroke-linejoin="round"/>
<polyline points="151.80,639.00 152.27,632.08 152.74,626.32 153.21,621.51 153.69,617.50 154.16,614.16 154.63,611.38 155.10,609.05 155.57,607.12 156.04,605.50 156.51,604.16 157.22,602.55 157.93,601.32 158.63,600.38 159.34,599.67 160.05,599.13 160.76,598.72 161.46,598.41 162.17,598.17 162.88,597.98 163.58,597.85 164.29,597.74 165.00,597.66 165.70,597.60 166.41,597.55 167.12,597.52 167.83,597.49 168.53,597.47 169.24,597.45 169.95,597.44 170.65,597.43 171.36,597.43 172.07,597.42 172.77,597.42 173.48,597.41 174.19,597.41 174.90,597.41 175.60,597.41 176.31,597.41 177.02,597.41 177.72,597.41 178.43,597.41 179.14,597.41 179.84,597.41 180.55,597.41 181.26,597.41 181.97,597.41 182.67,597.41 183.38,597.41 184.09,597.41 184.79,597.41 185.50,597.41 186.21,597.41 186.68,597.41 187.15,597.41 187.62,599.05 188.09,600.63 188.56,602.14 189.04,603.59 189.51,604.99 189.98,606.32 190.45,607.60 190.92,608.82 191.39,610.00 191.86,611.13 192.57,612.73 193.28,614.24 193.98,615.65 194.69,616.98 195.40,618.22 196.11,619.39 196.81,620.49 197.52,621.52 198.23,622.49 198.93,623.40 199.64,624.25 200.35,625.05 201.05,625.81 201.76,626.51 202.47,627.17 203.18,627.80 203.88,628.38 204.59,628.93 205.30,629.44 206.00,629.93 206.71,630.38 207.42,630.80 208.12,631.20 208.83,631.58 209.54,631.93 210.25,632.26 210.95,632.57 211.66,632.86 212.37,633.14 213.07,633.40 213.78,633.64 214.49,633.86 215.19,634.08 215.90,634.28 216.61,634.46 217.32,634.64 218.02,634.80 218.73,634.96 219.44,635.10 220.14,635.24 220.85,635.37 221.56,635.49 222.26,635.60" fill="none" stroke="#ec3d3d" stroke-width="1.1" stroke-linejoin="round"/>
<polyline points="151.80,639.00 152.27,623.31 152.74,612.07 153.21,604.02 153.69,598.25 154.16,594.11 154.63,591.15 155.10,589.02 155.57,587.50 156.04,586.41 156.51,585.63 157.22,584.85 157.93,584.38 158.63,584.10 159.34,583.92 160.05,583.82 160.76,583.76 161.46,583.72 162.17,583.69 162.88,583.68 163.58,583.67 164.29,583.67 165.00,583.66 165.70,583.66 166.41,583.66 167.12,583.66 167.83,583.66 168.53,583.66 169.24,583.66 169.95,583.66 170.65,583.66 171.36,583.66 172.07,583.66 172.77,583.66 173.48,583.66 174.19,583.66 174.90,583.66 175.60,583.66 176.31,583.66 177.02,583.66 177.72,583.66 178.43,583.66 179.14,583.66 179.84,583.66 180.55,583.66 181.26,583.66 181.97,583.66 182.67,583.66 183.38,583.66 184.09,583.66 184.79,583.66 185.50,583.66 186.21,583.66 186.68,583.66 187.15,583.66 187.62,585.97 188.09,588.18 188.56,590.29 189.04,592.31 189.51,594.24 189.98,596.09 190.45,597.86 190.92,599.55 191.39,601.17 191.86,602.72 192.57,604.92 193.28,606.97 193.98,608.90 194.69,610.69 195.40,612.38 196.11,613.95 196.81,615.42 197.52,616.80 198.23,618.09 198.93,619.30 199.64,620.42 200.35,621.48 201.05,622.47 201.76,623.39 202.47,624.25 203.18,625.06 203.88,625.82 204.59,626.53 205.30,627.19 206.00,627.81 206.71,628.39 207.42,628.93 208.12,629.43 208.83,629.91 209.54,630.35 210.25,630.77 210.95,631.16 211.66,631.52 212.37,631.86 213.07,632.18 213.78,632.47 214.49,632.75 215.19,633.01 215.90,633.26 216.61,633.48 217.32,633.70 218.02,633.90 218.73,634.08 219.44,634.26 220.14,634.42 220.85,634.57 221.56,634.71 222.26,634.85" fill="none" stroke="#62a6f4" stroke-width="1.1" stroke-linejoin="round"/>
<line x1="151.50" y1="568.00" x2="151.50" y2="640.00" stroke="#222" stroke-width="1.0"/>
<line x1="148.40" y1="639.50" x2="151.50" y2="639.50" stroke="#333" stroke-width="1.0"/>
<text transform="translate(147.20,641.90) scale(0.83,1)" font-size="8.1" text-anchor="end" class="c">0.0</text>
<line x1="148.40" y1="621.50" x2="151.50" y2="621.50" stroke="#333" stroke-width="1.0"/>
<text transform="translate(147.20,624.27) scale(0.83,1)" font-size="8.1" text-anchor="end" class="c">0.5</text>
<line x1="148.40" y1="603.50" x2="151.50" y2="603.50" stroke="#333" stroke-width="1.0"/>
<text transform="translate(147.20,606.65) scale(0.83,1)" font-size="8.1" text-anchor="end" class="c">1.0</text>
<line x1="148.40" y1="586.50" x2="151.50" y2="586.50" stroke="#333" stroke-width="1.0"/>
<text transform="translate(147.20,589.02) scale(0.83,1)" font-size="8.1" text-anchor="end" class="c">1.5</text>
<line x1="148.40" y1="568.50" x2="151.50" y2="568.50" stroke="#333" stroke-width="1.0"/>
<text transform="translate(147.20,571.40) scale(0.83,1)" font-size="8.1" text-anchor="end" class="c">2.0</text>
<line x1="151.00" y1="639.50" x2="223.00" y2="639.50" stroke="#222" stroke-width="1.0"/>
<line x1="151.50" y1="639.50" x2="151.50" y2="642.80" stroke="#333" stroke-width="1.0"/>
<text transform="translate(151.80,649.50) scale(0.91,1)" font-size="7.5" text-anchor="middle" class="c">0</text>
<line x1="175.50" y1="639.50" x2="175.50" y2="642.80" stroke="#333" stroke-width="1.0"/>
<text transform="translate(175.37,649.50) scale(0.91,1)" font-size="7.5" text-anchor="middle" class="c">200</text>
<line x1="198.50" y1="639.50" x2="198.50" y2="642.80" stroke="#333" stroke-width="1.0"/>
<text transform="translate(198.93,649.50) scale(0.91,1)" font-size="7.5" text-anchor="middle" class="c">400</text>
<line x1="222.50" y1="639.50" x2="222.50" y2="642.80" stroke="#333" stroke-width="1.0"/>
<text transform="translate(222.50,649.50) scale(0.91,1)" font-size="7.5" text-anchor="middle" class="c">600</text>
<text x="187.15" y="560.70" font-size="6.55" text-anchor="middle" class="c">n118-M4</text>
<text x="153.55" y="576.60" font-size="6.7" class="c">K<tspan font-size="4.82" dy="1.6">D</tspan></text>
<text x="161.50" y="576.60" font-size="6.7" class="c" textLength="33.15" lengthAdjust="spacingAndGlyphs">=177.0 nM</text>
<polyline points="248.60,638.80 249.07,638.08 249.54,637.40 250.01,636.75 250.48,636.14 250.95,635.57 251.42,635.03 251.89,634.51 252.35,634.03 252.82,633.57 253.29,633.14 254.00,632.54 254.70,631.98 255.41,631.47 256.11,631.01 256.81,630.58 257.52,630.19 258.22,629.83 258.93,629.49 259.63,629.19 260.33,628.91 261.04,628.66 261.74,628.42 262.45,628.20 263.15,628.01 263.85,627.82 264.56,627.66 265.26,627.51 265.97,627.36 266.67,627.24 267.37,627.12 268.08,627.01 268.78,626.91 269.49,626.82 270.19,626.73 270.89,626.66 271.60,626.59 272.30,626.52 273.01,626.46 273.71,626.41 274.41,626.36 275.12,626.31 275.82,626.27 276.53,626.23 277.23,626.19 277.93,626.16 278.64,626.13 279.34,626.10 280.05,626.08 280.75,626.05 281.45,626.03 282.16,626.01 282.86,626.00 283.33,625.98 283.80,625.97 284.27,626.51 284.74,627.03 285.21,627.53 285.68,628.00 286.15,628.45 286.62,628.89 287.09,629.30 287.55,629.70 288.02,630.08 288.49,630.44 289.20,630.95 289.90,631.43 290.61,631.88 291.31,632.31 292.01,632.70 292.72,633.07 293.42,633.41 294.13,633.74 294.83,634.04 295.53,634.32 296.24,634.58 296.94,634.83 297.65,635.06 298.35,635.28 299.05,635.48 299.76,635.67 300.46,635.85 301.17,636.01 301.87,636.17 302.57,636.31 303.28,636.45 303.98,636.57 304.69,636.69 305.39,636.80 306.09,636.91 306.80,637.01 307.50,637.10 308.21,637.18 308.91,637.26 309.61,637.34 310.32,637.41 311.02,637.47 311.73,637.53 312.43,637.59 313.13,637.64 313.84,637.69 314.54,637.74 315.25,637.78 315.95,637.82 316.65,637.86 317.36,637.90 318.06,637.93 318.77,637.96" fill="none" stroke="#ab4fe6" stroke-width="1.1" stroke-linejoin="round"/>
<polyline points="248.60,638.80 249.07,637.02 249.54,635.37 250.01,633.85 250.48,632.45 250.95,631.15 251.42,629.96 251.89,628.85 252.35,627.83 252.82,626.89 253.29,626.02 254.00,624.85 254.70,623.80 255.41,622.87 256.11,622.05 256.81,621.32 257.52,620.67 258.22,620.10 258.93,619.59 259.63,619.14 260.33,618.74 261.04,618.39 261.74,618.07 262.45,617.79 263.15,617.54 263.85,617.32 264.56,617.13 265.26,616.96 265.97,616.80 266.67,616.67 267.37,616.55 268.08,616.44 268.78,616.34 269.49,616.26 270.19,616.19 270.89,616.12 271.60,616.06 272.30,616.01 273.01,615.96 273.71,615.92 274.41,615.89 275.12,615.85 275.82,615.83 276.53,615.80 277.23,615.78 277.93,615.76 278.64,615.74 279.34,615.72 280.05,615.71 280.75,615.70 281.45,615.69 282.16,615.68 282.86,615.67 283.33,615.66 283.80,615.66 284.27,616.63 284.74,617.57 285.21,618.46 285.68,619.31 286.15,620.13 286.62,620.91 287.09,621.66 287.55,622.38 288.02,623.06 288.49,623.71 289.20,624.64 289.90,625.51 290.61,626.32 291.31,627.08 292.01,627.79 292.72,628.46 293.42,629.08 294.13,629.66 294.83,630.21 295.53,630.72 296.24,631.19 296.94,631.64 297.65,632.06 298.35,632.45 299.05,632.81 299.76,633.15 300.46,633.47 301.17,633.77 301.87,634.05 302.57,634.31 303.28,634.56 303.98,634.79 304.69,635.00 305.39,635.20 306.09,635.39 306.80,635.56 307.50,635.73 308.21,635.88 308.91,636.02 309.61,636.16 310.32,636.28 311.02,636.40 311.73,636.51 312.43,636.61 313.13,636.71 313.84,636.80 314.54,636.88 315.25,636.96 315.95,637.04 316.65,637.11 317.36,637.17 318.06,637.23 318.77,637.29" fill="none" stroke="#3fcb7a" stroke-width="1.1" stroke-linejoin="round"/>
<polyline points="248.60,638.80 249.07,632.49 249.54,627.23 250.01,622.84 250.48,619.18 250.95,616.13 251.42,613.59 251.89,611.47 252.35,609.70 252.82,608.23 253.29,607.00 254.00,605.53 254.70,604.41 255.41,603.56 256.11,602.91 256.81,602.41 257.52,602.04 258.22,601.75 258.93,601.53 259.63,601.37 260.33,601.24 261.04,601.14 261.74,601.07 262.45,601.02 263.15,600.97 263.85,600.94 264.56,600.92 265.26,600.90 265.97,600.88 266.67,600.87 267.37,600.86 268.08,600.86 268.78,600.85 269.49,600.85 270.19,600.85 270.89,600.84 271.60,600.84 272.30,600.84 273.01,600.84 273.71,600.84 274.41,600.84 275.12,600.84 275.82,600.84 276.53,600.84 277.23,600.84 277.93,600.84 278.64,600.84 279.34,600.84 280.05,600.84 280.75,600.84 281.45,600.84 282.16,600.84 282.86,600.84 283.33,600.84 283.80,600.84 284.27,602.44 284.74,603.97 285.21,605.43 285.68,606.84 286.15,608.18 286.62,609.46 287.09,610.68 287.55,611.86 288.02,612.98 288.49,614.05 289.20,615.57 289.90,617.00 290.61,618.33 291.31,619.58 292.01,620.74 292.72,621.83 293.42,622.86 294.13,623.81 294.83,624.70 295.53,625.54 296.24,626.32 296.94,627.05 297.65,627.74 298.35,628.38 299.05,628.98 299.76,629.54 300.46,630.06 301.17,630.55 301.87,631.01 302.57,631.44 303.28,631.84 303.98,632.21 304.69,632.57 305.39,632.89 306.09,633.20 306.80,633.49 307.50,633.76 308.21,634.01 308.91,634.25 309.61,634.47 310.32,634.67 311.02,634.86 311.73,635.05 312.43,635.21 313.13,635.37 313.84,635.52 314.54,635.66 315.25,635.79 315.95,635.91 316.65,636.02 317.36,636.13 318.06,636.23 318.77,636.32" fill="none" stroke="#ec3d3d" stroke-width="1.1" stroke-linejoin="round"/>
<polyline points="248.60,638.80 249.07,621.42 249.54,609.77 250.01,601.96 250.48,596.72 250.95,593.21 251.42,590.86 251.89,589.28 252.35,588.22 252.82,587.52 253.29,587.04 254.00,586.60 254.70,586.37 255.41,586.23 256.11,586.16 256.81,586.12 257.52,586.10 258.22,586.09 258.93,586.08 259.63,586.08 260.33,586.08 261.04,586.08 261.74,586.08 262.45,586.08 263.15,586.08 263.85,586.08 264.56,586.08 265.26,586.08 265.97,586.08 266.67,586.08 267.37,586.08 268.08,586.08 268.78,586.08 269.49,586.08 270.19,586.08 270.89,586.08 271.60,586.08 272.30,586.08 273.01,586.08 273.71,586.08 274.41,586.08 275.12,586.08 275.82,586.08 276.53,586.08 277.23,586.08 277.93,586.08 278.64,586.08 279.34,586.08 280.05,586.08 280.75,586.08 281.45,586.08 282.16,586.08 282.86,586.08 283.33,586.08 283.80,586.08 284.27,588.44 284.74,590.69 285.21,592.84 285.68,594.90 286.15,596.85 286.62,598.72 287.09,600.50 287.55,602.20 288.02,603.82 288.49,605.37 289.20,607.56 289.90,609.60 290.61,611.50 291.31,613.27 292.01,614.92 292.72,616.46 293.42,617.89 294.13,619.23 294.83,620.47 295.53,621.63 296.24,622.71 296.94,623.72 297.65,624.66 298.35,625.53 299.05,626.34 299.76,627.10 300.46,627.81 301.17,628.47 301.87,629.08 302.57,629.66 303.28,630.19 303.98,630.69 304.69,631.15 305.39,631.58 306.09,631.98 306.80,632.36 307.50,632.71 308.21,633.03 308.91,633.34 309.61,633.62 310.32,633.88 311.02,634.13 311.73,634.36 312.43,634.57 313.13,634.77 313.84,634.95 314.54,635.12 315.25,635.29 315.95,635.44 316.65,635.57 317.36,635.70 318.06,635.83 318.77,635.94" fill="none" stroke="#62a6f4" stroke-width="1.1" stroke-linejoin="round"/>
<line x1="248.50" y1="568.00" x2="248.50" y2="640.00" stroke="#222" stroke-width="1.0"/>
<line x1="245.40" y1="638.50" x2="248.50" y2="638.50" stroke="#333" stroke-width="1.0"/>
<text transform="translate(244.00,641.70) scale(0.83,1)" font-size="8.1" text-anchor="end" class="c">0.0</text>
<line x1="245.40" y1="621.50" x2="248.50" y2="621.50" stroke="#333" stroke-width="1.0"/>
<text transform="translate(244.00,624.12) scale(0.83,1)" font-size="8.1" text-anchor="end" class="c">0.5</text>
<line x1="245.40" y1="603.50" x2="248.50" y2="603.50" stroke="#333" stroke-width="1.0"/>
<text transform="translate(244.00,606.55) scale(0.83,1)" font-size="8.1" text-anchor="end" class="c">1.0</text>
<line x1="245.40" y1="586.50" x2="248.50" y2="586.50" stroke="#333" stroke-width="1.0"/>
<text transform="translate(244.00,588.97) scale(0.83,1)" font-size="8.1" text-anchor="end" class="c">1.5</text>
<line x1="245.40" y1="568.50" x2="248.50" y2="568.50" stroke="#333" stroke-width="1.0"/>
<text transform="translate(244.00,571.40) scale(0.83,1)" font-size="8.1" text-anchor="end" class="c">2.0</text>
<line x1="248.00" y1="639.50" x2="320.00" y2="639.50" stroke="#222" stroke-width="1.0"/>
<line x1="248.50" y1="639.50" x2="248.50" y2="642.80" stroke="#333" stroke-width="1.0"/>
<text transform="translate(248.60,649.50) scale(0.91,1)" font-size="7.5" text-anchor="middle" class="c">0</text>
<line x1="272.50" y1="639.50" x2="272.50" y2="642.80" stroke="#333" stroke-width="1.0"/>
<text transform="translate(272.07,649.50) scale(0.91,1)" font-size="7.5" text-anchor="middle" class="c">200</text>
<line x1="295.50" y1="639.50" x2="295.50" y2="642.80" stroke="#333" stroke-width="1.0"/>
<text transform="translate(295.53,649.50) scale(0.91,1)" font-size="7.5" text-anchor="middle" class="c">400</text>
<line x1="319.50" y1="639.50" x2="319.50" y2="642.80" stroke="#333" stroke-width="1.0"/>
<text transform="translate(319.00,649.50) scale(0.91,1)" font-size="7.5" text-anchor="middle" class="c">600</text>
<text x="283.80" y="560.70" font-size="6.55" text-anchor="middle" class="c">n118-M5</text>
<text x="250.25" y="577.00" font-size="6.7" class="c">K<tspan font-size="4.82" dy="1.6">D</tspan></text>
<text x="258.20" y="577.00" font-size="6.7" class="c" textLength="34.35" lengthAdjust="spacingAndGlyphs">=114.0 nM</text>
<line x1="382.50" y1="466.60" x2="382.50" y2="660.07" stroke="#111" stroke-width="1.35"/>
<line x1="381.82" y1="659.40" x2="669.60" y2="659.40" stroke="#111" stroke-width="1.35"/>
<path d="M382.50,462.60 L379.70,467.80 L385.30,467.80 Z" fill="#111"/>
<path d="M673.60,659.40 L668.20,656.70 L668.20,662.10 Z" fill="#111"/>
<text transform="translate(372.90,549.00) rotate(-90)" font-size="9.75" text-anchor="middle" class="c">Response (nm)</text>
<text x="526.00" y="671.00" font-size="9.75" text-anchor="middle" class="c">Times (sec)</text>
<polyline points="404.20,538.30 404.67,538.29 405.15,538.29 405.62,538.28 406.10,538.27 406.57,538.27 407.05,538.26 407.52,538.26 408.00,538.25 408.47,538.24 408.95,538.24 409.66,538.23 410.37,538.22 411.08,538.21 411.79,538.20 412.51,538.19 413.22,538.18 413.93,538.17 414.64,538.16 415.35,538.15 416.07,538.14 416.78,538.13 417.49,538.12 418.20,538.11 418.91,538.10 419.63,538.09 420.34,538.09 421.05,538.08 421.76,538.07 422.47,538.06 423.19,538.05 423.90,538.04 424.61,538.03 425.32,538.02 426.03,538.01 426.75,538.00 427.46,537.99 428.17,537.98 428.88,537.97 429.59,537.96 430.31,537.95 431.02,537.94 431.73,537.93 432.44,537.92 433.15,537.92 433.87,537.91 434.58,537.90 435.29,537.89 436.00,537.88 436.71,537.87 437.43,537.86 438.14,537.85 438.85,537.84 439.33,537.83 439.80,537.83 440.27,537.83 440.75,537.83 441.22,537.83 441.70,537.83 442.17,537.83 442.65,537.83 443.12,537.83 443.60,537.83 444.07,537.83 444.55,537.83 445.26,537.83 445.97,537.83 446.68,537.83 447.39,537.83 448.11,537.83 448.82,537.83 449.53,537.83 450.24,537.83 450.95,537.83 451.67,537.83 452.38,537.83 453.09,537.83 453.80,537.83 454.51,537.83 455.23,537.83 455.94,537.83 456.65,537.83 457.36,537.83 458.07,537.83 458.79,537.83 459.50,537.83 460.21,537.83 460.92,537.83 461.63,537.83 462.35,537.83 463.06,537.83 463.77,537.83 464.48,537.83 465.19,537.83 465.91,537.83 466.62,537.83 467.33,537.83 468.04,537.83 468.75,537.83 469.47,537.83 470.18,537.83 470.89,537.83 471.60,537.83 472.31,537.83 473.03,537.83 473.74,537.83 474.45,537.83 475.16,537.83" fill="none" stroke="#3fcb7a" stroke-width="1.1" stroke-linejoin="round"/>
<polyline points="404.20,538.30 404.67,538.28 405.15,538.26 405.62,538.23 406.10,538.21 406.57,538.19 407.05,538.17 407.52,538.15 408.00,538.12 408.47,538.10 408.95,538.08 409.66,538.05 410.37,538.01 411.08,537.98 411.79,537.95 412.51,537.91 413.22,537.88 413.93,537.85 414.64,537.81 415.35,537.78 416.07,537.75 416.78,537.71 417.49,537.68 418.20,537.65 418.91,537.62 419.63,537.58 420.34,537.55 421.05,537.52 421.76,537.48 422.47,537.45 423.19,537.42 423.90,537.38 424.61,537.35 425.32,537.32 426.03,537.28 426.75,537.25 427.46,537.22 428.17,537.18 428.88,537.15 429.59,537.12 430.31,537.09 431.02,537.05 431.73,537.02 432.44,536.99 433.15,536.95 433.87,536.92 434.58,536.89 435.29,536.85 436.00,536.82 436.71,536.79 437.43,536.75 438.14,536.72 438.85,536.69 439.33,536.67 439.80,536.64 440.27,536.64 440.75,536.64 441.22,536.63 441.70,536.63 442.17,536.63 442.65,536.62 443.12,536.62 443.60,536.62 444.07,536.61 444.55,536.61 445.26,536.61 445.97,536.60 446.68,536.60 447.39,536.59 448.11,536.59 448.82,536.58 449.53,536.58 450.24,536.57 450.95,536.57 451.67,536.56 452.38,536.56 453.09,536.55 453.80,536.55 454.51,536.55 455.23,536.54 455.94,536.54 456.65,536.53 457.36,536.53 458.07,536.52 458.79,536.52 459.50,536.51 460.21,536.51 460.92,536.50 461.63,536.50 462.35,536.49 463.06,536.49 463.77,536.48 464.48,536.48 465.19,536.47 465.91,536.47 466.62,536.47 467.33,536.46 468.04,536.46 468.75,536.45 469.47,536.45 470.18,536.44 470.89,536.44 471.60,536.43 472.31,536.43 473.03,536.42 473.74,536.42 474.45,536.41 475.16,536.41" fill="none" stroke="#ec3d3d" stroke-width="1.1" stroke-linejoin="round"/>
<polyline points="404.20,538.30 404.67,538.22 405.15,538.15 405.62,538.07 406.10,538.00 406.57,537.92 407.05,537.85 407.52,537.77 408.00,537.69 408.47,537.62 408.95,537.54 409.66,537.43 410.37,537.32 411.08,537.20 411.79,537.09 412.51,536.97 413.22,536.86 413.93,536.75 414.64,536.63 415.35,536.52 416.07,536.41 416.78,536.26 417.49,536.12 418.20,535.98 418.91,535.84 419.63,535.70 420.34,535.55 421.05,535.41 421.76,535.27 422.47,535.13 423.19,534.99 423.90,534.84 424.61,534.70 425.32,534.56 426.03,534.42 426.75,534.28 427.46,534.13 428.17,534.00 428.88,533.89 429.59,533.77 430.31,533.66 431.02,533.55 431.73,533.43 432.44,533.32 433.15,533.21 433.87,533.09 434.58,532.98 435.29,532.87 436.00,532.75 436.71,532.64 437.43,532.53 438.14,532.41 438.85,532.30 439.33,532.22 439.80,532.15 440.27,532.15 440.75,532.16 441.22,532.17 441.70,532.17 442.17,532.18 442.65,532.18 443.12,532.19 443.60,532.20 444.07,532.20 444.55,532.21 445.26,532.22 445.97,532.23 446.68,532.24 447.39,532.25 448.11,532.26 448.82,532.27 449.53,532.28 450.24,532.29 450.95,532.29 451.67,532.30 452.38,532.31 453.09,532.32 453.80,532.33 454.51,532.34 455.23,532.35 455.94,532.36 456.65,532.37 457.36,532.38 458.07,532.39 458.79,532.40 459.50,532.41 460.21,532.42 460.92,532.43 461.63,532.44 462.35,532.45 463.06,532.46 463.77,532.47 464.48,532.47 465.19,532.48 465.91,532.49 466.62,532.50 467.33,532.51 468.04,532.52 468.75,532.53 469.47,532.54 470.18,532.55 470.89,532.56 471.60,532.57 472.31,532.58 473.03,532.59 473.74,532.60 474.45,532.61 475.16,532.62" fill="none" stroke="#62a6f4" stroke-width="1.1" stroke-linejoin="round"/>
<line x1="403.50" y1="467.00" x2="403.50" y2="539.00" stroke="#222" stroke-width="1.0"/>
<line x1="400.40" y1="538.50" x2="403.50" y2="538.50" stroke="#333" stroke-width="1.0"/>
<text transform="translate(399.60,541.20) scale(0.83,1)" font-size="8.1" text-anchor="end" class="c">0.0</text>
<line x1="400.40" y1="514.50" x2="403.50" y2="514.50" stroke="#333" stroke-width="1.0"/>
<text transform="translate(399.60,517.53) scale(0.83,1)" font-size="8.1" text-anchor="end" class="c">0.5</text>
<line x1="400.40" y1="490.50" x2="403.50" y2="490.50" stroke="#333" stroke-width="1.0"/>
<text transform="translate(399.60,493.87) scale(0.83,1)" font-size="8.1" text-anchor="end" class="c">1.0</text>
<line x1="400.40" y1="467.50" x2="403.50" y2="467.50" stroke="#333" stroke-width="1.0"/>
<text transform="translate(399.60,470.20) scale(0.83,1)" font-size="8.1" text-anchor="end" class="c">1.5</text>
<line x1="403.00" y1="538.50" x2="476.00" y2="538.50" stroke="#222" stroke-width="1.0"/>
<line x1="404.50" y1="538.50" x2="404.50" y2="541.80" stroke="#333" stroke-width="1.0"/>
<text transform="translate(404.20,549.00) scale(0.91,1)" font-size="7.5" text-anchor="middle" class="c">0</text>
<line x1="427.50" y1="538.50" x2="427.50" y2="541.80" stroke="#333" stroke-width="1.0"/>
<text transform="translate(427.93,549.00) scale(0.91,1)" font-size="7.5" text-anchor="middle" class="c">200</text>
<line x1="451.50" y1="538.50" x2="451.50" y2="541.80" stroke="#333" stroke-width="1.0"/>
<text transform="translate(451.67,549.00) scale(0.91,1)" font-size="7.5" text-anchor="middle" class="c">400</text>
<line x1="475.50" y1="538.50" x2="475.50" y2="541.80" stroke="#333" stroke-width="1.0"/>
<text transform="translate(475.40,549.00) scale(0.91,1)" font-size="7.5" text-anchor="middle" class="c">600</text>
<text x="439.80" y="460.30" font-size="6.55" text-anchor="middle" class="c">VHH3-WT</text>
<polyline points="500.40,538.00 500.88,536.67 501.37,536.07 501.85,535.80 502.33,535.67 502.81,535.62 503.30,535.59 503.78,535.57 504.26,535.56 504.74,535.55 505.23,535.54 505.95,535.53 506.67,535.53 507.40,535.52 508.12,535.51 508.85,535.50 509.57,535.49 510.29,535.48 511.02,535.47 511.74,535.46 512.47,535.46 513.19,535.45 513.91,535.44 514.64,535.43 515.36,535.42 516.09,535.41 516.81,535.40 517.53,535.40 518.26,535.39 518.98,535.38 519.71,535.37 520.43,535.36 521.15,535.35 521.88,535.34 522.60,535.34 523.33,535.33 524.05,535.32 524.77,535.31 525.50,535.30 526.22,535.29 526.95,535.28 527.67,535.27 528.39,535.27 529.12,535.26 529.84,535.25 530.57,535.24 531.29,535.23 532.01,535.22 532.74,535.21 533.46,535.21 534.19,535.20 534.91,535.19 535.63,535.18 536.12,535.17 536.60,535.17 537.08,535.85 537.57,536.34 538.05,536.69 538.53,536.95 539.01,537.13 539.50,537.26 539.98,537.35 540.46,537.42 540.94,537.47 541.43,537.51 542.15,537.54 542.87,537.57 543.60,537.58 544.32,537.59 545.05,537.60 545.77,537.60 546.49,537.61 547.22,537.61 547.94,537.61 548.67,537.62 549.39,537.62 550.11,537.62 550.84,537.62 551.56,537.62 552.29,537.63 553.01,537.63 553.73,537.63 554.46,537.63 555.18,537.64 555.91,537.64 556.63,537.64 557.35,537.64 558.08,537.64 558.80,537.65 559.53,537.65 560.25,537.65 560.97,537.65 561.70,537.65 562.42,537.66 563.15,537.66 563.87,537.66 564.59,537.66 565.32,537.67 566.04,537.67 566.77,537.67 567.49,537.67 568.21,537.67 568.94,537.68 569.66,537.68 570.39,537.68 571.11,537.68 571.83,537.68 572.56,537.68" fill="none" stroke="#ab4fe6" stroke-width="1.1" stroke-linejoin="round"/>
<polyline points="500.40,538.00 500.88,534.81 501.37,533.38 501.85,532.72 502.33,532.42 502.81,532.28 503.30,532.21 503.78,532.17 504.26,532.14 504.74,532.12 505.23,532.11 505.95,532.09 506.67,532.07 507.40,532.05 508.12,532.02 508.85,532.00 509.57,531.98 510.29,531.96 511.02,531.94 511.74,531.92 512.47,531.90 513.19,531.88 513.91,531.86 514.64,531.84 515.36,531.82 516.09,531.80 516.81,531.78 517.53,531.76 518.26,531.74 518.98,531.72 519.71,531.70 520.43,531.68 521.15,531.66 521.88,531.64 522.60,531.62 523.33,531.60 524.05,531.58 524.77,531.56 525.50,531.54 526.22,531.52 526.95,531.50 527.67,531.48 528.39,531.46 529.12,531.44 529.84,531.42 530.57,531.40 531.29,531.38 532.01,531.36 532.74,531.34 533.46,531.32 534.19,531.30 534.91,531.28 535.63,531.26 536.12,531.25 536.60,531.23 537.08,532.77 537.57,533.88 538.05,534.67 538.53,535.24 539.01,535.65 539.50,535.95 539.98,536.16 540.46,536.31 540.94,536.42 541.43,536.51 542.15,536.59 542.87,536.64 543.60,536.68 544.32,536.70 545.05,536.72 545.77,536.74 546.49,536.75 547.22,536.76 547.94,536.77 548.67,536.77 549.39,536.78 550.11,536.79 550.84,536.80 551.56,536.80 552.29,536.81 553.01,536.82 553.73,536.83 554.46,536.83 555.18,536.84 555.91,536.85 556.63,536.85 557.35,536.86 558.08,536.87 558.80,536.87 559.53,536.88 560.25,536.89 560.97,536.89 561.70,536.90 562.42,536.91 563.15,536.91 563.87,536.92 564.59,536.93 565.32,536.93 566.04,536.94 566.77,536.95 567.49,536.95 568.21,536.96 568.94,536.96 569.66,536.97 570.39,536.98 571.11,536.98 571.83,536.99 572.56,537.00" fill="none" stroke="#3fcb7a" stroke-width="1.1" stroke-linejoin="round"/>
<polyline points="500.40,538.00 500.88,530.84 501.37,527.61 501.85,526.14 502.33,525.47 502.81,525.15 503.30,525.00 503.78,524.91 504.26,524.86 504.74,524.83 505.23,524.79 505.95,524.75 506.67,524.72 507.40,524.68 508.12,524.64 508.85,524.60 509.57,524.57 510.29,524.53 511.02,524.49 511.74,524.45 512.47,524.42 513.19,524.38 513.91,524.34 514.64,524.30 515.36,524.27 516.09,524.23 516.81,524.19 517.53,524.15 518.26,524.12 518.98,524.08 519.71,524.04 520.43,524.00 521.15,523.97 521.88,523.93 522.60,523.89 523.33,523.85 524.05,523.82 524.77,523.78 525.50,523.74 526.22,523.70 526.95,523.67 527.67,523.63 528.39,523.59 529.12,523.55 529.84,523.52 530.57,523.48 531.29,523.44 532.01,523.41 532.74,523.37 533.46,523.33 534.19,523.29 534.91,523.26 535.63,523.22 536.12,523.19 536.60,523.17 537.08,526.67 537.57,529.18 538.05,530.98 538.53,532.27 539.01,533.20 539.50,533.87 539.98,534.35 540.46,534.70 540.94,534.95 541.43,535.14 542.15,535.33 542.87,535.44 543.60,535.52 544.32,535.58 545.05,535.61 545.77,535.64 546.49,535.66 547.22,535.68 547.94,535.70 548.67,535.72 549.39,535.73 550.11,535.74 550.84,535.76 551.56,535.77 552.29,535.79 553.01,535.80 553.73,535.81 554.46,535.83 555.18,535.84 555.91,535.85 556.63,535.86 557.35,535.88 558.08,535.89 558.80,535.90 559.53,535.91 560.25,535.93 560.97,535.94 561.70,535.95 562.42,535.96 563.15,535.98 563.87,535.99 564.59,536.00 565.32,536.01 566.04,536.02 566.77,536.04 567.49,536.05 568.21,536.06 568.94,536.07 569.66,536.08 570.39,536.09 571.11,536.11 571.83,536.12 572.56,536.13" fill="none" stroke="#ec3d3d" stroke-width="1.1" stroke-linejoin="round"/>
<polyline points="500.40,538.00 500.88,524.58 501.37,519.60 501.85,517.73 502.33,517.00 502.81,516.69 503.30,516.53 503.78,516.43 504.26,516.35 504.74,516.28 505.23,516.21 505.95,516.11 506.67,516.01 507.40,515.91 508.12,515.80 508.85,515.70 509.57,515.60 510.29,515.50 511.02,515.40 511.74,515.30 512.47,515.20 513.19,515.10 513.91,515.00 514.64,514.90 515.36,514.80 516.09,514.70 516.81,514.60 517.53,514.49 518.26,514.39 518.98,514.29 519.71,514.19 520.43,514.09 521.15,513.99 521.88,513.89 522.60,513.79 523.33,513.69 524.05,513.59 524.77,513.49 525.50,513.39 526.22,513.28 526.95,513.18 527.67,513.08 528.39,512.98 529.12,512.88 529.84,512.78 530.57,512.68 531.29,512.58 532.01,512.48 532.74,512.38 533.46,512.28 534.19,512.18 534.91,512.08 535.63,511.97 536.12,511.91 536.60,511.84 537.08,517.43 537.57,521.44 538.05,524.32 538.53,526.39 539.01,527.88 539.50,528.96 539.98,529.74 540.46,530.30 540.94,530.71 541.43,531.02 542.15,531.33 542.87,531.53 543.60,531.67 544.32,531.77 545.05,531.84 545.77,531.90 546.49,531.95 547.22,532.00 547.94,532.04 548.67,532.08 549.39,532.11 550.11,532.15 550.84,532.19 551.56,532.22 552.29,532.26 553.01,532.29 553.73,532.33 554.46,532.36 555.18,532.39 555.91,532.43 556.63,532.46 557.35,532.49 558.08,532.53 558.80,532.56 559.53,532.59 560.25,532.62 560.97,532.66 561.70,532.69 562.42,532.72 563.15,532.75 563.87,532.78 564.59,532.81 565.32,532.85 566.04,532.88 566.77,532.91 567.49,532.94 568.21,532.97 568.94,533.00 569.66,533.03 570.39,533.06 571.11,533.09 571.83,533.12 572.56,533.15" fill="none" stroke="#62a6f4" stroke-width="1.1" stroke-linejoin="round"/>
<line x1="499.50" y1="466.00" x2="499.50" y2="539.00" stroke="#222" stroke-width="1.0"/>
<line x1="496.40" y1="538.50" x2="499.50" y2="538.50" stroke="#333" stroke-width="1.0"/>
<text transform="translate(495.80,540.90) scale(0.83,1)" font-size="8.1" text-anchor="end" class="c">0.0</text>
<line x1="496.40" y1="514.50" x2="499.50" y2="514.50" stroke="#333" stroke-width="1.0"/>
<text transform="translate(495.80,516.90) scale(0.83,1)" font-size="8.1" text-anchor="end" class="c">0.5</text>
<line x1="496.40" y1="490.50" x2="499.50" y2="490.50" stroke="#333" stroke-width="1.0"/>
<text transform="translate(495.80,492.90) scale(0.83,1)" font-size="8.1" text-anchor="end" class="c">1.0</text>
<line x1="496.40" y1="466.50" x2="499.50" y2="466.50" stroke="#333" stroke-width="1.0"/>
<text transform="translate(495.80,468.90) scale(0.83,1)" font-size="8.1" text-anchor="end" class="c">1.5</text>
<line x1="499.00" y1="538.50" x2="573.00" y2="538.50" stroke="#222" stroke-width="1.0"/>
<line x1="500.50" y1="538.50" x2="500.50" y2="541.80" stroke="#333" stroke-width="1.0"/>
<text transform="translate(500.40,548.80) scale(0.91,1)" font-size="7.5" text-anchor="middle" class="c">0</text>
<line x1="524.50" y1="538.50" x2="524.50" y2="541.80" stroke="#333" stroke-width="1.0"/>
<text transform="translate(524.53,548.80) scale(0.91,1)" font-size="7.5" text-anchor="middle" class="c">200</text>
<line x1="548.50" y1="538.50" x2="548.50" y2="541.80" stroke="#333" stroke-width="1.0"/>
<text transform="translate(548.67,548.80) scale(0.91,1)" font-size="7.5" text-anchor="middle" class="c">400</text>
<line x1="572.50" y1="538.50" x2="572.50" y2="541.80" stroke="#333" stroke-width="1.0"/>
<text transform="translate(572.80,548.80) scale(0.91,1)" font-size="7.5" text-anchor="middle" class="c">600</text>
<text x="536.60" y="460.30" font-size="6.55" text-anchor="middle" class="c">VHH3-M1</text>
<text x="500.05" y="472.50" font-size="6.7" class="c">K<tspan font-size="4.82" dy="1.6">D</tspan></text>
<text x="508.00" y="472.50" font-size="6.7" class="c" textLength="35.55" lengthAdjust="spacingAndGlyphs">=504.0 nM</text>
<polyline points="596.40,537.15 596.88,537.16 597.37,537.17 597.85,537.17 598.34,537.18 598.82,537.18 599.31,537.19 599.79,537.20 600.28,537.20 600.76,537.21 601.25,537.22 601.97,537.22 602.70,537.23 603.43,537.24 604.15,537.25 604.88,537.26 605.61,537.27 606.34,537.28 607.06,537.29 607.79,537.30 608.52,537.31 609.24,537.32 609.97,537.32 610.70,537.33 611.42,537.34 612.15,537.35 612.88,537.36 613.61,537.37 614.33,537.38 615.06,537.39 615.79,537.40 616.51,537.41 617.24,537.42 617.97,537.42 618.69,537.43 619.42,537.44 620.15,537.45 620.88,537.46 621.60,537.47 622.33,537.48 623.06,537.49 623.78,537.50 624.51,537.51 625.24,537.52 625.96,537.52 626.69,537.53 627.42,537.54 628.15,537.55 628.87,537.56 629.60,537.57 630.33,537.58 631.05,537.59 631.78,537.60 632.27,537.60 632.75,537.61 633.23,537.59 633.72,537.56 634.20,537.54 634.69,537.51 635.17,537.49 635.66,537.46 636.14,537.44 636.63,537.42 637.11,537.39 637.60,537.37 638.32,537.33 639.05,537.29 639.78,537.26 640.50,537.22 641.23,537.18 641.96,537.15 642.69,537.11 643.41,537.08 644.14,537.04 644.87,537.00 645.59,536.97 646.32,536.93 647.05,536.89 647.77,536.86 648.50,536.82 649.23,536.78 649.96,536.75 650.68,536.71 651.41,536.68 652.14,536.64 652.86,536.60 653.59,536.57 654.32,536.53 655.04,536.49 655.77,536.46 656.50,536.42 657.23,536.38 657.95,536.35 658.68,536.31 659.41,536.28 660.13,536.24 660.86,536.20 661.59,536.17 662.31,536.13 663.04,536.09 663.77,536.06 664.50,536.02 665.22,535.98 665.95,535.95 666.68,535.91 667.40,535.88 668.13,535.84 668.86,535.80" fill="none" stroke="#ec3d3d" stroke-width="1.1" stroke-linejoin="round"/>
<polyline points="596.40,536.70 596.88,536.71 597.37,536.71 597.85,536.72 598.34,536.72 598.82,536.73 599.31,536.74 599.79,536.74 600.28,536.75 600.76,536.75 601.25,536.76 601.97,536.77 602.70,536.78 603.43,536.79 604.15,536.80 604.88,536.81 605.61,536.82 606.34,536.82 607.06,536.83 607.79,536.84 608.52,536.85 609.24,536.86 609.97,536.87 610.70,536.88 611.42,536.89 612.15,536.90 612.88,536.91 613.61,536.92 614.33,536.92 615.06,536.93 615.79,536.94 616.51,536.95 617.24,536.96 617.97,536.97 618.69,536.98 619.42,536.99 620.15,537.00 620.88,537.01 621.60,537.02 622.33,537.02 623.06,537.03 623.78,537.04 624.51,537.05 625.24,537.06 625.96,537.07 626.69,537.08 627.42,537.09 628.15,537.10 628.87,537.11 629.60,537.12 630.33,537.12 631.05,537.13 631.78,537.14 632.27,537.15 632.75,537.15 633.23,537.12 633.72,537.08 634.20,537.05 634.69,537.01 635.17,536.97 635.66,536.94 636.14,536.90 636.63,536.86 637.11,536.83 637.60,536.79 638.32,536.74 639.05,536.68 639.78,536.63 640.50,536.57 641.23,536.52 641.96,536.46 642.69,536.41 643.41,536.35 644.14,536.30 644.87,536.25 645.59,536.22 646.32,536.19 647.05,536.16 647.77,536.14 648.50,536.11 649.23,536.08 649.96,536.05 650.68,536.03 651.41,536.00 652.14,535.97 652.86,535.95 653.59,535.92 654.32,535.89 655.04,535.86 655.77,535.84 656.50,535.81 657.23,535.78 657.95,535.75 658.68,535.73 659.41,535.70 660.13,535.67 660.86,535.65 661.59,535.62 662.31,535.59 663.04,535.56 663.77,535.54 664.50,535.51 665.22,535.48 665.95,535.45 666.68,535.43 667.40,535.40 668.13,535.37 668.86,535.35" fill="none" stroke="#3fcb7a" stroke-width="1.1" stroke-linejoin="round"/>
<polyline points="596.40,536.70 596.88,536.69 597.37,536.69 597.85,536.68 598.34,536.68 598.82,536.67 599.31,536.66 599.79,536.66 600.28,536.65 600.76,536.65 601.25,536.64 601.97,536.63 602.70,536.62 603.43,536.61 604.15,536.60 604.88,536.59 605.61,536.58 606.34,536.58 607.06,536.57 607.79,536.56 608.52,536.55 609.24,536.54 609.97,536.53 610.70,536.52 611.42,536.51 612.15,536.50 612.88,536.49 613.61,536.48 614.33,536.48 615.06,536.47 615.79,536.46 616.51,536.45 617.24,536.44 617.97,536.43 618.69,536.42 619.42,536.41 620.15,536.40 620.88,536.39 621.60,536.38 622.33,536.38 623.06,536.37 623.78,536.36 624.51,536.35 625.24,536.34 625.96,536.33 626.69,536.32 627.42,536.31 628.15,536.30 628.87,536.29 629.60,536.28 630.33,536.28 631.05,536.27 631.78,536.26 632.27,536.25 632.75,536.25 633.23,536.24 633.72,536.23 634.20,536.23 634.69,536.22 635.17,536.22 635.66,536.21 636.14,536.20 636.63,536.20 637.11,536.19 637.60,536.18 638.32,536.18 639.05,536.17 639.78,536.16 640.50,536.15 641.23,536.14 641.96,536.13 642.69,536.12 643.41,536.11 644.14,536.10 644.87,536.09 645.59,536.08 646.32,536.08 647.05,536.07 647.77,536.06 648.50,536.05 649.23,536.04 649.96,536.03 650.68,536.02 651.41,536.01 652.14,536.00 652.86,535.99 653.59,535.98 654.32,535.98 655.04,535.97 655.77,535.96 656.50,535.95 657.23,535.94 657.95,535.93 658.68,535.92 659.41,535.91 660.13,535.90 660.86,535.89 661.59,535.88 662.31,535.88 663.04,535.87 663.77,535.86 664.50,535.85 665.22,535.84 665.95,535.83 666.68,535.82 667.40,535.81 668.13,535.80 668.86,535.79" fill="none" stroke="#ab4fe6" stroke-width="1.1" stroke-linejoin="round"/>
<polyline points="596.40,537.61 596.88,537.62 597.37,537.62 597.85,537.63 598.34,537.63 598.82,537.64 599.31,537.65 599.79,537.65 600.28,537.66 600.76,537.66 601.25,537.67 601.97,537.68 602.70,537.69 603.43,537.70 604.15,537.71 604.88,537.72 605.61,537.72 606.34,537.73 607.06,537.74 607.79,537.75 608.52,537.76 609.24,537.77 609.97,537.78 610.70,537.79 611.42,537.80 612.15,537.81 612.88,537.82 613.61,537.82 614.33,537.83 615.06,537.84 615.79,537.85 616.51,537.86 617.24,537.87 617.97,537.88 618.69,537.89 619.42,537.90 620.15,537.91 620.88,537.92 621.60,537.92 622.33,537.93 623.06,537.94 623.78,537.95 624.51,537.96 625.24,537.97 625.96,537.98 626.69,537.99 627.42,538.00 628.15,538.01 628.87,538.02 629.60,538.02 630.33,538.03 631.05,538.04 631.78,538.05 632.27,538.06 632.75,538.06 633.23,538.01 633.72,537.95 634.20,537.90 634.69,537.85 635.17,537.79 635.66,537.74 636.14,537.68 636.63,537.63 637.11,537.57 637.60,537.52 638.32,537.44 639.05,537.35 639.78,537.27 640.50,537.19 641.23,537.11 641.96,537.03 642.69,536.95 643.41,536.86 644.14,536.78 644.87,536.70 645.59,536.66 646.32,536.62 647.05,536.58 647.77,536.54 648.50,536.50 649.23,536.45 649.96,536.41 650.68,536.37 651.41,536.33 652.14,536.29 652.86,536.25 653.59,536.21 654.32,536.17 655.04,536.13 655.77,536.09 656.50,536.05 657.23,536.00 657.95,535.96 658.68,535.92 659.41,535.88 660.13,535.84 660.86,535.80 661.59,535.76 662.31,535.72 663.04,535.68 663.77,535.64 664.50,535.60 665.22,535.55 665.95,535.51 666.68,535.47 667.40,535.43 668.13,535.39 668.86,535.35" fill="none" stroke="#62a6f4" stroke-width="1.1" stroke-linejoin="round"/>
<line x1="595.50" y1="468.00" x2="595.50" y2="540.00" stroke="#222" stroke-width="1.0"/>
<line x1="592.40" y1="536.50" x2="595.50" y2="536.50" stroke="#333" stroke-width="1.0"/>
<text transform="translate(591.80,539.60) scale(0.83,1)" font-size="8.1" text-anchor="end" class="c">0.0</text>
<line x1="592.40" y1="513.50" x2="595.50" y2="513.50" stroke="#333" stroke-width="1.0"/>
<text transform="translate(591.80,516.87) scale(0.83,1)" font-size="8.1" text-anchor="end" class="c">0.5</text>
<line x1="592.40" y1="491.50" x2="595.50" y2="491.50" stroke="#333" stroke-width="1.0"/>
<text transform="translate(591.80,494.13) scale(0.83,1)" font-size="8.1" text-anchor="end" class="c">1.0</text>
<line x1="592.40" y1="468.50" x2="595.50" y2="468.50" stroke="#333" stroke-width="1.0"/>
<text transform="translate(591.80,471.40) scale(0.83,1)" font-size="8.1" text-anchor="end" class="c">1.5</text>
<line x1="595.00" y1="539.50" x2="670.00" y2="539.50" stroke="#222" stroke-width="1.0"/>
<line x1="596.50" y1="539.50" x2="596.50" y2="542.80" stroke="#333" stroke-width="1.0"/>
<text transform="translate(596.40,549.60) scale(0.91,1)" font-size="7.5" text-anchor="middle" class="c">0</text>
<line x1="620.50" y1="539.50" x2="620.50" y2="542.80" stroke="#333" stroke-width="1.0"/>
<text transform="translate(620.63,549.60) scale(0.91,1)" font-size="7.5" text-anchor="middle" class="c">200</text>
<line x1="644.50" y1="539.50" x2="644.50" y2="542.80" stroke="#333" stroke-width="1.0"/>
<text transform="translate(644.87,549.60) scale(0.91,1)" font-size="7.5" text-anchor="middle" class="c">400</text>
<line x1="669.50" y1="539.50" x2="669.50" y2="542.80" stroke="#333" stroke-width="1.0"/>
<text transform="translate(669.10,549.60) scale(0.91,1)" font-size="7.5" text-anchor="middle" class="c">600</text>
<text x="632.75" y="460.30" font-size="6.55" text-anchor="middle" class="c">VHH3-M2</text>
<polyline points="404.20,639.10 404.67,637.54 405.15,636.84 405.62,636.53 406.10,636.38 406.57,636.32 407.05,636.29 407.52,636.27 408.00,636.27 408.47,636.26 408.95,636.26 409.66,636.25 410.37,636.25 411.08,636.25 411.79,636.25 412.51,636.24 413.22,636.24 413.93,636.24 414.64,636.23 415.35,636.23 416.07,636.23 416.78,636.23 417.49,636.22 418.20,636.22 418.91,636.22 419.63,636.21 420.34,636.21 421.05,636.21 421.76,636.21 422.47,636.20 423.19,636.20 423.90,636.20 424.61,636.20 425.32,636.19 426.03,636.19 426.75,636.19 427.46,636.18 428.17,636.18 428.88,636.18 429.59,636.18 430.31,636.17 431.02,636.17 431.73,636.17 432.44,636.16 433.15,636.16 433.87,636.16 434.58,636.16 435.29,636.15 436.00,636.15 436.71,636.15 437.43,636.14 438.14,636.14 438.85,636.14 439.33,636.14 439.80,636.13 440.27,636.85 440.75,637.36 441.22,637.73 441.70,638.00 442.17,638.19 442.65,638.32 443.12,638.42 443.60,638.49 444.07,638.55 444.55,638.58 445.26,638.62 445.97,638.64 446.68,638.66 447.39,638.67 448.11,638.68 448.82,638.68 449.53,638.69 450.24,638.69 450.95,638.69 451.67,638.70 452.38,638.70 453.09,638.70 453.80,638.70 454.51,638.71 455.23,638.71 455.94,638.71 456.65,638.71 457.36,638.72 458.07,638.72 458.79,638.72 459.50,638.72 460.21,638.73 460.92,638.73 461.63,638.73 462.35,638.73 463.06,638.73 463.77,638.74 464.48,638.74 465.19,638.74 465.91,638.74 466.62,638.75 467.33,638.75 468.04,638.75 468.75,638.75 469.47,638.75 470.18,638.76 470.89,638.76 471.60,638.76 472.31,638.76 473.03,638.76 473.74,638.77 474.45,638.77 475.16,638.77" fill="none" stroke="#ab4fe6" stroke-width="1.1" stroke-linejoin="round"/>
<polyline points="404.20,639.10 404.67,635.20 405.15,633.44 405.62,632.64 406.10,632.28 406.57,632.10 407.05,632.02 407.52,631.97 408.00,631.95 408.47,631.93 408.95,631.91 409.66,631.89 410.37,631.87 411.08,631.85 411.79,631.83 412.51,631.81 413.22,631.79 413.93,631.77 414.64,631.75 415.35,631.73 416.07,631.71 416.78,631.69 417.49,631.67 418.20,631.65 418.91,631.63 419.63,631.61 420.34,631.59 421.05,631.57 421.76,631.55 422.47,631.53 423.19,631.51 423.90,631.49 424.61,631.47 425.32,631.45 426.03,631.43 426.75,631.41 427.46,631.39 428.17,631.37 428.88,631.35 429.59,631.33 430.31,631.32 431.02,631.30 431.73,631.28 432.44,631.26 433.15,631.24 433.87,631.22 434.58,631.20 435.29,631.18 436.00,631.16 436.71,631.14 437.43,631.12 438.14,631.10 438.85,631.08 439.33,631.06 439.80,631.05 440.27,633.00 440.75,634.39 441.22,635.39 441.70,636.11 442.17,636.62 442.65,637.00 443.12,637.26 443.60,637.46 444.07,637.59 444.55,637.70 445.26,637.80 445.97,637.86 446.68,637.91 447.39,637.93 448.11,637.95 448.82,637.97 449.53,637.98 450.24,637.99 450.95,638.00 451.67,638.01 452.38,638.01 453.09,638.02 453.80,638.03 454.51,638.03 455.23,638.04 455.94,638.05 456.65,638.05 457.36,638.06 458.07,638.07 458.79,638.07 459.50,638.08 460.21,638.08 460.92,638.09 461.63,638.10 462.35,638.10 463.06,638.11 463.77,638.11 464.48,638.12 465.19,638.13 465.91,638.13 466.62,638.14 467.33,638.14 468.04,638.15 468.75,638.15 469.47,638.16 470.18,638.17 470.89,638.17 471.60,638.18 472.31,638.18 473.03,638.19 473.74,638.19 474.45,638.20 475.16,638.20" fill="none" stroke="#3fcb7a" stroke-width="1.1" stroke-linejoin="round"/>
<polyline points="404.20,639.10 404.67,631.30 405.15,627.78 405.62,626.19 406.10,625.46 406.57,625.12 407.05,624.95 407.52,624.86 408.00,624.81 408.47,624.77 408.95,624.74 409.66,624.70 410.37,624.66 411.08,624.63 411.79,624.59 412.51,624.55 413.22,624.51 413.93,624.48 414.64,624.44 415.35,624.40 416.07,624.37 416.78,624.33 417.49,624.29 418.20,624.26 418.91,624.22 419.63,624.18 420.34,624.15 421.05,624.11 421.76,624.07 422.47,624.04 423.19,624.00 423.90,623.96 424.61,623.93 425.32,623.89 426.03,623.85 426.75,623.82 427.46,623.78 428.17,623.74 428.88,623.71 429.59,623.67 430.31,623.63 431.02,623.60 431.73,623.56 432.44,623.52 433.15,623.49 433.87,623.45 434.58,623.41 435.29,623.38 436.00,623.34 436.71,623.30 437.43,623.27 438.14,623.23 438.85,623.19 439.33,623.17 439.80,623.14 440.27,627.13 440.75,629.99 441.22,632.04 441.70,633.51 442.17,634.57 442.65,635.33 443.12,635.88 443.60,636.27 444.07,636.55 444.55,636.76 445.26,636.97 445.97,637.10 446.68,637.18 447.39,637.24 448.11,637.27 448.82,637.30 449.53,637.32 450.24,637.34 450.95,637.35 451.67,637.36 452.38,637.38 453.09,637.39 453.80,637.40 454.51,637.41 455.23,637.42 455.94,637.43 456.65,637.44 457.36,637.45 458.07,637.46 458.79,637.47 459.50,637.48 460.21,637.49 460.92,637.50 461.63,637.51 462.35,637.52 463.06,637.53 463.77,637.54 464.48,637.54 465.19,637.55 465.91,637.56 466.62,637.57 467.33,637.58 468.04,637.59 468.75,637.60 469.47,637.61 470.18,637.62 470.89,637.63 471.60,637.64 472.31,637.64 473.03,637.65 473.74,637.66 474.45,637.67 475.16,637.68" fill="none" stroke="#ec3d3d" stroke-width="1.1" stroke-linejoin="round"/>
<polyline points="404.20,639.10 404.67,624.16 405.15,618.63 405.62,616.55 406.10,615.75 406.57,615.41 407.05,615.25 407.52,615.15 408.00,615.08 408.47,615.01 408.95,614.95 409.66,614.85 410.37,614.76 411.08,614.67 411.79,614.57 412.51,614.48 413.22,614.39 413.93,614.29 414.64,614.20 415.35,614.11 416.07,614.01 416.78,613.92 417.49,613.83 418.20,613.73 418.91,613.64 419.63,613.55 420.34,613.45 421.05,613.36 421.76,613.27 422.47,613.17 423.19,613.08 423.90,612.99 424.61,612.90 425.32,612.80 426.03,612.71 426.75,612.62 427.46,612.52 428.17,612.43 428.88,612.34 429.59,612.24 430.31,612.15 431.02,612.06 431.73,611.96 432.44,611.87 433.15,611.78 433.87,611.68 434.58,611.59 435.29,611.50 436.00,611.40 436.71,611.31 437.43,611.22 438.14,611.12 438.85,611.03 439.33,610.97 439.80,610.91 440.27,617.32 440.75,621.93 441.22,625.23 441.70,627.61 442.17,629.31 442.65,630.54 443.12,631.43 443.60,632.07 444.07,632.54 444.55,632.88 445.26,633.23 445.97,633.45 446.68,633.60 447.39,633.70 448.11,633.78 448.82,633.83 449.53,633.88 450.24,633.92 450.95,633.96 451.67,633.99 452.38,634.03 453.09,634.06 453.80,634.09 454.51,634.12 455.23,634.15 455.94,634.18 456.65,634.21 457.36,634.24 458.07,634.27 458.79,634.30 459.50,634.32 460.21,634.35 460.92,634.38 461.63,634.41 462.35,634.44 463.06,634.47 463.77,634.49 464.48,634.52 465.19,634.55 465.91,634.57 466.62,634.60 467.33,634.63 468.04,634.66 468.75,634.68 469.47,634.71 470.18,634.73 470.89,634.76 471.60,634.79 472.31,634.81 473.03,634.84 473.74,634.86 474.45,634.89 475.16,634.91" fill="none" stroke="#62a6f4" stroke-width="1.1" stroke-linejoin="round"/>
<line x1="403.50" y1="568.00" x2="403.50" y2="640.00" stroke="#222" stroke-width="1.0"/>
<line x1="400.40" y1="639.50" x2="403.50" y2="639.50" stroke="#333" stroke-width="1.0"/>
<text transform="translate(399.60,642.00) scale(0.83,1)" font-size="8.1" text-anchor="end" class="c">0.0</text>
<line x1="400.40" y1="615.50" x2="403.50" y2="615.50" stroke="#333" stroke-width="1.0"/>
<text transform="translate(399.60,618.47) scale(0.83,1)" font-size="8.1" text-anchor="end" class="c">0.5</text>
<line x1="400.40" y1="592.50" x2="403.50" y2="592.50" stroke="#333" stroke-width="1.0"/>
<text transform="translate(399.60,594.93) scale(0.83,1)" font-size="8.1" text-anchor="end" class="c">1.0</text>
<line x1="400.40" y1="568.50" x2="403.50" y2="568.50" stroke="#333" stroke-width="1.0"/>
<text transform="translate(399.60,571.40) scale(0.83,1)" font-size="8.1" text-anchor="end" class="c">1.5</text>
<line x1="403.00" y1="639.50" x2="476.00" y2="639.50" stroke="#222" stroke-width="1.0"/>
<line x1="404.50" y1="639.50" x2="404.50" y2="642.80" stroke="#333" stroke-width="1.0"/>
<text transform="translate(404.20,649.80) scale(0.91,1)" font-size="7.5" text-anchor="middle" class="c">0</text>
<line x1="427.50" y1="639.50" x2="427.50" y2="642.80" stroke="#333" stroke-width="1.0"/>
<text transform="translate(427.93,649.80) scale(0.91,1)" font-size="7.5" text-anchor="middle" class="c">200</text>
<line x1="451.50" y1="639.50" x2="451.50" y2="642.80" stroke="#333" stroke-width="1.0"/>
<text transform="translate(451.67,649.80) scale(0.91,1)" font-size="7.5" text-anchor="middle" class="c">400</text>
<line x1="475.50" y1="639.50" x2="475.50" y2="642.80" stroke="#333" stroke-width="1.0"/>
<text transform="translate(475.40,649.80) scale(0.91,1)" font-size="7.5" text-anchor="middle" class="c">600</text>
<text x="439.80" y="562.30" font-size="6.55" text-anchor="middle" class="c">VHH3-M3</text>
<text x="405.55" y="575.40" font-size="6.7" class="c">K<tspan font-size="4.82" dy="1.6">D</tspan></text>
<text x="413.50" y="575.40" font-size="6.7" class="c" textLength="35.05" lengthAdjust="spacingAndGlyphs">=451.0 nM</text>
<polyline points="500.40,634.80 500.88,634.80 501.37,634.80 501.85,634.80 502.33,634.80 502.81,634.80 503.30,634.80 503.78,634.80 504.26,634.80 504.74,634.80 505.23,634.80 505.95,634.80 506.67,634.80 507.40,634.80 508.12,634.80 508.85,634.80 509.57,634.80 510.29,634.80 511.02,634.80 511.74,634.80 512.47,634.80 513.19,634.80 513.91,634.80 514.64,634.80 515.36,634.80 516.09,634.80 516.81,634.80 517.53,634.80 518.26,634.80 518.98,634.80 519.71,634.80 520.43,634.80 521.15,634.80 521.88,634.80 522.60,634.80 523.33,634.80 524.05,634.80 524.77,634.80 525.50,634.80 526.22,634.80 526.95,634.80 527.67,634.80 528.39,634.80 529.12,634.80 529.84,634.80 530.57,634.80 531.29,634.80 532.01,634.80 532.74,634.80 533.46,634.80 534.19,634.80 534.91,634.80 535.63,634.80 536.12,634.80 536.60,634.80 537.08,634.79 537.57,634.78 538.05,634.77 538.53,634.75 539.01,634.74 539.50,634.73 539.98,634.72 540.46,634.71 540.94,634.70 541.43,634.68 542.15,634.67 542.87,634.65 543.60,634.63 544.32,634.62 545.05,634.60 545.77,634.58 546.49,634.56 547.22,634.55 547.94,634.53 548.67,634.51 549.39,634.49 550.11,634.48 550.84,634.46 551.56,634.44 552.29,634.43 553.01,634.41 553.73,634.39 554.46,634.37 555.18,634.36 555.91,634.34 556.63,634.32 557.35,634.30 558.08,634.29 558.80,634.27 559.53,634.25 560.25,634.24 560.97,634.22 561.70,634.20 562.42,634.18 563.15,634.17 563.87,634.15 564.59,634.13 565.32,634.11 566.04,634.10 566.77,634.08 567.49,634.06 568.21,634.05 568.94,634.03 569.66,634.01 570.39,633.99 571.11,633.98 571.83,633.96 572.56,633.94" fill="none" stroke="#ab4fe6" stroke-width="1.1" stroke-linejoin="round"/>
<polyline points="500.40,636.10 500.88,636.10 501.37,636.10 501.85,636.10 502.33,636.10 502.81,636.10 503.30,636.10 503.78,636.10 504.26,636.10 504.74,636.10 505.23,636.10 505.95,636.10 506.67,636.10 507.40,636.10 508.12,636.10 508.85,636.10 509.57,636.10 510.29,636.10 511.02,636.10 511.74,636.10 512.47,636.10 513.19,636.10 513.91,636.10 514.64,636.10 515.36,636.10 516.09,636.10 516.81,636.10 517.53,636.10 518.26,636.10 518.98,636.10 519.71,636.10 520.43,636.10 521.15,636.10 521.88,636.10 522.60,636.10 523.33,636.10 524.05,636.10 524.77,636.10 525.50,636.10 526.22,636.10 526.95,636.10 527.67,636.10 528.39,636.10 529.12,636.10 529.84,636.10 530.57,636.10 531.29,636.10 532.01,636.10 532.74,636.10 533.46,636.10 534.19,636.10 534.91,636.10 535.63,636.10 536.12,636.10 536.60,636.10 537.08,636.06 537.57,636.03 538.05,635.99 538.53,635.96 539.01,635.92 539.50,635.89 539.98,635.85 540.46,635.82 540.94,635.78 541.43,635.75 542.15,635.70 542.87,635.65 543.60,635.59 544.32,635.54 545.05,635.49 545.77,635.44 546.49,635.39 547.22,635.34 547.94,635.28 548.67,635.23 549.39,635.18 550.11,635.13 550.84,635.08 551.56,635.02 552.29,634.97 553.01,634.92 553.73,634.87 554.46,634.82 555.18,634.77 555.91,634.71 556.63,634.66 557.35,634.61 558.08,634.56 558.80,634.51 559.53,634.45 560.25,634.40 560.97,634.35 561.70,634.30 562.42,634.25 563.15,634.20 563.87,634.14 564.59,634.09 565.32,634.04 566.04,633.99 566.77,633.94 567.49,633.88 568.21,633.83 568.94,633.78 569.66,633.73 570.39,633.68 571.11,633.62 571.83,633.57 572.56,633.52" fill="none" stroke="#3fcb7a" stroke-width="1.1" stroke-linejoin="round"/>
<polyline points="500.40,637.39 500.88,637.39 501.37,637.39 501.85,637.39 502.33,637.39 502.81,637.39 503.30,637.39 503.78,637.39 504.26,637.39 504.74,637.39 505.23,637.39 505.95,637.39 506.67,637.39 507.40,637.39 508.12,637.39 508.85,637.39 509.57,637.39 510.29,637.39 511.02,637.39 511.74,637.39 512.47,637.39 513.19,637.39 513.91,637.39 514.64,637.39 515.36,637.39 516.09,637.39 516.81,637.39 517.53,637.39 518.26,637.39 518.98,637.39 519.71,637.39 520.43,637.39 521.15,637.39 521.88,637.39 522.60,637.39 523.33,637.39 524.05,637.39 524.77,637.39 525.50,637.39 526.22,637.39 526.95,637.39 527.67,637.39 528.39,637.39 529.12,637.39 529.84,637.39 530.57,637.39 531.29,637.39 532.01,637.39 532.74,637.39 533.46,637.39 534.19,637.39 534.91,637.39 535.63,637.39 536.12,637.39 536.60,637.39 537.08,637.34 537.57,637.29 538.05,637.24 538.53,637.18 539.01,637.13 539.50,637.08 539.98,637.03 540.46,636.98 540.94,636.93 541.43,636.87 542.15,636.80 542.87,636.72 543.60,636.64 544.32,636.56 545.05,636.48 545.77,636.41 546.49,636.33 547.22,636.25 547.94,636.17 548.67,636.10 549.39,636.02 550.11,635.94 550.84,635.86 551.56,635.78 552.29,635.71 553.01,635.63 553.73,635.55 554.46,635.47 555.18,635.40 555.91,635.32 556.63,635.24 557.35,635.16 558.08,635.09 558.80,635.01 559.53,634.93 560.25,634.85 560.97,634.77 561.70,634.70 562.42,634.62 563.15,634.54 563.87,634.46 564.59,634.39 565.32,634.31 566.04,634.23 566.77,634.15 567.49,634.07 568.21,634.00 568.94,633.92 569.66,633.84 570.39,633.76 571.11,633.69 571.83,633.61 572.56,633.53" fill="none" stroke="#ec3d3d" stroke-width="1.1" stroke-linejoin="round"/>
<polyline points="500.40,638.69 500.88,638.69 501.37,638.69 501.85,638.69 502.33,638.69 502.81,638.69 503.30,638.69 503.78,638.69 504.26,638.69 504.74,638.69 505.23,638.69 505.95,638.69 506.67,638.69 507.40,638.69 508.12,638.69 508.85,638.69 509.57,638.69 510.29,638.69 511.02,638.69 511.74,638.69 512.47,638.69 513.19,638.69 513.91,638.69 514.64,638.69 515.36,638.69 516.09,638.69 516.81,638.69 517.53,638.69 518.26,638.69 518.98,638.69 519.71,638.69 520.43,638.69 521.15,638.69 521.88,638.69 522.60,638.69 523.33,638.69 524.05,638.69 524.77,638.69 525.50,638.69 526.22,638.69 526.95,638.69 527.67,638.69 528.39,638.69 529.12,638.69 529.84,638.69 530.57,638.69 531.29,638.69 532.01,638.69 532.74,638.69 533.46,638.69 534.19,638.69 534.91,638.69 535.63,638.69 536.12,638.69 536.60,638.69 537.08,638.65 537.57,638.62 538.05,638.58 538.53,638.55 539.01,638.52 539.50,638.48 539.98,638.45 540.46,638.41 540.94,638.38 541.43,638.34 542.15,638.29 542.87,638.24 543.60,638.19 544.32,638.14 545.05,638.08 545.77,638.03 546.49,637.98 547.22,637.93 547.94,637.88 548.67,637.82 549.39,637.77 550.11,637.72 550.84,637.67 551.56,637.62 552.29,637.56 553.01,637.51 553.73,637.46 554.46,637.41 555.18,637.36 555.91,637.31 556.63,637.25 557.35,637.20 558.08,637.15 558.80,637.10 559.53,637.05 560.25,636.99 560.97,636.94 561.70,636.89 562.42,636.84 563.15,636.79 563.87,636.74 564.59,636.68 565.32,636.63 566.04,636.58 566.77,636.53 567.49,636.48 568.21,636.42 568.94,636.37 569.66,636.32 570.39,636.27 571.11,636.22 571.83,636.17 572.56,636.11" fill="none" stroke="#62a6f4" stroke-width="1.1" stroke-linejoin="round"/>
<line x1="499.50" y1="570.00" x2="499.50" y2="640.00" stroke="#222" stroke-width="1.0"/>
<line x1="496.40" y1="634.50" x2="499.50" y2="634.50" stroke="#333" stroke-width="1.0"/>
<text transform="translate(495.80,637.70) scale(0.83,1)" font-size="8.1" text-anchor="end" class="c">0.0</text>
<line x1="496.40" y1="613.50" x2="499.50" y2="613.50" stroke="#333" stroke-width="1.0"/>
<text transform="translate(495.80,616.10) scale(0.83,1)" font-size="8.1" text-anchor="end" class="c">0.5</text>
<line x1="496.40" y1="591.50" x2="499.50" y2="591.50" stroke="#333" stroke-width="1.0"/>
<text transform="translate(495.80,594.50) scale(0.83,1)" font-size="8.1" text-anchor="end" class="c">1.0</text>
<line x1="496.40" y1="570.50" x2="499.50" y2="570.50" stroke="#333" stroke-width="1.0"/>
<text transform="translate(495.80,572.90) scale(0.83,1)" font-size="8.1" text-anchor="end" class="c">1.5</text>
<line x1="499.00" y1="639.50" x2="573.00" y2="639.50" stroke="#222" stroke-width="1.0"/>
<line x1="500.50" y1="639.50" x2="500.50" y2="642.80" stroke="#333" stroke-width="1.0"/>
<text transform="translate(500.40,649.60) scale(0.91,1)" font-size="7.5" text-anchor="middle" class="c">0</text>
<line x1="524.50" y1="639.50" x2="524.50" y2="642.80" stroke="#333" stroke-width="1.0"/>
<text transform="translate(524.53,649.60) scale(0.91,1)" font-size="7.5" text-anchor="middle" class="c">200</text>
<line x1="548.50" y1="639.50" x2="548.50" y2="642.80" stroke="#333" stroke-width="1.0"/>
<text transform="translate(548.67,649.60) scale(0.91,1)" font-size="7.5" text-anchor="middle" class="c">400</text>
<line x1="572.50" y1="639.50" x2="572.50" y2="642.80" stroke="#333" stroke-width="1.0"/>
<text transform="translate(572.80,649.60) scale(0.91,1)" font-size="7.5" text-anchor="middle" class="c">600</text>
<text x="536.60" y="562.30" font-size="6.55" text-anchor="middle" class="c">VHH3-M4</text>
<polyline points="597.10,635.23 597.58,635.27 598.06,635.30 598.54,635.34 599.02,635.37 599.50,635.40 599.98,635.44 600.46,635.47 600.94,635.51 601.42,635.54 601.90,635.58 602.62,635.63 603.34,635.66 604.06,635.66 604.78,635.66 605.50,635.66 606.22,635.66 606.94,635.66 607.66,635.66 608.38,635.66 609.10,635.66 609.82,635.66 610.54,635.66 611.26,635.66 611.98,635.66 612.70,635.66 613.42,635.66 614.14,635.66 614.86,635.66 615.58,635.66 616.30,635.66 617.02,635.66 617.74,635.66 618.46,635.66 619.18,635.66 619.90,635.66 620.62,635.66 621.34,635.66 622.06,635.66 622.78,635.66 623.50,635.66 624.22,635.66 624.94,635.66 625.66,635.66 626.38,635.66 627.10,635.66 627.82,635.66 628.54,635.66 629.26,635.66 629.98,635.66 630.70,635.66 631.42,635.66 632.14,635.66 632.62,635.66 633.10,635.66 633.58,635.63 634.06,635.59 634.54,635.56 635.02,635.53 635.50,635.49 635.98,635.46 636.46,635.42 636.94,635.39 637.42,635.35 637.90,635.32 638.62,635.27 639.34,635.21 640.06,635.16 640.78,635.11 641.50,635.06 642.22,635.01 642.94,634.96 643.66,634.90 644.38,634.85 645.10,634.80 645.82,634.79 646.54,634.77 647.26,634.76 647.98,634.75 648.70,634.74 649.42,634.72 650.14,634.71 650.86,634.70 651.58,634.68 652.30,634.67 653.02,634.66 653.74,634.64 654.46,634.63 655.18,634.62 655.90,634.61 656.62,634.59 657.34,634.58 658.06,634.57 658.78,634.55 659.50,634.54 660.22,634.53 660.94,634.51 661.66,634.50 662.38,634.49 663.10,634.48 663.82,634.46 664.54,634.45 665.26,634.44 665.98,634.42 666.70,634.41 667.42,634.40 668.14,634.39 668.86,634.37" fill="none" stroke="#ec3d3d" stroke-width="1.1" stroke-linejoin="round"/>
<polyline points="597.10,634.37 597.58,634.54 598.06,634.71 598.54,634.89 599.02,635.06 599.50,635.23 599.98,635.40 600.46,635.58 600.94,635.67 601.42,635.67 601.90,635.68 602.62,635.69 603.34,635.70 604.06,635.71 604.78,635.72 605.50,635.73 606.22,635.74 606.94,635.75 607.66,635.76 608.38,635.77 609.10,635.78 609.82,635.79 610.54,635.80 611.26,635.80 611.98,635.81 612.70,635.82 613.42,635.83 614.14,635.84 614.86,635.85 615.58,635.86 616.30,635.87 617.02,635.88 617.74,635.89 618.46,635.90 619.18,635.91 619.90,635.92 620.62,635.93 621.34,635.94 622.06,635.95 622.78,635.96 623.50,635.97 624.22,635.98 624.94,635.99 625.66,636.00 626.38,636.01 627.10,636.02 627.82,636.03 628.54,636.04 629.26,636.04 629.98,636.05 630.70,636.06 631.42,636.07 632.14,636.08 632.62,636.09 633.10,636.10 633.58,636.01 634.06,635.92 634.54,635.84 635.02,635.75 635.50,635.66 635.98,635.58 636.46,635.49 636.94,635.40 637.42,635.32 637.90,635.23 638.62,635.10 639.34,634.97 640.06,634.84 640.78,634.71 641.50,634.58 642.22,634.45 642.94,634.36 643.66,634.35 644.38,634.34 645.10,634.33 645.82,634.32 646.54,634.31 647.26,634.29 647.98,634.28 648.70,634.27 649.42,634.26 650.14,634.25 650.86,634.23 651.58,634.22 652.30,634.21 653.02,634.20 653.74,634.19 654.46,634.18 655.18,634.16 655.90,634.15 656.62,634.14 657.34,634.13 658.06,634.12 658.78,634.10 659.50,634.09 660.22,634.08 660.94,634.07 661.66,634.06 662.38,634.05 663.10,634.03 663.82,634.02 664.54,634.01 665.26,634.00 665.98,633.99 666.70,633.98 667.42,633.96 668.14,633.95 668.86,633.94" fill="none" stroke="#62a6f4" stroke-width="1.1" stroke-linejoin="round"/>
<line x1="596.50" y1="570.00" x2="596.50" y2="640.00" stroke="#222" stroke-width="1.0"/>
<line x1="593.40" y1="634.50" x2="596.50" y2="634.50" stroke="#333" stroke-width="1.0"/>
<text transform="translate(592.50,637.70) scale(0.83,1)" font-size="8.1" text-anchor="end" class="c">0.0</text>
<line x1="593.40" y1="613.50" x2="596.50" y2="613.50" stroke="#333" stroke-width="1.0"/>
<text transform="translate(592.50,616.10) scale(0.83,1)" font-size="8.1" text-anchor="end" class="c">0.5</text>
<line x1="593.40" y1="591.50" x2="596.50" y2="591.50" stroke="#333" stroke-width="1.0"/>
<text transform="translate(592.50,594.50) scale(0.83,1)" font-size="8.1" text-anchor="end" class="c">1.0</text>
<line x1="593.40" y1="570.50" x2="596.50" y2="570.50" stroke="#333" stroke-width="1.0"/>
<text transform="translate(592.50,572.90) scale(0.83,1)" font-size="8.1" text-anchor="end" class="c">1.5</text>
<line x1="596.00" y1="639.50" x2="670.00" y2="639.50" stroke="#222" stroke-width="1.0"/>
<line x1="597.50" y1="639.50" x2="597.50" y2="642.80" stroke="#333" stroke-width="1.0"/>
<text transform="translate(597.10,649.60) scale(0.91,1)" font-size="7.5" text-anchor="middle" class="c">0</text>
<line x1="621.50" y1="639.50" x2="621.50" y2="642.80" stroke="#333" stroke-width="1.0"/>
<text transform="translate(621.10,649.60) scale(0.91,1)" font-size="7.5" text-anchor="middle" class="c">200</text>
<line x1="645.50" y1="639.50" x2="645.50" y2="642.80" stroke="#333" stroke-width="1.0"/>
<text transform="translate(645.10,649.60) scale(0.91,1)" font-size="7.5" text-anchor="middle" class="c">400</text>
<line x1="669.50" y1="639.50" x2="669.50" y2="642.80" stroke="#333" stroke-width="1.0"/>
<text transform="translate(669.10,649.60) scale(0.91,1)" font-size="7.5" text-anchor="middle" class="c">600</text>
<text x="633.10" y="562.30" font-size="6.55" text-anchor="middle" class="c">VHH3-M5</text>
<line x1="32.30" y1="877.70" x2="354.50" y2="877.70" stroke="#d9d9d9" stroke-width="0.7"/>
<line x1="32.30" y1="842.60" x2="354.50" y2="842.60" stroke="#d9d9d9" stroke-width="0.7"/>
<line x1="32.30" y1="807.50" x2="354.50" y2="807.50" stroke="#d9d9d9" stroke-width="0.7"/>
<line x1="32.30" y1="772.40" x2="354.50" y2="772.40" stroke="#d9d9d9" stroke-width="0.7"/>
<rect x="46.90" y="874.01" width="22.80" height="38.79" fill="#a3ccf2"/>
<rect x="46.90" y="808.73" width="22.80" height="65.29" fill="#efae80"/>
<rect x="46.90" y="772.40" width="22.80" height="36.33" fill="#9af7a9"/>
<rect x="46.90" y="739.05" width="22.80" height="33.35" fill="#f19b9b"/>
<rect x="137.10" y="873.66" width="22.80" height="39.14" fill="#a3ccf2"/>
<rect x="137.10" y="800.66" width="22.80" height="73.01" fill="#efae80"/>
<rect x="137.10" y="755.90" width="22.80" height="44.75" fill="#9af7a9"/>
<rect x="137.10" y="739.41" width="22.80" height="16.50" fill="#f19b9b"/>
<rect x="227.20" y="880.33" width="22.80" height="32.47" fill="#a3ccf2"/>
<rect x="227.20" y="818.38" width="22.80" height="61.95" fill="#efae80"/>
<rect x="227.20" y="773.45" width="22.80" height="44.93" fill="#9af7a9"/>
<rect x="227.20" y="739.05" width="22.80" height="34.40" fill="#f19b9b"/>
<rect x="317.20" y="884.19" width="22.80" height="28.61" fill="#a3ccf2"/>
<rect x="317.20" y="818.38" width="22.80" height="65.81" fill="#efae80"/>
<rect x="317.20" y="783.98" width="22.80" height="34.40" fill="#9af7a9"/>
<rect x="317.20" y="739.05" width="22.80" height="44.93" fill="#f19b9b"/>
<line x1="32.30" y1="877.70" x2="354.50" y2="877.70" stroke="rgba(160,160,160,0.5)" stroke-width="0.6"/>
<line x1="32.30" y1="842.60" x2="354.50" y2="842.60" stroke="rgba(160,160,160,0.5)" stroke-width="0.6"/>
<line x1="32.30" y1="807.50" x2="354.50" y2="807.50" stroke="rgba(160,160,160,0.5)" stroke-width="0.6"/>
<line x1="32.30" y1="772.40" x2="354.50" y2="772.40" stroke="rgba(160,160,160,0.5)" stroke-width="0.6"/>
<text x="51.80" y="882.11" font-size="6.7" fill="#262626" stroke="#262626" stroke-width="0.12" textLength="13.0" lengthAdjust="spacingAndGlyphs">22%</text>
<text x="51.80" y="816.83" font-size="6.7" fill="#262626" stroke="#262626" stroke-width="0.12" textLength="13.0" lengthAdjust="spacingAndGlyphs">37%</text>
<text x="51.80" y="780.50" font-size="6.7" fill="#262626" stroke="#262626" stroke-width="0.12" textLength="13.0" lengthAdjust="spacingAndGlyphs">21%</text>
<text x="51.80" y="747.15" font-size="6.7" fill="#262626" stroke="#262626" stroke-width="0.12" textLength="13.0" lengthAdjust="spacingAndGlyphs">19%</text>
<text x="142.00" y="881.76" font-size="6.7" fill="#262626" stroke="#262626" stroke-width="0.12" textLength="13.0" lengthAdjust="spacingAndGlyphs">23%</text>
<text x="142.00" y="808.76" font-size="6.7" fill="#262626" stroke="#262626" stroke-width="0.12" textLength="13.0" lengthAdjust="spacingAndGlyphs">41%</text>
<text x="142.00" y="764.00" font-size="6.7" fill="#262626" stroke="#262626" stroke-width="0.12" textLength="13.0" lengthAdjust="spacingAndGlyphs">25%</text>
<text x="143.85" y="747.51" font-size="6.7" fill="#262626" stroke="#262626" stroke-width="0.12" textLength="9.3" lengthAdjust="spacingAndGlyphs">9%</text>
<text x="232.10" y="888.43" font-size="6.7" fill="#262626" stroke="#262626" stroke-width="0.12" textLength="13.0" lengthAdjust="spacingAndGlyphs">19%</text>
<text x="232.10" y="826.48" font-size="6.7" fill="#262626" stroke="#262626" stroke-width="0.12" textLength="13.0" lengthAdjust="spacingAndGlyphs">35%</text>
<text x="232.10" y="781.55" font-size="6.7" fill="#262626" stroke="#262626" stroke-width="0.12" textLength="13.0" lengthAdjust="spacingAndGlyphs">25%</text>
<text x="232.10" y="747.15" font-size="6.7" fill="#262626" stroke="#262626" stroke-width="0.12" textLength="13.0" lengthAdjust="spacingAndGlyphs">20%</text>
<text x="322.10" y="892.29" font-size="6.7" fill="#262626" stroke="#262626" stroke-width="0.12" textLength="13.0" lengthAdjust="spacingAndGlyphs">17%</text>
<text x="322.10" y="826.48" font-size="6.7" fill="#262626" stroke="#262626" stroke-width="0.12" textLength="13.0" lengthAdjust="spacingAndGlyphs">37%</text>
<text x="322.10" y="792.08" font-size="6.7" fill="#262626" stroke="#262626" stroke-width="0.12" textLength="13.0" lengthAdjust="spacingAndGlyphs">20%</text>
<text x="322.10" y="747.15" font-size="6.7" fill="#262626" stroke="#262626" stroke-width="0.12" textLength="13.0" lengthAdjust="spacingAndGlyphs">26%</text>
<rect x="32.30" y="737.30" width="322.20" height="175.50" fill="none" stroke="#555" stroke-width="0.9"/>
<line x1="29.80" y1="912.80" x2="32.30" y2="912.80" stroke="#555" stroke-width="0.8"/>
<text x="29.00" y="915.15" font-size="6.6" text-anchor="end" fill="#262626">0%</text>
<line x1="29.80" y1="877.70" x2="32.30" y2="877.70" stroke="#555" stroke-width="0.8"/>
<text x="29.00" y="880.05" font-size="6.6" text-anchor="end" fill="#262626">20%</text>
<line x1="29.80" y1="842.60" x2="32.30" y2="842.60" stroke="#555" stroke-width="0.8"/>
<text x="29.00" y="844.95" font-size="6.6" text-anchor="end" fill="#262626">40%</text>
<line x1="29.80" y1="807.50" x2="32.30" y2="807.50" stroke="#555" stroke-width="0.8"/>
<text x="29.00" y="809.85" font-size="6.6" text-anchor="end" fill="#262626">60%</text>
<line x1="29.80" y1="772.40" x2="32.30" y2="772.40" stroke="#555" stroke-width="0.8"/>
<text x="29.00" y="774.75" font-size="6.6" text-anchor="end" fill="#262626">80%</text>
<line x1="29.80" y1="737.30" x2="32.30" y2="737.30" stroke="#555" stroke-width="0.8"/>
<text x="29.00" y="739.65" font-size="6.6" text-anchor="end" fill="#262626">100%</text>
<line x1="58.30" y1="912.80" x2="58.30" y2="915.30" stroke="#555" stroke-width="0.8"/>
<text x="58.30" y="921.80" font-size="6.6" text-anchor="middle" fill="#262626">n622</text>
<line x1="148.50" y1="912.80" x2="148.50" y2="915.30" stroke="#555" stroke-width="0.8"/>
<text x="148.50" y="921.80" font-size="6.6" text-anchor="middle" fill="#262626">n67</text>
<line x1="238.60" y1="912.80" x2="238.60" y2="915.30" stroke="#555" stroke-width="0.8"/>
<text x="238.60" y="921.80" font-size="6.6" text-anchor="middle" fill="#262626">n118</text>
<line x1="328.60" y1="912.80" x2="328.60" y2="915.30" stroke="#555" stroke-width="0.8"/>
<text x="328.60" y="921.80" font-size="6.6" text-anchor="middle" fill="#262626">VHH3</text>
<text x="193.6" y="931.0" font-size="8.2" text-anchor="middle" fill="#262626" textLength="39" lengthAdjust="spacingAndGlyphs">Protein ID</text>
<text transform="translate(8.0,826.0) rotate(-90)" font-size="8.2" text-anchor="middle" fill="#262626" textLength="41" lengthAdjust="spacingAndGlyphs">Proportion</text>
<text x="193.0" y="734.2" font-size="10.0" text-anchor="middle" fill="#262626" textLength="258" lengthAdjust="spacingAndGlyphs">The probability of the amino acid mutation number</text>
<rect x="178.1" y="872.0" width="30.7" height="38.5" rx="1.6" fill="#fff" fill-opacity="0.85" stroke="#d8d8d8" stroke-width="0.7"/>
<rect x="180.1" y="875.00" width="12.8" height="4.3" fill="#a3ccf2"/>
<text x="197.40" y="879.50" font-size="6.6" fill="#262626">1</text>
<rect x="180.1" y="884.00" width="12.8" height="4.3" fill="#efae80"/>
<text x="197.40" y="888.50" font-size="6.6" fill="#262626">2</text>
<rect x="180.1" y="893.00" width="12.8" height="4.3" fill="#9af7a9"/>
<text x="197.40" y="897.50" font-size="6.6" fill="#262626">3</text>
<rect x="180.1" y="902.00" width="12.8" height="4.3" fill="#f19b9b"/>
<text x="197.40" y="906.50" font-size="6.6" fill="#262626">&gt;3</text>
<line x1="433.78" y1="717.00" x2="433.78" y2="944.30" stroke="#d6d6d6" stroke-width="0.8"/>
<line x1="433.78" y1="944.30" x2="433.78" y2="946.90" stroke="#555" stroke-width="0.8"/>
<text x="433.78" y="955.40" font-size="8.8" text-anchor="middle" fill="#262626">6.2</text>
<line x1="468.90" y1="717.00" x2="468.90" y2="944.30" stroke="#d6d6d6" stroke-width="0.8"/>
<line x1="468.90" y1="944.30" x2="468.90" y2="946.90" stroke="#555" stroke-width="0.8"/>
<text x="468.90" y="955.40" font-size="8.8" text-anchor="middle" fill="#262626">6.4</text>
<line x1="504.02" y1="717.00" x2="504.02" y2="944.30" stroke="#d6d6d6" stroke-width="0.8"/>
<line x1="504.02" y1="944.30" x2="504.02" y2="946.90" stroke="#555" stroke-width="0.8"/>
<text x="504.02" y="955.40" font-size="8.8" text-anchor="middle" fill="#262626">6.6</text>
<line x1="539.14" y1="717.00" x2="539.14" y2="944.30" stroke="#d6d6d6" stroke-width="0.8"/>
<line x1="539.14" y1="944.30" x2="539.14" y2="946.90" stroke="#555" stroke-width="0.8"/>
<text x="539.14" y="955.40" font-size="8.8" text-anchor="middle" fill="#262626">6.8</text>
<line x1="574.26" y1="717.00" x2="574.26" y2="944.30" stroke="#d6d6d6" stroke-width="0.8"/>
<line x1="574.26" y1="944.30" x2="574.26" y2="946.90" stroke="#555" stroke-width="0.8"/>
<text x="574.26" y="955.40" font-size="8.8" text-anchor="middle" fill="#262626">7.0</text>
<line x1="609.38" y1="717.00" x2="609.38" y2="944.30" stroke="#d6d6d6" stroke-width="0.8"/>
<line x1="609.38" y1="944.30" x2="609.38" y2="946.90" stroke="#555" stroke-width="0.8"/>
<text x="609.38" y="955.40" font-size="8.8" text-anchor="middle" fill="#262626">7.2</text>
<line x1="644.50" y1="717.00" x2="644.50" y2="944.30" stroke="#d6d6d6" stroke-width="0.8"/>
<line x1="644.50" y1="944.30" x2="644.50" y2="946.90" stroke="#555" stroke-width="0.8"/>
<text x="644.50" y="955.40" font-size="8.8" text-anchor="middle" fill="#262626">7.4</text>
<line x1="430.00" y1="944.50" x2="432.60" y2="944.50" stroke="#555" stroke-width="0.8"/>
<text x="429.00" y="947.70" font-size="8.9" text-anchor="end" fill="#262626">5.75</text>
<line x1="432.60" y1="899.00" x2="661.60" y2="899.00" stroke="#d6d6d6" stroke-width="0.8"/>
<line x1="430.00" y1="899.00" x2="432.60" y2="899.00" stroke="#555" stroke-width="0.8"/>
<text x="429.00" y="902.20" font-size="8.9" text-anchor="end" fill="#262626">5.80</text>
<line x1="432.60" y1="853.50" x2="661.60" y2="853.50" stroke="#d6d6d6" stroke-width="0.8"/>
<line x1="430.00" y1="853.50" x2="432.60" y2="853.50" stroke="#555" stroke-width="0.8"/>
<text x="429.00" y="856.70" font-size="8.9" text-anchor="end" fill="#262626">5.85</text>
<line x1="432.60" y1="808.00" x2="661.60" y2="808.00" stroke="#d6d6d6" stroke-width="0.8"/>
<line x1="430.00" y1="808.00" x2="432.60" y2="808.00" stroke="#555" stroke-width="0.8"/>
<text x="429.00" y="811.20" font-size="8.9" text-anchor="end" fill="#262626">5.90</text>
<line x1="432.60" y1="762.50" x2="661.60" y2="762.50" stroke="#d6d6d6" stroke-width="0.8"/>
<line x1="430.00" y1="762.50" x2="432.60" y2="762.50" stroke="#555" stroke-width="0.8"/>
<text x="429.00" y="765.70" font-size="8.9" text-anchor="end" fill="#262626">5.95</text>
<line x1="430.00" y1="717.00" x2="432.60" y2="717.00" stroke="#555" stroke-width="0.8"/>
<text x="429.00" y="720.20" font-size="8.9" text-anchor="end" fill="#262626">6.00</text>
<rect x="432.60" y="717.00" width="229.00" height="227.30" fill="none" stroke="#555" stroke-width="0.9"/>
<circle cx="449.90" cy="885.70" r="3.3" fill="#4c8fc4"/>
<circle cx="458.50" cy="900.30" r="3.3" fill="#4c8fc4"/>
<circle cx="458.80" cy="875.10" r="3.3" fill="#f09238"/>
<circle cx="466.10" cy="872.20" r="3.3" fill="#f09238"/>
<circle cx="607.80" cy="878.80" r="3.3" fill="#f09238"/>
<circle cx="656.50" cy="877.00" r="3.3" fill="#f09238"/>
<circle cx="485.60" cy="807.70" r="3.3" fill="#57b657"/>
<circle cx="593.70" cy="770.40" r="3.3" fill="#57b657"/>
<circle cx="585.30" cy="809.90" r="3.3" fill="#57b657"/>
<circle cx="611.10" cy="817.60" r="3.3" fill="#57b657"/>
<circle cx="544.10" cy="749.30" r="3.3" fill="#d84b52"/>
<circle cx="555.60" cy="749.30" r="3.3" fill="#d84b52"/>
<circle cx="609.50" cy="721.40" r="3.3" fill="#d84b52"/>
<text x="455.6" y="739.9" font-size="10.4" fill="#262626" textLength="85.5" lengthAdjust="spacingAndGlyphs">Correlation: 0.40</text>
<text x="453.0" y="714.1" font-size="10.4" fill="#262626" textLength="188.6" lengthAdjust="spacingAndGlyphs">Correlation of affinity vs pred affinity</text>
<text x="547.0" y="964.6" font-size="8.5" text-anchor="middle" fill="#262626" textLength="52" lengthAdjust="spacingAndGlyphs">affinity (pkd)</text>
<text transform="translate(408.4,830.6) rotate(-90)" font-size="8.5" text-anchor="middle" fill="#262626" textLength="73.5" lengthAdjust="spacingAndGlyphs">pred affinity (pkd)</text>
<rect x="605.3" y="889.9" width="52.6" height="50.3" rx="1.8" fill="#fff" fill-opacity="0.85" stroke="#d8d8d8" stroke-width="0.7"/>
<circle cx="616.7" cy="897.10" r="3.3" fill="#4c8fc4"/>
<text x="631.8" y="900.20" font-size="8.5" fill="#262626" textLength="22.0" lengthAdjust="spacingAndGlyphs">VHH3</text>
<circle cx="616.7" cy="909.20" r="3.3" fill="#f09238"/>
<text x="631.8" y="912.30" font-size="8.5" fill="#262626" textLength="14.8" lengthAdjust="spacingAndGlyphs">n67</text>
<circle cx="616.7" cy="921.30" r="3.3" fill="#57b657"/>
<text x="631.8" y="924.40" font-size="8.5" fill="#262626" textLength="19.6" lengthAdjust="spacingAndGlyphs">n622</text>
<circle cx="616.7" cy="933.40" r="3.3" fill="#d84b52"/>
<text x="631.8" y="936.50" font-size="8.5" fill="#262626" textLength="19.9" lengthAdjust="spacingAndGlyphs">n118</text>
</svg>
</body></html>
